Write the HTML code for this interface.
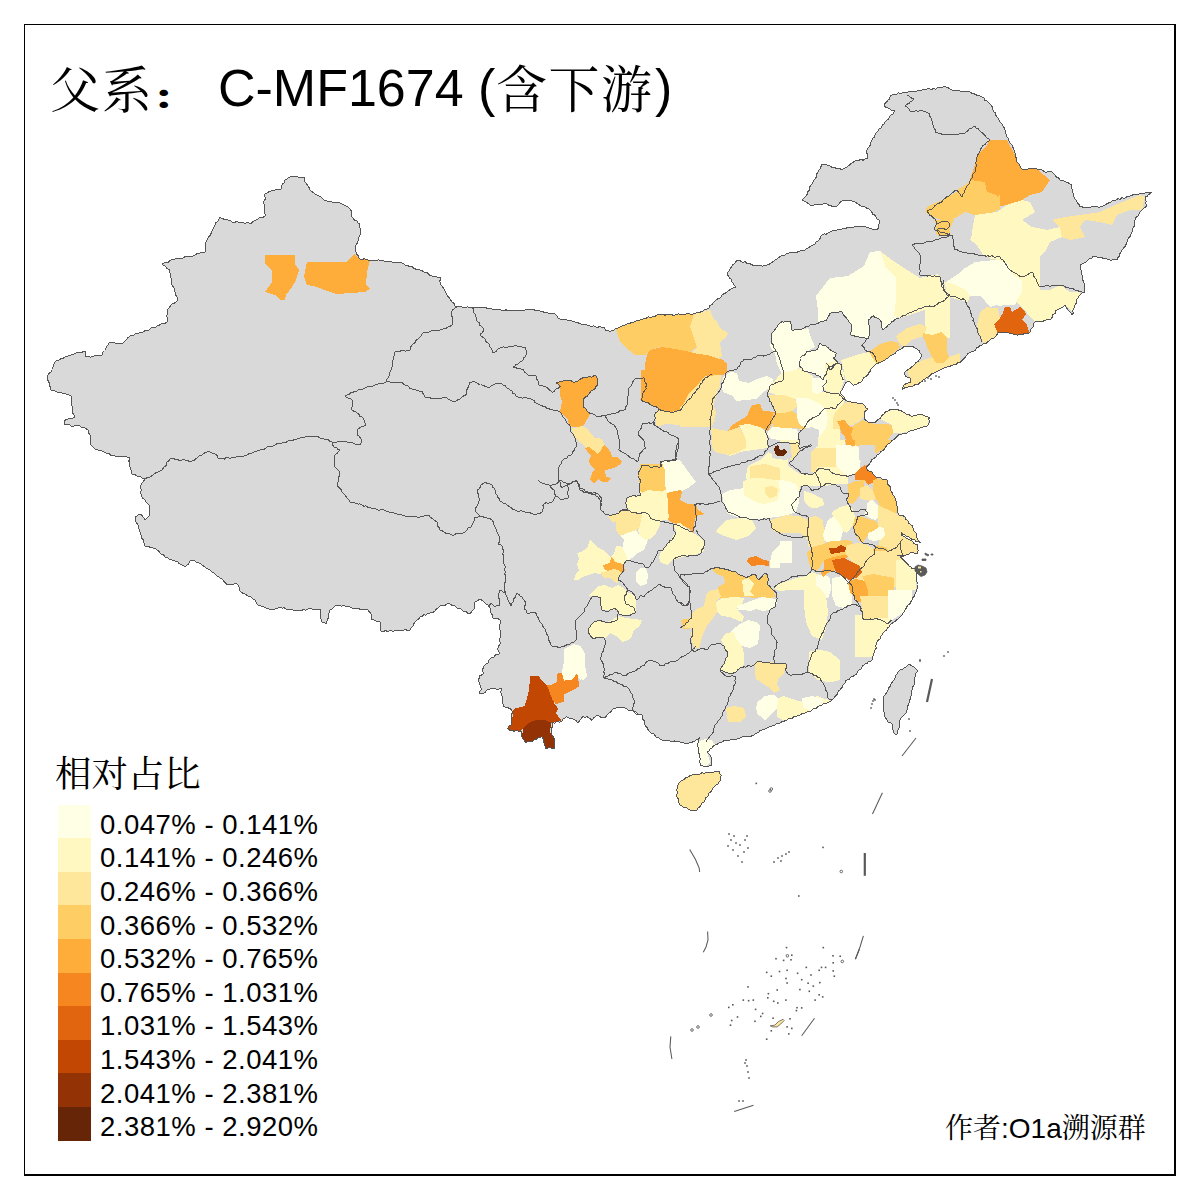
<!DOCTYPE html>
<html><head><meta charset="utf-8"><style>
html,body{margin:0;padding:0;background:#fff;}
svg{display:block;}
.lat{font-family:"Liberation Sans",sans-serif;}
.cjk{font-family:"Liberation Serif","Noto Serif CJK SC",serif;}
</style></head><body>
<svg width="1200" height="1200" viewBox="0 0 1200 1200">
<rect x="0" y="0" width="1200" height="1200" fill="#fff"/>
<g id="map">
<defs><clipPath id="cn"><path d="M47 377 L48 375.1 L49.1 373.2 L50.9 371.9 L52 370 L52.1 367.8 L53.6 366 L54.1 363.9 L55 362 L56.7 360.5 L59 360.3 L60.7 358.7 L63 358.4 L64.7 357 L66.8 356.2 L69 355.8 L71 355 L73.1 354.9 L74.8 353.3 L76.9 352.9 L79.1 352.9 L81.2 352.8 L83 351.7 L85 351 L85.5 353 L85 355.1 L86 357 L88.1 356.2 L90.3 357.3 L92.4 356.3 L94.5 355.9 L96.7 355.7 L98.8 355.9 L101 356 L102.5 354.4 L102.9 352 L104.5 350.5 L105.7 348.7 L106.6 346.6 L107.9 344.9 L109 343 L111.2 342.5 L113.4 342.7 L115.5 343.1 L117.6 343.9 L119.8 343.7 L122 344 L123.4 342.2 L125.3 340.9 L126.8 339.2 L128.2 337.4 L130 336 L132.1 335.7 L134.1 334.9 L135.9 333.5 L138 333.3 L140 332.5 L142.2 332.3 L144.1 331.4 L145.9 330.1 L148.2 330.4 L150 329 L151.7 327.7 L153.7 327.3 L155.8 327 L157.4 325.4 L159.4 325.1 L161.1 323.7 L163.3 323.8 L165.3 323.1 L167 322 L167.1 320 L167.6 318 L166.7 316 L167.3 314 L167.1 312 L167 310 L168.8 308.1 L170.3 306 L172 304 L174.3 303.1 L176.4 301.9 L178 300 L177.2 298.1 L176.7 296.2 L175.1 294.6 L175.3 292.4 L174.5 290.5 L174.2 288.5 L173.2 286.7 L172 285 L171.4 282.9 L171.3 280.7 L171.4 278.5 L170.1 276.5 L170.5 274.3 L169.8 272.2 L170 270 L168.1 269.3 L166.4 268.1 L165.4 266.1 L163.3 265.6 L162 264 L164 262.8 L166.3 262.2 L168.7 262 L170.4 260.1 L172.8 259.8 L175 259 L177 258.7 L179.1 258.8 L181.1 258.3 L183.1 257.9 L184.9 256.7 L187 256.5 L189 256 L191.1 256.4 L193.1 256.1 L195 255 L196.8 253.9 L198.9 253.3 L200.9 252.8 L202.9 252.2 L205 252 L205.2 250 L205.5 248 L205.2 246 L205.1 243.9 L206 242 L206.9 240.1 L207.8 238.1 L209.1 236.4 L210.6 234.8 L211.3 232.7 L212 230.7 L213.2 228.9 L214.2 227 L215 225 L215.7 222.6 L218 221.3 L219.1 219.2 L220 217 L221.8 218.4 L223.8 219.1 L226.1 219.4 L228.1 220.2 L230.2 220.6 L232 222 L234.1 222.4 L236.3 221.8 L238.4 222 L240.5 222.5 L242.6 222.6 L244.7 223.1 L246.8 222.9 L249 223 L251 224 L252.3 222.3 L254 220.9 L256 220 L258.2 218.8 L260.2 217.3 L263 217.5 L265 216 L265 214 L264.1 212 L264.1 210 L264.1 208 L264 206 L264 204 L263.6 201.9 L264.9 200.1 L265.3 198.1 L264.7 196 L265 194 L267 193.2 L268.8 191.8 L270.8 191 L272.9 190.6 L275 190 L276.9 189.3 L279.1 189.8 L281 189 L281.5 186.5 L282.3 184.2 L284.6 182.5 L285 180 L287.5 178.5 L290 177 L292 176.5 L294 177.1 L296 176.3 L298 177 L300 177.7 L302 177.5 L304 177 L304.2 179.6 L305 182 L306.6 183.8 L307.7 185.9 L309.2 187.7 L310 190 L311.5 191.6 L313.5 192.5 L315 194.1 L317 195 L319.1 196 L321.2 197 L322.8 199 L324.6 200.4 L327 201 L328.9 201.7 L331 201.9 L333 202.1 L335 202.2 L337 202 L339.5 202.6 L341.7 204 L344 205 L346.1 206.2 L348.4 207.1 L350 209 L351.2 210.8 L351.3 212.9 L351.9 214.9 L352 217 L353.4 218.6 L354.7 220.3 L356.9 221.1 L358 223.1 L360 224 L359.6 226.1 L360 228.1 L361 230 L360.5 232.4 L360.1 234.8 L359 237 L358.6 239.1 L357.9 241.2 L357.2 243.2 L356 245 L355.8 247.3 L355.4 249.7 L356 252 L356.6 254 L358 255.5 L358.8 257.4 L360 259 L362.1 259.6 L364.3 258.7 L366.4 259.7 L368.5 260.2 L370.7 260.1 L372.8 260.2 L375 260 L377 260.1 L379 259.9 L381 261 L383 260.5 L385 261.4 L386.9 261.8 L389 261.1 L391 261.3 L392.9 262.3 L395 262.2 L397 262 L399.1 262.1 L401.2 262.7 L403.2 263.3 L404.8 265 L407 265 L409 266.3 L411.5 266.2 L413.3 268 L415.4 269 L417.7 269.4 L420 270 L422.1 270.8 L424 272.1 L426.2 272.5 L428.3 273.3 L429.7 275.6 L432 276 L434 276.5 L436 276.5 L437.9 277.4 L440 277 L440.3 279 L439.9 281.1 L440.3 283.1 L441 285 L442.6 286.8 L443.7 288.8 L444.9 290.8 L446.1 292.8 L447 295 L448.1 296.8 L449.8 298.3 L450.8 300.2 L452 302 L454.1 303.3 L454.9 305.8 L457 307 L459.1 306.8 L461.3 306.9 L463.4 307.1 L465.6 307.6 L467.7 306.9 L469.9 307.6 L472 307 L474 307.2 L476 307.4 L478 307.6 L480.1 307.1 L482 307.9 L484 307.7 L486.1 307.7 L488 309 L490 308.3 L492 309 L494 309.5 L496 309.5 L498 309.3 L500 309.8 L502 310.1 L504 310.6 L506.1 309.8 L508 310.7 L510 310.4 L512 311 L514 310.4 L516 311 L518 310.3 L520 310.2 L522 310.3 L524.1 310.3 L526 309.4 L528 309.4 L530 309 L532.1 309.4 L534.2 309.9 L536.2 310.5 L538.3 310.6 L540.4 311.1 L542.5 311.5 L544.5 312.6 L546.6 312.6 L548.6 313.3 L550.7 313.8 L553 313.2 L555 314 L556.6 315.7 L557.9 317.8 L560 319 L562 319.9 L564.4 319.3 L566.5 319.7 L568.6 320.6 L570.8 320.5 L572.9 321.2 L575 322 L577.3 322 L579.2 323.4 L581.3 324.1 L583.4 324.9 L585.8 324.4 L587.8 325.7 L590 326 L592 326.4 L594 325.8 L596 327 L598 327.3 L600 326.3 L602 327.5 L604 327 L605.1 328.9 L606 331 L608 330.7 L610.1 331.2 L612.1 330.7 L614 330 L615.6 328.7 L617.6 328.2 L619.5 327.5 L621.2 326.4 L623 325.4 L625 325 L627.1 324 L629.4 323.9 L631.2 322.2 L633.6 322.2 L635.7 321.3 L637.6 320 L640 320 L642.1 319.1 L644.3 318.9 L646.4 318.1 L648.3 316.9 L650.8 317.6 L652.9 316.7 L655.1 316.3 L657 315 L659 314.4 L661 314.5 L663 314.2 L665 315.2 L667 314.4 L669 314.1 L671 314.5 L673 315.2 L675 315 L677 314.1 L679 313.9 L681 315 L683 314.4 L685 314.6 L687 313.6 L689 313.5 L691 314.4 L693 313.9 L695 314 L696.8 312.6 L699.3 312.9 L701.1 311.7 L703.2 311.1 L704.8 309.3 L707 309 L709 307.8 L709.7 305.3 L712.2 304.6 L713.4 302.6 L715 301 L716.6 299.5 L718.5 298.5 L720.5 297.7 L721.6 295.6 L723.2 294.1 L725.3 293.3 L727 292 L728.6 290.7 L730.3 289.5 L732.2 288.6 L733.9 287.4 L736 287 L734.3 285.4 L733.2 283.4 L731.9 281.6 L731.2 279.3 L729.3 277.9 L728.3 275.9 L727 274 L727.9 272 L729.3 270.4 L730.2 268.3 L731.7 266.8 L732.7 264.8 L734.8 263.7 L735.8 261.8 L737 260 L739.1 260.2 L741 261.2 L742.8 262.4 L745.2 261.8 L746.9 263.5 L749 263.5 L751 264.2 L752.9 265.3 L755 265.2 L757 266 L759 265.8 L761 265.9 L763.1 266.1 L765 265 L767 265 L769.1 264.3 L771 263.1 L772.8 261.9 L774.5 260.5 L776.4 259.3 L778.1 257.8 L780 256.8 L781.9 255.6 L784.3 255.4 L786 254 L788 253.2 L790.1 252.6 L792.2 252.1 L794.5 252.7 L796.7 252.3 L798.7 251.6 L800.7 250.6 L802.8 250.1 L805 250 L806.8 248.5 L809 247.5 L810.7 246 L813 245.1 L815 244 L816.1 242 L818.3 240.8 L819.8 239 L820.7 236.8 L822 235 L824 233.9 L826.5 234.2 L828.3 232.6 L830.5 231.9 L832.5 230.7 L834.8 230.5 L837 230 L839.1 229.6 L841.2 229.3 L843.2 228.6 L845.3 228.7 L847.3 227.6 L849.4 227.7 L851.5 227.1 L853.6 227.2 L855.6 226.3 L857.7 226 L859.9 226 L862 226 L864.2 226.2 L866.3 227.3 L868.4 227.8 L870.5 228.6 L872.7 229.1 L874.8 229.7 L877 230 L878.3 228.2 L878.3 225.9 L879 223.9 L880 222 L879.1 219.8 L876.7 218.9 L876 216.6 L874.5 215 L872.3 213.9 L871.8 211.4 L870 210 L868.5 208.6 L866.5 208 L864.8 207 L863 206 L860.8 206 L859.2 204.6 L857.4 203.7 L855.8 202.4 L854 201.5 L852 201 L850 200.5 L848 200.9 L846 200.4 L844 200.7 L842 201 L840.1 202.3 L838.8 204.3 L837.2 206 L835 207 L832.8 206.8 L830.9 205.7 L828.8 205.3 L827 204 L824.8 203.6 L822.7 204.2 L820.6 204.2 L818.5 204.3 L816.4 204.4 L814.3 204.8 L812.2 205.6 L810 205 L808.2 203.4 L806.2 202.2 L804 201.2 L802 200 L804 198 L806 196 L807.2 194.2 L807.3 191.9 L809.1 190.5 L809.4 188.3 L810.1 186.3 L811.3 184.5 L812.9 183 L813.1 180.7 L814.8 179.2 L816.1 177.5 L816.3 175.3 L817.1 173.3 L818.2 171.5 L819.4 169.8 L820.5 167.9 L821.2 166 L822 164 L823.9 164.8 L826.2 164.6 L828.2 165.3 L830.1 166 L831.9 167.3 L834.1 167.3 L836 168.3 L838.2 168.1 L840.2 168.8 L842 170 L843.7 168.4 L845.9 167.6 L847.7 166.4 L849.6 165.1 L851.1 163.3 L853.2 162.3 L855 161 L857 160.6 L859 160.3 L860.9 159.4 L863.1 160.2 L864.9 158.9 L867 159 L867.7 156.8 L867.7 154.5 L866.3 152.2 L867 150 L867.9 148.1 L869.4 146.5 L870.6 144.7 L870.9 142.5 L871.7 140.5 L872.6 138.5 L874.6 137.2 L875 135 L875.9 133.1 L877.6 131.8 L878.3 129.8 L880 128.5 L881.8 127.3 L882.1 124.9 L884.1 123.9 L885 122 L886.4 120.4 L888.3 119.2 L889.5 117.5 L890.4 115.4 L892.6 114.5 L893.6 112.6 L895 111 L892.9 110.8 L891 110 L889.5 108.5 L887.6 107.7 L885.7 107.1 L884 106 L884.9 103.8 L886.5 102.2 L887.8 100.3 L889.7 99 L890.1 96.4 L892 95 L894.3 94.9 L896.4 94.5 L898.4 92.9 L900.8 93.6 L902.9 92.8 L905 92 L907.1 92.4 L909 91.3 L911 91.2 L913 91 L915.1 91.7 L917 90.9 L919 90.4 L921 90.3 L923 89.9 L925 90 L927 89 L929.1 88.8 L931.4 89.6 L933.4 88.5 L935.6 89.1 L937.5 87.8 L939.7 87.6 L941.8 87.6 L943.8 86.8 L946 87 L948.1 87.8 L950 89 L951.9 90 L953.9 90.2 L955.9 90.4 L958 90.4 L959.9 91.1 L961.9 91.5 L964 91.2 L966 91.7 L968.1 91 L970 92 L971.9 93.2 L974 93.6 L975.9 94.8 L977.9 95.5 L980.1 95.9 L982 97 L983.9 97.8 L984.6 100.1 L986.9 100.6 L988 102.3 L989.7 103.5 L991 105 L992.3 106.9 L992.7 109.2 L993.4 111.3 L995.3 112.8 L995.8 115.1 L997 117 L998.4 118.7 L999.2 120.8 L1000.6 122.5 L1002 124.2 L1003.1 126 L1004.2 127.9 L1005 130 L1005.1 132.5 L1006.3 134.7 L1007 137 L1008.6 138.8 L1009 141.3 L1010.1 143.4 L1012 145 L1012.7 147 L1013.7 148.8 L1014.2 150.9 L1015 152.8 L1015 155 L1015.9 157.3 L1016.9 159.5 L1017 162 L1018.6 163.5 L1019.8 165.3 L1020.7 167.3 L1022 169 L1024.1 169.6 L1026.3 169.4 L1028.4 168.9 L1030.6 168.9 L1032.7 169 L1034.9 168.8 L1037 169 L1039.1 169.4 L1041.2 169.6 L1043.1 170.5 L1044.8 172.1 L1047 172 L1049.5 171.4 L1052 172 L1053.6 173.6 L1055.1 175.3 L1056.4 177.2 L1058.7 178.1 L1060 180 L1062.1 180.3 L1064.1 181 L1066 181.9 L1068 182.6 L1069.8 184 L1072 184 L1071.5 186 L1071.4 188 L1072.7 190 L1072 192 L1073.6 193.7 L1073.7 196.1 L1074.5 198.3 L1076 200 L1077 201.7 L1077.9 203.6 L1079.7 204.9 L1080 207 L1082 206.8 L1084 207.6 L1086 207.5 L1088 207.5 L1090 207.7 L1092 206.6 L1094 206.4 L1096 206.5 L1098 207 L1100 207 L1102.1 206.2 L1104.3 205.6 L1106.1 204.3 L1108.1 203.2 L1110.2 202.4 L1112 201 L1114 200.4 L1116 200 L1117.8 198.7 L1120.1 199.2 L1121.9 197.8 L1124.2 198.3 L1126.1 197.3 L1127.9 196.3 L1130 196 L1131.9 195.1 L1133.9 194.8 L1136 195 L1138.1 194.7 L1139.9 193.4 L1141.9 193 L1144 193.2 L1146 192.9 L1148 192.2 L1150 192 L1152 192 L1150.5 193.6 L1148.4 194.4 L1147.2 196.3 L1145 197 L1145.8 199.2 L1146.1 201.5 L1145.8 203.9 L1147 206 L1145.1 207.3 L1143.1 208.6 L1141.8 210.5 L1140 212 L1139.1 214.2 L1137.8 216.2 L1135.7 217.6 L1135 220 L1134.2 221.9 L1134.3 224.1 L1134.2 226.2 L1133 228 L1132.2 229.9 L1132 232 L1131.1 234.1 L1130.3 236.2 L1128.8 237.9 L1127.4 239.7 L1127 242 L1126.1 244.2 L1125.1 246.4 L1123.5 248.1 L1122 250 L1121.1 252.1 L1119.8 253.9 L1119.4 256.2 L1117.6 257.8 L1117 260 L1114.7 259.6 L1112.3 260 L1110 260 L1107.7 259.9 L1105.9 258.2 L1103.5 258.6 L1101.6 257.3 L1099.2 257.5 L1097 257 L1095 256 L1092.9 256.8 L1091.4 258.5 L1089 258.8 L1087.5 260.5 L1085.9 262 L1084 263.1 L1081.9 264 L1080 265 L1080.2 267 L1080.1 269.1 L1081.7 270.9 L1081.8 273 L1082 275 L1082.8 277.1 L1082 279.4 L1083.7 281.3 L1084.2 283.4 L1084.5 285.5 L1084.4 287.7 L1084 290 L1085 292 L1082.2 293 L1080 295 L1078.7 296.8 L1077.3 298.7 L1076.4 300.7 L1076.2 303.1 L1075 305 L1074.9 307.1 L1073.2 308.8 L1072.8 310.9 L1073.3 313.2 L1072 315 L1071 313.2 L1069.5 311.8 L1068.3 310.1 L1067.1 308.5 L1065.8 307 L1065 305 L1063.4 306.9 L1061.2 307.8 L1059.1 308.9 L1057 310 L1055.3 311.3 L1055.1 313.7 L1052.9 314.6 L1052.7 316.9 L1051.3 318.5 L1050 320 L1047.8 319.8 L1045.7 320.1 L1043.6 321 L1041.5 321.8 L1039.3 321.5 L1037.2 321.9 L1035 322 L1033.4 323.7 L1033.4 326.2 L1032.2 328.1 L1030.5 329.7 L1030 332 L1028.2 333.4 L1026 333.6 L1023.8 333.8 L1022 335 L1020.1 334.3 L1017.9 335.1 L1015.9 334.9 L1013.9 334.6 L1012.1 333 L1010 333.7 L1008.1 332.7 L1006.1 332.2 L1004 332.8 L1002 332.6 L1000 332 L997.8 333.2 L996.5 335.2 L995 337 L993.3 338.4 L991.1 339 L989.6 340.7 L987.7 341.9 L986.1 343.3 L983.7 343.5 L982 345 L980 345.6 L978.6 347.1 L976.6 347.8 L975.7 350 L973.9 350.9 L972 351.7 L970 352.2 L968.3 353.3 L967 355 L965.7 356.7 L964.5 358.3 L962.9 359.7 L961.4 361.2 L960 362.7 L957.6 362.9 L955.9 364.7 L953.4 364.7 L951.3 365.6 L949.3 366.7 L947.2 366.9 L945.2 367.6 L943.3 368.5 L941.3 369.3 L939.4 370.5 L937.4 371.5 L935.4 372.5 L933.3 373.3 L930.9 374.3 L929.2 376.5 L926.7 377.3 L925.3 379 L923.1 379.7 L921.9 381.6 L920 382.7 L918.4 384.1 L916.6 384.9 L914.4 385 L912.7 386.1 L910.7 386.7 L908.5 386.7 L906.5 387.5 L904.5 388 L902.7 389.3 L903 387 L904 385 L906 383.6 L908.3 382.9 L910.7 382.7 L910.7 380.7 L910.7 378.7 L909 377.5 L907.1 377 L905.3 376 L904 373 L905.4 371.4 L907.3 370.2 L909 369 L910.9 367.6 L912.7 366 L914.5 364.6 L916 362.7 L918.4 361.1 L920 358.7 L921.2 356.8 L922 354.7 L919.9 353.2 L919.1 350.6 L917 349 L914.8 348.1 L913 346.7 L910.8 346.6 L908.5 346.9 L906.2 346.3 L904 346.7 L902.5 348.1 L900.7 349 L898.9 350 L897 350.7 L895.4 353.1 L893 354.7 L890.6 355.5 L888.7 357.3 L886.7 358.7 L884.6 360.3 L882.3 361.5 L880 362.7 L877 363.3 L874.7 365.3 L872.7 367.3 L870.7 369.3 L870.2 371.3 L868.5 372.7 L868 374.7 L866.1 376.3 L863.9 377.7 L862.7 380 L861.3 381.8 L859.1 382.7 L857.3 384 L855.2 384.2 L853.3 385.3 L851.8 383.6 L850.1 382.1 L848 381.3 L845.3 382.7 L844.9 385 L843.6 386.8 L842.8 389 L841.3 390.7 L840 393.3 L842.3 395 L844 397.3 L845.3 400 L847.3 401.2 L849.5 401.2 L851.6 402.2 L853.9 402 L856 402.7 L858.1 403.7 L860.5 403.5 L862.7 404 L864.7 405.5 L865.9 407.8 L868 409.3 L865.5 410.8 L864 413.3 L864.6 416 L864 418.7 L865.7 420.1 L867.4 421.5 L869.3 422.7 L872 422.3 L874.7 422.7 L876.3 421.2 L877.9 419.6 L880 418.7 L881 416.7 L882.4 415.1 L884.1 413.8 L885.3 412 L887.4 411.5 L889.2 410.2 L891.1 409.3 L893.3 409.3 L895.3 409 L897.3 409.3 L899 410.4 L901.1 410.7 L902.7 412 L904.9 413.1 L906.7 414.7 L909 414.7 L911 416 L913.3 416 L915.5 415.6 L917.6 414.5 L920 414.7 L922.5 414.8 L924.7 415.8 L927 416.7 L929.3 417.3 L928.8 419.3 L929.3 421.4 L928.8 423.4 L928 425.3 L925.3 426.7 L922.6 427.1 L920 428 L917.7 428.8 L915.4 429.7 L913.1 430.3 L910.7 430.7 L908.3 431.4 L906.7 433.3 L904.7 433.9 L902.7 433.9 L900.7 434.6 L898.7 434.7 L896 437.3 L894.3 439.2 L892.1 440.5 L890.7 442.7 L888.3 443.4 L886.7 445.3 L885.5 447.2 L884.4 449.2 L882.7 450.7 L880.7 451.8 L879.4 453.7 L877.3 454.7 L875.8 457.2 L873.3 458.7 L871.5 460.1 L870.7 462.3 L869.3 464 L866.7 466.7 L866.9 468.8 L868 470.7 L870 471.2 L872 472 L872.9 474 L874.7 475.3 L876 477 L878.2 477.2 L880.2 477.6 L882 479 L884.5 479.6 L887 480 L887.6 482.3 L888 484.6 L890 486.4 L890 488.9 L891 491 L892.2 492.9 L893 495 L894.5 496.8 L895.3 498.9 L896 501 L896.4 503 L896.2 505.1 L897.9 506.9 L897.7 509 L897.7 511.1 L897.9 513.1 L899 515 L901.1 515.2 L903.2 515.8 L905 517 L906 519.4 L908 521 L908.7 523.2 L910.5 524.5 L912.3 525.9 L913 528 L914 530.8 L916 533 L916.7 535 L916.4 537.1 L917.5 539 L918.6 540.9 L920 542.5 L918.3 541.2 L915.9 541.3 L914.4 539.5 L912.1 539.5 L910.3 538.3 L908.6 536.9 L906.5 536.5 L905.1 534.9 L902.9 534.6 L901.5 533 L902 535.5 L903.9 536.2 L905.5 537.5 L907.2 538.7 L909 539.6 L910.9 540.3 L912.5 541.5 L913.9 543.2 L915.5 544.5 L917.5 545 L917.5 548 L918.2 550.2 L917.5 552.5 L917 553.5 L914.7 553.2 L912.4 552.8 L910 553 L908.6 554.6 L906.5 555 L904.3 555.2 L902.7 556.9 L900.5 557 L901.9 558.6 L903.5 560 L905.4 562.1 L907.5 564 L909 565.8 L911 567.1 L912.5 569 L915 568.5 L916.4 570.7 L917.5 573 L916 575 L917 578 L916.9 580.3 L917.1 582.7 L917 585 L918 587.5 L916.8 589.5 L916.1 591.7 L915.1 593.8 L914.6 596.1 L912.8 597.8 L912 600 L910.8 601.7 L910 603.6 L908.2 604.8 L907 606.4 L906.2 608.4 L905 610 L904.1 612 L902.5 613.5 L901.7 615.6 L900 617 L898.7 618.8 L896.7 619.7 L895.4 621.5 L893.4 622.4 L891.7 623.7 L890 625 L889.2 627.1 L887.2 628.2 L886.5 630.4 L884.4 631.4 L883 633.1 L882 635 L880.7 636.7 L880 638.9 L878.2 640.2 L877 642 L876.8 644 L875.5 645.9 L876.3 648.1 L874.9 649.9 L875 652 L873.6 653.7 L873.2 655.9 L872.3 657.8 L872 660 L870.6 661.5 L868.3 661.7 L867 663.5 L864.9 664.1 L863.3 665.3 L862 667 L861 668.9 L858.9 669.9 L857.3 671.4 L856.9 673.8 L855 675 L853.1 676.4 L850.8 677.2 L849.3 679.2 L847 680 L845.3 681.3 L844.9 683.5 L843.1 684.7 L842.8 687 L841.2 688.3 L840 690 L838.2 691.3 L837.7 693.6 L836.3 695.2 L834.7 696.7 L833.5 698.5 L832 700 L830.3 701.6 L828.2 702.4 L826.2 703.5 L823.7 703.4 L822 705 L819.9 705.8 L817.7 706.5 L816.2 708.4 L813.8 708.6 L812 710 L810.2 711.4 L808 711.6 L805.9 712.3 L804.1 713.5 L801.8 713.7 L800 715 L797.8 715.8 L795.6 716.6 L793.3 717 L791.5 718.9 L788.9 718.5 L787 720 L784.9 720.7 L783.1 721.8 L780.8 722.1 L779.1 723.7 L776.7 723.5 L775 725 L772.8 725.7 L770.7 726.9 L768.4 727.1 L766.4 728.4 L764.3 729.6 L762 730 L759.8 730.9 L758.3 732.9 L755.8 733.1 L754.2 735 L751.9 735.7 L750 737 L748 736.3 L746 736.9 L744 736.8 L742 737 L740.1 737.8 L738.2 738.7 L736.2 739.2 L734.1 739.5 L732 739.3 L730 740 L728 740.5 L726 740.8 L723.9 740.6 L722.1 742.1 L720 742 L717.7 743.9 L715 745 L713.2 746.2 L712.1 748.2 L710 749 L709 751 L707 752 L708.7 753.3 L710 755 L711 756.9 L711 759 L711.6 760.9 L711.5 763 L712 765 L709.6 765.5 L707.5 766.8 L705 767 L702.6 765.8 L700 765 L700 763 L699.5 761 L700.7 759 L699.6 757 L700 755 L698.9 753.2 L698.2 751.2 L698.4 748.9 L698.1 746.8 L697 745 L698.1 743.1 L698.4 740.9 L698.9 738.9 L700 737 L698.8 738.9 L696.5 739.5 L695 741 L693 741.7 L691.1 742.7 L688.9 743 L687 744 L684.6 743.4 L682.5 742 L680 742 L678 741.5 L676 742 L674.1 740.8 L671.9 741.9 L670 741 L668 740.6 L666 740.3 L663.9 740.2 L661.9 740 L660 739 L658.6 737.5 L656.2 737.3 L655 735.4 L653.7 733.8 L651.4 733.6 L650 732 L648.4 730.5 L647.6 728.4 L646.3 726.7 L645 725 L644.6 722.9 L644.3 720.9 L642.7 719.1 L642.3 717.1 L642 715 L639.9 714.4 L637.7 714 L636.2 712 L634.2 711.3 L632.1 710.5 L630 710 L627.8 710.1 L626.1 708.3 L624.1 707.8 L622 707.6 L620 707 L617.6 707.2 L615.4 708.2 L613 708.7 L611.7 710.5 L610.3 712.2 L608.3 713.3 L607.1 715.1 L605.7 716.9 L603.7 718 L601.3 717.5 L599.2 716.1 L596.7 715.7 L594.9 717 L593.2 718.4 L592 720.3 L589.8 718.3 L587.3 716.8 L585 717.2 L582.7 716.8 L581.1 718.7 L579.6 720.8 L578 722.7 L575.9 720.6 L573.3 719.2 L571 718.4 L568.5 717.9 L566.3 716.8 L564.6 718.2 L562.7 719.4 L561.7 721.5 L559.4 722.2 L556.9 721.5 L554.7 723.1 L552.3 722.7 L552.4 725.1 L552.1 727.4 L551.1 729.6 L551.2 732 L551.8 734.6 L553.2 736.8 L554.7 739 L555 741.3 L554.1 743.6 L555 746 L554.7 748.3 L552.4 748.7 L550 747.7 L547.6 748.1 L545.3 748.3 L545 745.9 L544.2 743.7 L543.6 741.3 L543.3 738.8 L541.8 736.7 L540 737.7 L537.9 738.1 L536.1 739.2 L534.1 739.9 L532.5 741.3 L530.2 741.8 L527.8 741.8 L525.5 742.5 L524.4 740.5 L522.9 738.8 L522 736.7 L521.2 734.8 L521.4 732.7 L520.8 730.8 L518.8 731.4 L516.8 730.2 L514.7 731.3 L512.7 730.8 L510 730.3 L508 728.5 L508.7 726.3 L510.9 725 L511.5 722.7 L511.5 720.5 L511.4 718.4 L511.5 716.2 L511.8 714.1 L512.7 712 L511.7 710.2 L510.3 708.7 L508 707.8 L505.7 707.1 L503.3 706.7 L503.4 704.5 L502.1 702.5 L502.7 700.3 L502.1 698.2 L502 696 L501.4 693.8 L500 692 L501.4 690.5 L502 688.5 L500 688.1 L498.1 689.5 L496 689 L493.7 688.7 L491.4 688.9 L489.2 689.1 L487 690 L485.7 691.8 L483.9 693 L482 694 L479 693 L480 690.7 L482 689 L480.4 687.3 L480 685 L479.5 682.8 L478 681 L479 678.6 L479 676 L481.1 675.2 L483 674 L483 671.9 L482 670 L483.2 668.1 L484 666 L485.8 664.2 L488 663 L488.5 660.7 L490 659 L491.7 657.5 L494 657 L496 654 L499 654 L499 651.9 L497.9 650.1 L498 648 L498.8 645.9 L500 644 L500 642 L499.5 640 L500 638 L500.5 636 L500 633.8 L500.6 631.5 L499.9 629.3 L500 627 L499.7 624.7 L500.7 622.3 L500 620 L497 618 L495 618 L493 618 L492.5 615.3 L491 613 L490.7 610.5 L490 608 L488 605 L485.9 604.2 L484.6 602.4 L483 601 L480 599 L477.5 600.6 L475 602 L474.3 604.3 L474.6 606.7 L474 609 L472.4 610.5 L471.3 612.3 L470 614 L467.8 613.4 L466.2 611.5 L463.7 611.5 L462 610 L460.5 608.6 L458.3 608.4 L456.4 607.6 L455 606 L452.9 605.9 L451.1 604.6 L449.2 603.8 L447 604 L444.9 605.4 L442.3 605.3 L440 606 L438.3 607.7 L436.4 609 L435 611 L433.3 612.2 L431.3 612.5 L429.5 613.5 L427.3 613.5 L425.8 615.1 L423.5 614.9 L422 616.6 L420 617 L418.6 619 L416.5 620.1 L415 622 L413.8 624 L413 626.3 L411.1 627.9 L410 630 L408 630.7 L406 629.8 L404 630 L402 630 L400 630.4 L398 630.9 L396 630.9 L394 631 L392 631 L389.8 630.4 L387.6 631.6 L385.4 630.4 L383.2 631.7 L381 631 L380.3 628.8 L380.1 626.5 L380.8 624.2 L380 622 L378 621.5 L376 621.2 L374.1 619.9 L372 620 L371.6 617.5 L372 615 L370.3 613 L368.7 611 L367 609 L364.4 609.1 L362 610 L360.1 609.1 L358.1 608.8 L355.9 608.7 L353.9 608.3 L351.9 608 L350 607 L347.9 606.2 L345.7 606.1 L343.6 605.6 L341.3 606.2 L339.2 605.4 L337 605 L335 605.9 L333.4 607.4 L332.1 609.2 L330 610 L329.5 612 L328.3 613.8 L328.7 616.1 L328.2 618.1 L327.4 620.1 L326.3 621.9 L326 624 L324.2 622.5 L322 622 L321.2 619.9 L320.8 617.7 L320.6 615.6 L320.4 613.4 L320.4 611.2 L320 609 L318 609.5 L316 609.3 L314 609.5 L312 609 L309.8 608.5 L307.7 609.2 L305.7 610.3 L303.4 609.3 L301.4 610.8 L299.3 610.7 L297 610 L295 611 L293 610 L290.8 609.5 L288.5 609.4 L286.3 609.2 L284.3 607.9 L282 608.1 L280 607 L278.1 608 L276 608.4 L274.2 609.5 L272 609.5 L270 610 L268.3 608.7 L266.4 608 L264.4 607.4 L262.7 606.4 L260.7 605.8 L258.6 605.3 L257 604 L256.1 601.9 L255 600 L253.2 599.1 L251.7 597.7 L250.1 596.5 L247.9 596.1 L246.3 594.9 L244.7 593.7 L242.7 593.1 L241 592 L239.6 590.2 L239.3 587.9 L238.5 585.7 L237 584 L235 583.8 L233 584.1 L230.9 584.1 L229 584.5 L227 585 L225.5 582.9 L223.6 581 L222 579 L220.2 578.1 L218.8 576.5 L216.7 576 L215.3 574.4 L213.9 572.8 L212 572 L210.4 570.4 L208.4 569.2 L206.3 568.3 L204.6 566.8 L202.8 565.4 L201 564 L198.8 562.8 L196.4 562.1 L194.4 560.8 L192 560 L189.8 561.3 L188.8 563.8 L186.6 565.1 L185 567 L183.2 565.4 L180.9 564.7 L179 563.4 L177.4 561.6 L175 561 L172.7 560.8 L171 559.3 L168.8 559.1 L167.2 557.4 L165 557 L163.9 555.2 L162 554.3 L160.1 553.4 L159.1 551.6 L157.5 550.3 L156 549 L153.9 548.1 L151.6 547.8 L149.5 547 L147.3 546.1 L145 546 L144.3 544 L143.4 542 L143.5 539.8 L141.7 538.1 L141.7 535.9 L140.6 534.1 L140 532 L139.7 529.7 L138 527.9 L138.5 525.3 L136.9 523.5 L135.8 521.5 L135.4 519.2 L135 517 L136.9 515.9 L138.7 514.3 L141 514 L142.4 515.9 L143.8 517.9 L145 520 L146.9 518.5 L148.2 516.5 L150 515 L149.4 513 L149.2 511 L149.8 509 L149.9 506.9 L149 505 L147.6 503.4 L145.9 502.1 L145.1 499.9 L143.3 498.7 L142 497 L141.2 494.9 L140.7 492.7 L141.2 490.3 L140.9 488.1 L140 486 L141.4 484.4 L142.5 482.5 L143.8 480.8 L145 479 L142.7 478.6 L140.9 476.7 L138.4 476.7 L136.4 475.5 L134.3 474.4 L132 474 L131.8 471.5 L130.6 469.3 L130 467 L129.5 465 L129.7 463 L128.8 461.1 L129.7 459 L129 457 L127 457.1 L125 456.2 L123 456.9 L121 456.6 L119 456.7 L117 456.3 L115 456 L112.7 455.6 L110.4 455 L108.6 453.2 L106.2 453 L104 452.2 L102 451 L99.6 450.6 L97.3 449.7 L95 449 L92.9 447.1 L91 445 L90.9 443 L90.7 441 L89.9 439 L90.5 436.9 L90.1 434.9 L88.6 433.1 L89 431 L87.4 429.6 L85.7 428.5 L83.8 427.6 L81.5 427.5 L80 426 L77.9 425.4 L75.7 425.5 L73.5 426.3 L71.4 426.2 L69.3 424.6 L67.2 424.9 L65 425 L64.1 423.1 L64 421 L66 419.6 L68.2 418.9 L70.5 418.2 L72.9 418.2 L75 417 L73.8 414.8 L72.5 412.5 L72 410 L72.4 407.9 L72 406 L70.9 404 L71.8 401.9 L71 400 L71.2 398 L71 396 L69.1 395 L67.1 394.6 L65.2 393.7 L63.1 393.3 L61.1 392.7 L58.9 393 L57 392 L55.1 391.1 L53 390.6 L51 390 L50.7 387.7 L49.6 385.7 L49.5 383.3 L48.4 381.3 L47.3 379.3 Z M677 787 L678.2 784.3 L680 782 L681.7 780.4 L684 779.7 L685.7 777.9 L688 777.3 L689.7 775.7 L692 775 L694 774.7 L696 774.3 L698 774.1 L700.1 774.2 L701.9 772.6 L704.1 773.5 L706 772.6 L708 772.4 L710 772 L712 772 L714.1 772.1 L716 771.2 L718 771.1 L720 771 L719.6 773.3 L721.1 775.4 L720.5 777.8 L721 780 L719.3 781.5 L718.5 783.8 L716.4 784.9 L714.8 786.5 L713 787.9 L712 790 L711 791.8 L709.1 792.9 L708.5 795 L707.4 796.7 L705.7 798 L705 800 L704.2 802.1 L702.1 803.1 L700.9 804.9 L699.9 806.8 L697.9 808 L697 810 L694.5 810.7 L692 811 L690 810 L688 809 L686.2 807.6 L683.8 807.4 L682 806.1 L680 805 L679.1 803 L678.6 801 L678.2 798.8 L677 797 L676.7 795 L677.5 793 L676.9 791 L677 789 Z M909 664 L912 666 L914.2 667.2 L916 669 L918 671 L916 673 L915.7 675.3 L914.6 677.6 L915 680 L914.3 682.5 L914 685 L912.6 687.3 L912 690 L911.9 692 L911.6 694 L911 696 L910.6 698.4 L909.5 700.6 L909 703 L908.1 705.3 L907.3 707.5 L907 710 L906.1 712.9 L904 715 L902.4 716.5 L900.9 718 L900 720 L899.4 722.5 L899 725 L899.2 727.6 L898 730 L897.8 732.1 L897 734 L895 734 L893.3 732.3 L893 730 L892.5 727.5 L893 725 L890.8 723 L888 722 L886.6 719.4 L885 717 L884.6 714.6 L884.1 712.2 L883 710 L883.6 708 L883.2 706 L883.2 704 L883.2 702 L883 700 L883.8 698.1 L884 696 L885.5 694.1 L886.9 692.2 L888 690 L888.6 687.8 L890.2 686.1 L891 684 L892.3 682 L894 680.2 L895 678 L895.7 675.7 L897.1 673.7 L898.2 671.6 L900 670 L902.2 669.4 L904 668 L906.1 667.2 L907.5 665.5 Z"/></clipPath></defs>
<path d="M47 377 L48 375.1 L49.1 373.2 L50.9 371.9 L52 370 L52.1 367.8 L53.6 366 L54.1 363.9 L55 362 L56.7 360.5 L59 360.3 L60.7 358.7 L63 358.4 L64.7 357 L66.8 356.2 L69 355.8 L71 355 L73.1 354.9 L74.8 353.3 L76.9 352.9 L79.1 352.9 L81.2 352.8 L83 351.7 L85 351 L85.5 353 L85 355.1 L86 357 L88.1 356.2 L90.3 357.3 L92.4 356.3 L94.5 355.9 L96.7 355.7 L98.8 355.9 L101 356 L102.5 354.4 L102.9 352 L104.5 350.5 L105.7 348.7 L106.6 346.6 L107.9 344.9 L109 343 L111.2 342.5 L113.4 342.7 L115.5 343.1 L117.6 343.9 L119.8 343.7 L122 344 L123.4 342.2 L125.3 340.9 L126.8 339.2 L128.2 337.4 L130 336 L132.1 335.7 L134.1 334.9 L135.9 333.5 L138 333.3 L140 332.5 L142.2 332.3 L144.1 331.4 L145.9 330.1 L148.2 330.4 L150 329 L151.7 327.7 L153.7 327.3 L155.8 327 L157.4 325.4 L159.4 325.1 L161.1 323.7 L163.3 323.8 L165.3 323.1 L167 322 L167.1 320 L167.6 318 L166.7 316 L167.3 314 L167.1 312 L167 310 L168.8 308.1 L170.3 306 L172 304 L174.3 303.1 L176.4 301.9 L178 300 L177.2 298.1 L176.7 296.2 L175.1 294.6 L175.3 292.4 L174.5 290.5 L174.2 288.5 L173.2 286.7 L172 285 L171.4 282.9 L171.3 280.7 L171.4 278.5 L170.1 276.5 L170.5 274.3 L169.8 272.2 L170 270 L168.1 269.3 L166.4 268.1 L165.4 266.1 L163.3 265.6 L162 264 L164 262.8 L166.3 262.2 L168.7 262 L170.4 260.1 L172.8 259.8 L175 259 L177 258.7 L179.1 258.8 L181.1 258.3 L183.1 257.9 L184.9 256.7 L187 256.5 L189 256 L191.1 256.4 L193.1 256.1 L195 255 L196.8 253.9 L198.9 253.3 L200.9 252.8 L202.9 252.2 L205 252 L205.2 250 L205.5 248 L205.2 246 L205.1 243.9 L206 242 L206.9 240.1 L207.8 238.1 L209.1 236.4 L210.6 234.8 L211.3 232.7 L212 230.7 L213.2 228.9 L214.2 227 L215 225 L215.7 222.6 L218 221.3 L219.1 219.2 L220 217 L221.8 218.4 L223.8 219.1 L226.1 219.4 L228.1 220.2 L230.2 220.6 L232 222 L234.1 222.4 L236.3 221.8 L238.4 222 L240.5 222.5 L242.6 222.6 L244.7 223.1 L246.8 222.9 L249 223 L251 224 L252.3 222.3 L254 220.9 L256 220 L258.2 218.8 L260.2 217.3 L263 217.5 L265 216 L265 214 L264.1 212 L264.1 210 L264.1 208 L264 206 L264 204 L263.6 201.9 L264.9 200.1 L265.3 198.1 L264.7 196 L265 194 L267 193.2 L268.8 191.8 L270.8 191 L272.9 190.6 L275 190 L276.9 189.3 L279.1 189.8 L281 189 L281.5 186.5 L282.3 184.2 L284.6 182.5 L285 180 L287.5 178.5 L290 177 L292 176.5 L294 177.1 L296 176.3 L298 177 L300 177.7 L302 177.5 L304 177 L304.2 179.6 L305 182 L306.6 183.8 L307.7 185.9 L309.2 187.7 L310 190 L311.5 191.6 L313.5 192.5 L315 194.1 L317 195 L319.1 196 L321.2 197 L322.8 199 L324.6 200.4 L327 201 L328.9 201.7 L331 201.9 L333 202.1 L335 202.2 L337 202 L339.5 202.6 L341.7 204 L344 205 L346.1 206.2 L348.4 207.1 L350 209 L351.2 210.8 L351.3 212.9 L351.9 214.9 L352 217 L353.4 218.6 L354.7 220.3 L356.9 221.1 L358 223.1 L360 224 L359.6 226.1 L360 228.1 L361 230 L360.5 232.4 L360.1 234.8 L359 237 L358.6 239.1 L357.9 241.2 L357.2 243.2 L356 245 L355.8 247.3 L355.4 249.7 L356 252 L356.6 254 L358 255.5 L358.8 257.4 L360 259 L362.1 259.6 L364.3 258.7 L366.4 259.7 L368.5 260.2 L370.7 260.1 L372.8 260.2 L375 260 L377 260.1 L379 259.9 L381 261 L383 260.5 L385 261.4 L386.9 261.8 L389 261.1 L391 261.3 L392.9 262.3 L395 262.2 L397 262 L399.1 262.1 L401.2 262.7 L403.2 263.3 L404.8 265 L407 265 L409 266.3 L411.5 266.2 L413.3 268 L415.4 269 L417.7 269.4 L420 270 L422.1 270.8 L424 272.1 L426.2 272.5 L428.3 273.3 L429.7 275.6 L432 276 L434 276.5 L436 276.5 L437.9 277.4 L440 277 L440.3 279 L439.9 281.1 L440.3 283.1 L441 285 L442.6 286.8 L443.7 288.8 L444.9 290.8 L446.1 292.8 L447 295 L448.1 296.8 L449.8 298.3 L450.8 300.2 L452 302 L454.1 303.3 L454.9 305.8 L457 307 L459.1 306.8 L461.3 306.9 L463.4 307.1 L465.6 307.6 L467.7 306.9 L469.9 307.6 L472 307 L474 307.2 L476 307.4 L478 307.6 L480.1 307.1 L482 307.9 L484 307.7 L486.1 307.7 L488 309 L490 308.3 L492 309 L494 309.5 L496 309.5 L498 309.3 L500 309.8 L502 310.1 L504 310.6 L506.1 309.8 L508 310.7 L510 310.4 L512 311 L514 310.4 L516 311 L518 310.3 L520 310.2 L522 310.3 L524.1 310.3 L526 309.4 L528 309.4 L530 309 L532.1 309.4 L534.2 309.9 L536.2 310.5 L538.3 310.6 L540.4 311.1 L542.5 311.5 L544.5 312.6 L546.6 312.6 L548.6 313.3 L550.7 313.8 L553 313.2 L555 314 L556.6 315.7 L557.9 317.8 L560 319 L562 319.9 L564.4 319.3 L566.5 319.7 L568.6 320.6 L570.8 320.5 L572.9 321.2 L575 322 L577.3 322 L579.2 323.4 L581.3 324.1 L583.4 324.9 L585.8 324.4 L587.8 325.7 L590 326 L592 326.4 L594 325.8 L596 327 L598 327.3 L600 326.3 L602 327.5 L604 327 L605.1 328.9 L606 331 L608 330.7 L610.1 331.2 L612.1 330.7 L614 330 L615.6 328.7 L617.6 328.2 L619.5 327.5 L621.2 326.4 L623 325.4 L625 325 L627.1 324 L629.4 323.9 L631.2 322.2 L633.6 322.2 L635.7 321.3 L637.6 320 L640 320 L642.1 319.1 L644.3 318.9 L646.4 318.1 L648.3 316.9 L650.8 317.6 L652.9 316.7 L655.1 316.3 L657 315 L659 314.4 L661 314.5 L663 314.2 L665 315.2 L667 314.4 L669 314.1 L671 314.5 L673 315.2 L675 315 L677 314.1 L679 313.9 L681 315 L683 314.4 L685 314.6 L687 313.6 L689 313.5 L691 314.4 L693 313.9 L695 314 L696.8 312.6 L699.3 312.9 L701.1 311.7 L703.2 311.1 L704.8 309.3 L707 309 L709 307.8 L709.7 305.3 L712.2 304.6 L713.4 302.6 L715 301 L716.6 299.5 L718.5 298.5 L720.5 297.7 L721.6 295.6 L723.2 294.1 L725.3 293.3 L727 292 L728.6 290.7 L730.3 289.5 L732.2 288.6 L733.9 287.4 L736 287 L734.3 285.4 L733.2 283.4 L731.9 281.6 L731.2 279.3 L729.3 277.9 L728.3 275.9 L727 274 L727.9 272 L729.3 270.4 L730.2 268.3 L731.7 266.8 L732.7 264.8 L734.8 263.7 L735.8 261.8 L737 260 L739.1 260.2 L741 261.2 L742.8 262.4 L745.2 261.8 L746.9 263.5 L749 263.5 L751 264.2 L752.9 265.3 L755 265.2 L757 266 L759 265.8 L761 265.9 L763.1 266.1 L765 265 L767 265 L769.1 264.3 L771 263.1 L772.8 261.9 L774.5 260.5 L776.4 259.3 L778.1 257.8 L780 256.8 L781.9 255.6 L784.3 255.4 L786 254 L788 253.2 L790.1 252.6 L792.2 252.1 L794.5 252.7 L796.7 252.3 L798.7 251.6 L800.7 250.6 L802.8 250.1 L805 250 L806.8 248.5 L809 247.5 L810.7 246 L813 245.1 L815 244 L816.1 242 L818.3 240.8 L819.8 239 L820.7 236.8 L822 235 L824 233.9 L826.5 234.2 L828.3 232.6 L830.5 231.9 L832.5 230.7 L834.8 230.5 L837 230 L839.1 229.6 L841.2 229.3 L843.2 228.6 L845.3 228.7 L847.3 227.6 L849.4 227.7 L851.5 227.1 L853.6 227.2 L855.6 226.3 L857.7 226 L859.9 226 L862 226 L864.2 226.2 L866.3 227.3 L868.4 227.8 L870.5 228.6 L872.7 229.1 L874.8 229.7 L877 230 L878.3 228.2 L878.3 225.9 L879 223.9 L880 222 L879.1 219.8 L876.7 218.9 L876 216.6 L874.5 215 L872.3 213.9 L871.8 211.4 L870 210 L868.5 208.6 L866.5 208 L864.8 207 L863 206 L860.8 206 L859.2 204.6 L857.4 203.7 L855.8 202.4 L854 201.5 L852 201 L850 200.5 L848 200.9 L846 200.4 L844 200.7 L842 201 L840.1 202.3 L838.8 204.3 L837.2 206 L835 207 L832.8 206.8 L830.9 205.7 L828.8 205.3 L827 204 L824.8 203.6 L822.7 204.2 L820.6 204.2 L818.5 204.3 L816.4 204.4 L814.3 204.8 L812.2 205.6 L810 205 L808.2 203.4 L806.2 202.2 L804 201.2 L802 200 L804 198 L806 196 L807.2 194.2 L807.3 191.9 L809.1 190.5 L809.4 188.3 L810.1 186.3 L811.3 184.5 L812.9 183 L813.1 180.7 L814.8 179.2 L816.1 177.5 L816.3 175.3 L817.1 173.3 L818.2 171.5 L819.4 169.8 L820.5 167.9 L821.2 166 L822 164 L823.9 164.8 L826.2 164.6 L828.2 165.3 L830.1 166 L831.9 167.3 L834.1 167.3 L836 168.3 L838.2 168.1 L840.2 168.8 L842 170 L843.7 168.4 L845.9 167.6 L847.7 166.4 L849.6 165.1 L851.1 163.3 L853.2 162.3 L855 161 L857 160.6 L859 160.3 L860.9 159.4 L863.1 160.2 L864.9 158.9 L867 159 L867.7 156.8 L867.7 154.5 L866.3 152.2 L867 150 L867.9 148.1 L869.4 146.5 L870.6 144.7 L870.9 142.5 L871.7 140.5 L872.6 138.5 L874.6 137.2 L875 135 L875.9 133.1 L877.6 131.8 L878.3 129.8 L880 128.5 L881.8 127.3 L882.1 124.9 L884.1 123.9 L885 122 L886.4 120.4 L888.3 119.2 L889.5 117.5 L890.4 115.4 L892.6 114.5 L893.6 112.6 L895 111 L892.9 110.8 L891 110 L889.5 108.5 L887.6 107.7 L885.7 107.1 L884 106 L884.9 103.8 L886.5 102.2 L887.8 100.3 L889.7 99 L890.1 96.4 L892 95 L894.3 94.9 L896.4 94.5 L898.4 92.9 L900.8 93.6 L902.9 92.8 L905 92 L907.1 92.4 L909 91.3 L911 91.2 L913 91 L915.1 91.7 L917 90.9 L919 90.4 L921 90.3 L923 89.9 L925 90 L927 89 L929.1 88.8 L931.4 89.6 L933.4 88.5 L935.6 89.1 L937.5 87.8 L939.7 87.6 L941.8 87.6 L943.8 86.8 L946 87 L948.1 87.8 L950 89 L951.9 90 L953.9 90.2 L955.9 90.4 L958 90.4 L959.9 91.1 L961.9 91.5 L964 91.2 L966 91.7 L968.1 91 L970 92 L971.9 93.2 L974 93.6 L975.9 94.8 L977.9 95.5 L980.1 95.9 L982 97 L983.9 97.8 L984.6 100.1 L986.9 100.6 L988 102.3 L989.7 103.5 L991 105 L992.3 106.9 L992.7 109.2 L993.4 111.3 L995.3 112.8 L995.8 115.1 L997 117 L998.4 118.7 L999.2 120.8 L1000.6 122.5 L1002 124.2 L1003.1 126 L1004.2 127.9 L1005 130 L1005.1 132.5 L1006.3 134.7 L1007 137 L1008.6 138.8 L1009 141.3 L1010.1 143.4 L1012 145 L1012.7 147 L1013.7 148.8 L1014.2 150.9 L1015 152.8 L1015 155 L1015.9 157.3 L1016.9 159.5 L1017 162 L1018.6 163.5 L1019.8 165.3 L1020.7 167.3 L1022 169 L1024.1 169.6 L1026.3 169.4 L1028.4 168.9 L1030.6 168.9 L1032.7 169 L1034.9 168.8 L1037 169 L1039.1 169.4 L1041.2 169.6 L1043.1 170.5 L1044.8 172.1 L1047 172 L1049.5 171.4 L1052 172 L1053.6 173.6 L1055.1 175.3 L1056.4 177.2 L1058.7 178.1 L1060 180 L1062.1 180.3 L1064.1 181 L1066 181.9 L1068 182.6 L1069.8 184 L1072 184 L1071.5 186 L1071.4 188 L1072.7 190 L1072 192 L1073.6 193.7 L1073.7 196.1 L1074.5 198.3 L1076 200 L1077 201.7 L1077.9 203.6 L1079.7 204.9 L1080 207 L1082 206.8 L1084 207.6 L1086 207.5 L1088 207.5 L1090 207.7 L1092 206.6 L1094 206.4 L1096 206.5 L1098 207 L1100 207 L1102.1 206.2 L1104.3 205.6 L1106.1 204.3 L1108.1 203.2 L1110.2 202.4 L1112 201 L1114 200.4 L1116 200 L1117.8 198.7 L1120.1 199.2 L1121.9 197.8 L1124.2 198.3 L1126.1 197.3 L1127.9 196.3 L1130 196 L1131.9 195.1 L1133.9 194.8 L1136 195 L1138.1 194.7 L1139.9 193.4 L1141.9 193 L1144 193.2 L1146 192.9 L1148 192.2 L1150 192 L1152 192 L1150.5 193.6 L1148.4 194.4 L1147.2 196.3 L1145 197 L1145.8 199.2 L1146.1 201.5 L1145.8 203.9 L1147 206 L1145.1 207.3 L1143.1 208.6 L1141.8 210.5 L1140 212 L1139.1 214.2 L1137.8 216.2 L1135.7 217.6 L1135 220 L1134.2 221.9 L1134.3 224.1 L1134.2 226.2 L1133 228 L1132.2 229.9 L1132 232 L1131.1 234.1 L1130.3 236.2 L1128.8 237.9 L1127.4 239.7 L1127 242 L1126.1 244.2 L1125.1 246.4 L1123.5 248.1 L1122 250 L1121.1 252.1 L1119.8 253.9 L1119.4 256.2 L1117.6 257.8 L1117 260 L1114.7 259.6 L1112.3 260 L1110 260 L1107.7 259.9 L1105.9 258.2 L1103.5 258.6 L1101.6 257.3 L1099.2 257.5 L1097 257 L1095 256 L1092.9 256.8 L1091.4 258.5 L1089 258.8 L1087.5 260.5 L1085.9 262 L1084 263.1 L1081.9 264 L1080 265 L1080.2 267 L1080.1 269.1 L1081.7 270.9 L1081.8 273 L1082 275 L1082.8 277.1 L1082 279.4 L1083.7 281.3 L1084.2 283.4 L1084.5 285.5 L1084.4 287.7 L1084 290 L1085 292 L1082.2 293 L1080 295 L1078.7 296.8 L1077.3 298.7 L1076.4 300.7 L1076.2 303.1 L1075 305 L1074.9 307.1 L1073.2 308.8 L1072.8 310.9 L1073.3 313.2 L1072 315 L1071 313.2 L1069.5 311.8 L1068.3 310.1 L1067.1 308.5 L1065.8 307 L1065 305 L1063.4 306.9 L1061.2 307.8 L1059.1 308.9 L1057 310 L1055.3 311.3 L1055.1 313.7 L1052.9 314.6 L1052.7 316.9 L1051.3 318.5 L1050 320 L1047.8 319.8 L1045.7 320.1 L1043.6 321 L1041.5 321.8 L1039.3 321.5 L1037.2 321.9 L1035 322 L1033.4 323.7 L1033.4 326.2 L1032.2 328.1 L1030.5 329.7 L1030 332 L1028.2 333.4 L1026 333.6 L1023.8 333.8 L1022 335 L1020.1 334.3 L1017.9 335.1 L1015.9 334.9 L1013.9 334.6 L1012.1 333 L1010 333.7 L1008.1 332.7 L1006.1 332.2 L1004 332.8 L1002 332.6 L1000 332 L997.8 333.2 L996.5 335.2 L995 337 L993.3 338.4 L991.1 339 L989.6 340.7 L987.7 341.9 L986.1 343.3 L983.7 343.5 L982 345 L980 345.6 L978.6 347.1 L976.6 347.8 L975.7 350 L973.9 350.9 L972 351.7 L970 352.2 L968.3 353.3 L967 355 L965.7 356.7 L964.5 358.3 L962.9 359.7 L961.4 361.2 L960 362.7 L957.6 362.9 L955.9 364.7 L953.4 364.7 L951.3 365.6 L949.3 366.7 L947.2 366.9 L945.2 367.6 L943.3 368.5 L941.3 369.3 L939.4 370.5 L937.4 371.5 L935.4 372.5 L933.3 373.3 L930.9 374.3 L929.2 376.5 L926.7 377.3 L925.3 379 L923.1 379.7 L921.9 381.6 L920 382.7 L918.4 384.1 L916.6 384.9 L914.4 385 L912.7 386.1 L910.7 386.7 L908.5 386.7 L906.5 387.5 L904.5 388 L902.7 389.3 L903 387 L904 385 L906 383.6 L908.3 382.9 L910.7 382.7 L910.7 380.7 L910.7 378.7 L909 377.5 L907.1 377 L905.3 376 L904 373 L905.4 371.4 L907.3 370.2 L909 369 L910.9 367.6 L912.7 366 L914.5 364.6 L916 362.7 L918.4 361.1 L920 358.7 L921.2 356.8 L922 354.7 L919.9 353.2 L919.1 350.6 L917 349 L914.8 348.1 L913 346.7 L910.8 346.6 L908.5 346.9 L906.2 346.3 L904 346.7 L902.5 348.1 L900.7 349 L898.9 350 L897 350.7 L895.4 353.1 L893 354.7 L890.6 355.5 L888.7 357.3 L886.7 358.7 L884.6 360.3 L882.3 361.5 L880 362.7 L877 363.3 L874.7 365.3 L872.7 367.3 L870.7 369.3 L870.2 371.3 L868.5 372.7 L868 374.7 L866.1 376.3 L863.9 377.7 L862.7 380 L861.3 381.8 L859.1 382.7 L857.3 384 L855.2 384.2 L853.3 385.3 L851.8 383.6 L850.1 382.1 L848 381.3 L845.3 382.7 L844.9 385 L843.6 386.8 L842.8 389 L841.3 390.7 L840 393.3 L842.3 395 L844 397.3 L845.3 400 L847.3 401.2 L849.5 401.2 L851.6 402.2 L853.9 402 L856 402.7 L858.1 403.7 L860.5 403.5 L862.7 404 L864.7 405.5 L865.9 407.8 L868 409.3 L865.5 410.8 L864 413.3 L864.6 416 L864 418.7 L865.7 420.1 L867.4 421.5 L869.3 422.7 L872 422.3 L874.7 422.7 L876.3 421.2 L877.9 419.6 L880 418.7 L881 416.7 L882.4 415.1 L884.1 413.8 L885.3 412 L887.4 411.5 L889.2 410.2 L891.1 409.3 L893.3 409.3 L895.3 409 L897.3 409.3 L899 410.4 L901.1 410.7 L902.7 412 L904.9 413.1 L906.7 414.7 L909 414.7 L911 416 L913.3 416 L915.5 415.6 L917.6 414.5 L920 414.7 L922.5 414.8 L924.7 415.8 L927 416.7 L929.3 417.3 L928.8 419.3 L929.3 421.4 L928.8 423.4 L928 425.3 L925.3 426.7 L922.6 427.1 L920 428 L917.7 428.8 L915.4 429.7 L913.1 430.3 L910.7 430.7 L908.3 431.4 L906.7 433.3 L904.7 433.9 L902.7 433.9 L900.7 434.6 L898.7 434.7 L896 437.3 L894.3 439.2 L892.1 440.5 L890.7 442.7 L888.3 443.4 L886.7 445.3 L885.5 447.2 L884.4 449.2 L882.7 450.7 L880.7 451.8 L879.4 453.7 L877.3 454.7 L875.8 457.2 L873.3 458.7 L871.5 460.1 L870.7 462.3 L869.3 464 L866.7 466.7 L866.9 468.8 L868 470.7 L870 471.2 L872 472 L872.9 474 L874.7 475.3 L876 477 L878.2 477.2 L880.2 477.6 L882 479 L884.5 479.6 L887 480 L887.6 482.3 L888 484.6 L890 486.4 L890 488.9 L891 491 L892.2 492.9 L893 495 L894.5 496.8 L895.3 498.9 L896 501 L896.4 503 L896.2 505.1 L897.9 506.9 L897.7 509 L897.7 511.1 L897.9 513.1 L899 515 L901.1 515.2 L903.2 515.8 L905 517 L906 519.4 L908 521 L908.7 523.2 L910.5 524.5 L912.3 525.9 L913 528 L914 530.8 L916 533 L916.7 535 L916.4 537.1 L917.5 539 L918.6 540.9 L920 542.5 L918.3 541.2 L915.9 541.3 L914.4 539.5 L912.1 539.5 L910.3 538.3 L908.6 536.9 L906.5 536.5 L905.1 534.9 L902.9 534.6 L901.5 533 L902 535.5 L903.9 536.2 L905.5 537.5 L907.2 538.7 L909 539.6 L910.9 540.3 L912.5 541.5 L913.9 543.2 L915.5 544.5 L917.5 545 L917.5 548 L918.2 550.2 L917.5 552.5 L917 553.5 L914.7 553.2 L912.4 552.8 L910 553 L908.6 554.6 L906.5 555 L904.3 555.2 L902.7 556.9 L900.5 557 L901.9 558.6 L903.5 560 L905.4 562.1 L907.5 564 L909 565.8 L911 567.1 L912.5 569 L915 568.5 L916.4 570.7 L917.5 573 L916 575 L917 578 L916.9 580.3 L917.1 582.7 L917 585 L918 587.5 L916.8 589.5 L916.1 591.7 L915.1 593.8 L914.6 596.1 L912.8 597.8 L912 600 L910.8 601.7 L910 603.6 L908.2 604.8 L907 606.4 L906.2 608.4 L905 610 L904.1 612 L902.5 613.5 L901.7 615.6 L900 617 L898.7 618.8 L896.7 619.7 L895.4 621.5 L893.4 622.4 L891.7 623.7 L890 625 L889.2 627.1 L887.2 628.2 L886.5 630.4 L884.4 631.4 L883 633.1 L882 635 L880.7 636.7 L880 638.9 L878.2 640.2 L877 642 L876.8 644 L875.5 645.9 L876.3 648.1 L874.9 649.9 L875 652 L873.6 653.7 L873.2 655.9 L872.3 657.8 L872 660 L870.6 661.5 L868.3 661.7 L867 663.5 L864.9 664.1 L863.3 665.3 L862 667 L861 668.9 L858.9 669.9 L857.3 671.4 L856.9 673.8 L855 675 L853.1 676.4 L850.8 677.2 L849.3 679.2 L847 680 L845.3 681.3 L844.9 683.5 L843.1 684.7 L842.8 687 L841.2 688.3 L840 690 L838.2 691.3 L837.7 693.6 L836.3 695.2 L834.7 696.7 L833.5 698.5 L832 700 L830.3 701.6 L828.2 702.4 L826.2 703.5 L823.7 703.4 L822 705 L819.9 705.8 L817.7 706.5 L816.2 708.4 L813.8 708.6 L812 710 L810.2 711.4 L808 711.6 L805.9 712.3 L804.1 713.5 L801.8 713.7 L800 715 L797.8 715.8 L795.6 716.6 L793.3 717 L791.5 718.9 L788.9 718.5 L787 720 L784.9 720.7 L783.1 721.8 L780.8 722.1 L779.1 723.7 L776.7 723.5 L775 725 L772.8 725.7 L770.7 726.9 L768.4 727.1 L766.4 728.4 L764.3 729.6 L762 730 L759.8 730.9 L758.3 732.9 L755.8 733.1 L754.2 735 L751.9 735.7 L750 737 L748 736.3 L746 736.9 L744 736.8 L742 737 L740.1 737.8 L738.2 738.7 L736.2 739.2 L734.1 739.5 L732 739.3 L730 740 L728 740.5 L726 740.8 L723.9 740.6 L722.1 742.1 L720 742 L717.7 743.9 L715 745 L713.2 746.2 L712.1 748.2 L710 749 L709 751 L707 752 L708.7 753.3 L710 755 L711 756.9 L711 759 L711.6 760.9 L711.5 763 L712 765 L709.6 765.5 L707.5 766.8 L705 767 L702.6 765.8 L700 765 L700 763 L699.5 761 L700.7 759 L699.6 757 L700 755 L698.9 753.2 L698.2 751.2 L698.4 748.9 L698.1 746.8 L697 745 L698.1 743.1 L698.4 740.9 L698.9 738.9 L700 737 L698.8 738.9 L696.5 739.5 L695 741 L693 741.7 L691.1 742.7 L688.9 743 L687 744 L684.6 743.4 L682.5 742 L680 742 L678 741.5 L676 742 L674.1 740.8 L671.9 741.9 L670 741 L668 740.6 L666 740.3 L663.9 740.2 L661.9 740 L660 739 L658.6 737.5 L656.2 737.3 L655 735.4 L653.7 733.8 L651.4 733.6 L650 732 L648.4 730.5 L647.6 728.4 L646.3 726.7 L645 725 L644.6 722.9 L644.3 720.9 L642.7 719.1 L642.3 717.1 L642 715 L639.9 714.4 L637.7 714 L636.2 712 L634.2 711.3 L632.1 710.5 L630 710 L627.8 710.1 L626.1 708.3 L624.1 707.8 L622 707.6 L620 707 L617.6 707.2 L615.4 708.2 L613 708.7 L611.7 710.5 L610.3 712.2 L608.3 713.3 L607.1 715.1 L605.7 716.9 L603.7 718 L601.3 717.5 L599.2 716.1 L596.7 715.7 L594.9 717 L593.2 718.4 L592 720.3 L589.8 718.3 L587.3 716.8 L585 717.2 L582.7 716.8 L581.1 718.7 L579.6 720.8 L578 722.7 L575.9 720.6 L573.3 719.2 L571 718.4 L568.5 717.9 L566.3 716.8 L564.6 718.2 L562.7 719.4 L561.7 721.5 L559.4 722.2 L556.9 721.5 L554.7 723.1 L552.3 722.7 L552.4 725.1 L552.1 727.4 L551.1 729.6 L551.2 732 L551.8 734.6 L553.2 736.8 L554.7 739 L555 741.3 L554.1 743.6 L555 746 L554.7 748.3 L552.4 748.7 L550 747.7 L547.6 748.1 L545.3 748.3 L545 745.9 L544.2 743.7 L543.6 741.3 L543.3 738.8 L541.8 736.7 L540 737.7 L537.9 738.1 L536.1 739.2 L534.1 739.9 L532.5 741.3 L530.2 741.8 L527.8 741.8 L525.5 742.5 L524.4 740.5 L522.9 738.8 L522 736.7 L521.2 734.8 L521.4 732.7 L520.8 730.8 L518.8 731.4 L516.8 730.2 L514.7 731.3 L512.7 730.8 L510 730.3 L508 728.5 L508.7 726.3 L510.9 725 L511.5 722.7 L511.5 720.5 L511.4 718.4 L511.5 716.2 L511.8 714.1 L512.7 712 L511.7 710.2 L510.3 708.7 L508 707.8 L505.7 707.1 L503.3 706.7 L503.4 704.5 L502.1 702.5 L502.7 700.3 L502.1 698.2 L502 696 L501.4 693.8 L500 692 L501.4 690.5 L502 688.5 L500 688.1 L498.1 689.5 L496 689 L493.7 688.7 L491.4 688.9 L489.2 689.1 L487 690 L485.7 691.8 L483.9 693 L482 694 L479 693 L480 690.7 L482 689 L480.4 687.3 L480 685 L479.5 682.8 L478 681 L479 678.6 L479 676 L481.1 675.2 L483 674 L483 671.9 L482 670 L483.2 668.1 L484 666 L485.8 664.2 L488 663 L488.5 660.7 L490 659 L491.7 657.5 L494 657 L496 654 L499 654 L499 651.9 L497.9 650.1 L498 648 L498.8 645.9 L500 644 L500 642 L499.5 640 L500 638 L500.5 636 L500 633.8 L500.6 631.5 L499.9 629.3 L500 627 L499.7 624.7 L500.7 622.3 L500 620 L497 618 L495 618 L493 618 L492.5 615.3 L491 613 L490.7 610.5 L490 608 L488 605 L485.9 604.2 L484.6 602.4 L483 601 L480 599 L477.5 600.6 L475 602 L474.3 604.3 L474.6 606.7 L474 609 L472.4 610.5 L471.3 612.3 L470 614 L467.8 613.4 L466.2 611.5 L463.7 611.5 L462 610 L460.5 608.6 L458.3 608.4 L456.4 607.6 L455 606 L452.9 605.9 L451.1 604.6 L449.2 603.8 L447 604 L444.9 605.4 L442.3 605.3 L440 606 L438.3 607.7 L436.4 609 L435 611 L433.3 612.2 L431.3 612.5 L429.5 613.5 L427.3 613.5 L425.8 615.1 L423.5 614.9 L422 616.6 L420 617 L418.6 619 L416.5 620.1 L415 622 L413.8 624 L413 626.3 L411.1 627.9 L410 630 L408 630.7 L406 629.8 L404 630 L402 630 L400 630.4 L398 630.9 L396 630.9 L394 631 L392 631 L389.8 630.4 L387.6 631.6 L385.4 630.4 L383.2 631.7 L381 631 L380.3 628.8 L380.1 626.5 L380.8 624.2 L380 622 L378 621.5 L376 621.2 L374.1 619.9 L372 620 L371.6 617.5 L372 615 L370.3 613 L368.7 611 L367 609 L364.4 609.1 L362 610 L360.1 609.1 L358.1 608.8 L355.9 608.7 L353.9 608.3 L351.9 608 L350 607 L347.9 606.2 L345.7 606.1 L343.6 605.6 L341.3 606.2 L339.2 605.4 L337 605 L335 605.9 L333.4 607.4 L332.1 609.2 L330 610 L329.5 612 L328.3 613.8 L328.7 616.1 L328.2 618.1 L327.4 620.1 L326.3 621.9 L326 624 L324.2 622.5 L322 622 L321.2 619.9 L320.8 617.7 L320.6 615.6 L320.4 613.4 L320.4 611.2 L320 609 L318 609.5 L316 609.3 L314 609.5 L312 609 L309.8 608.5 L307.7 609.2 L305.7 610.3 L303.4 609.3 L301.4 610.8 L299.3 610.7 L297 610 L295 611 L293 610 L290.8 609.5 L288.5 609.4 L286.3 609.2 L284.3 607.9 L282 608.1 L280 607 L278.1 608 L276 608.4 L274.2 609.5 L272 609.5 L270 610 L268.3 608.7 L266.4 608 L264.4 607.4 L262.7 606.4 L260.7 605.8 L258.6 605.3 L257 604 L256.1 601.9 L255 600 L253.2 599.1 L251.7 597.7 L250.1 596.5 L247.9 596.1 L246.3 594.9 L244.7 593.7 L242.7 593.1 L241 592 L239.6 590.2 L239.3 587.9 L238.5 585.7 L237 584 L235 583.8 L233 584.1 L230.9 584.1 L229 584.5 L227 585 L225.5 582.9 L223.6 581 L222 579 L220.2 578.1 L218.8 576.5 L216.7 576 L215.3 574.4 L213.9 572.8 L212 572 L210.4 570.4 L208.4 569.2 L206.3 568.3 L204.6 566.8 L202.8 565.4 L201 564 L198.8 562.8 L196.4 562.1 L194.4 560.8 L192 560 L189.8 561.3 L188.8 563.8 L186.6 565.1 L185 567 L183.2 565.4 L180.9 564.7 L179 563.4 L177.4 561.6 L175 561 L172.7 560.8 L171 559.3 L168.8 559.1 L167.2 557.4 L165 557 L163.9 555.2 L162 554.3 L160.1 553.4 L159.1 551.6 L157.5 550.3 L156 549 L153.9 548.1 L151.6 547.8 L149.5 547 L147.3 546.1 L145 546 L144.3 544 L143.4 542 L143.5 539.8 L141.7 538.1 L141.7 535.9 L140.6 534.1 L140 532 L139.7 529.7 L138 527.9 L138.5 525.3 L136.9 523.5 L135.8 521.5 L135.4 519.2 L135 517 L136.9 515.9 L138.7 514.3 L141 514 L142.4 515.9 L143.8 517.9 L145 520 L146.9 518.5 L148.2 516.5 L150 515 L149.4 513 L149.2 511 L149.8 509 L149.9 506.9 L149 505 L147.6 503.4 L145.9 502.1 L145.1 499.9 L143.3 498.7 L142 497 L141.2 494.9 L140.7 492.7 L141.2 490.3 L140.9 488.1 L140 486 L141.4 484.4 L142.5 482.5 L143.8 480.8 L145 479 L142.7 478.6 L140.9 476.7 L138.4 476.7 L136.4 475.5 L134.3 474.4 L132 474 L131.8 471.5 L130.6 469.3 L130 467 L129.5 465 L129.7 463 L128.8 461.1 L129.7 459 L129 457 L127 457.1 L125 456.2 L123 456.9 L121 456.6 L119 456.7 L117 456.3 L115 456 L112.7 455.6 L110.4 455 L108.6 453.2 L106.2 453 L104 452.2 L102 451 L99.6 450.6 L97.3 449.7 L95 449 L92.9 447.1 L91 445 L90.9 443 L90.7 441 L89.9 439 L90.5 436.9 L90.1 434.9 L88.6 433.1 L89 431 L87.4 429.6 L85.7 428.5 L83.8 427.6 L81.5 427.5 L80 426 L77.9 425.4 L75.7 425.5 L73.5 426.3 L71.4 426.2 L69.3 424.6 L67.2 424.9 L65 425 L64.1 423.1 L64 421 L66 419.6 L68.2 418.9 L70.5 418.2 L72.9 418.2 L75 417 L73.8 414.8 L72.5 412.5 L72 410 L72.4 407.9 L72 406 L70.9 404 L71.8 401.9 L71 400 L71.2 398 L71 396 L69.1 395 L67.1 394.6 L65.2 393.7 L63.1 393.3 L61.1 392.7 L58.9 393 L57 392 L55.1 391.1 L53 390.6 L51 390 L50.7 387.7 L49.6 385.7 L49.5 383.3 L48.4 381.3 L47.3 379.3 Z" fill="#D9D9D9"/>
<path d="M909 664 L912 666 L914.2 667.2 L916 669 L918 671 L916 673 L915.7 675.3 L914.6 677.6 L915 680 L914.3 682.5 L914 685 L912.6 687.3 L912 690 L911.9 692 L911.6 694 L911 696 L910.6 698.4 L909.5 700.6 L909 703 L908.1 705.3 L907.3 707.5 L907 710 L906.1 712.9 L904 715 L902.4 716.5 L900.9 718 L900 720 L899.4 722.5 L899 725 L899.2 727.6 L898 730 L897.8 732.1 L897 734 L895 734 L893.3 732.3 L893 730 L892.5 727.5 L893 725 L890.8 723 L888 722 L886.6 719.4 L885 717 L884.6 714.6 L884.1 712.2 L883 710 L883.6 708 L883.2 706 L883.2 704 L883.2 702 L883 700 L883.8 698.1 L884 696 L885.5 694.1 L886.9 692.2 L888 690 L888.6 687.8 L890.2 686.1 L891 684 L892.3 682 L894 680.2 L895 678 L895.7 675.7 L897.1 673.7 L898.2 671.6 L900 670 L902.2 669.4 L904 668 L906.1 667.2 L907.5 665.5 Z" fill="#D9D9D9"/>
<path d="M677 787 L678.2 784.3 L680 782 L681.7 780.4 L684 779.7 L685.7 777.9 L688 777.3 L689.7 775.7 L692 775 L694 774.7 L696 774.3 L698 774.1 L700.1 774.2 L701.9 772.6 L704.1 773.5 L706 772.6 L708 772.4 L710 772 L712 772 L714.1 772.1 L716 771.2 L718 771.1 L720 771 L719.6 773.3 L721.1 775.4 L720.5 777.8 L721 780 L719.3 781.5 L718.5 783.8 L716.4 784.9 L714.8 786.5 L713 787.9 L712 790 L711 791.8 L709.1 792.9 L708.5 795 L707.4 796.7 L705.7 798 L705 800 L704.2 802.1 L702.1 803.1 L700.9 804.9 L699.9 806.8 L697.9 808 L697 810 L694.5 810.7 L692 811 L690 810 L688 809 L686.2 807.6 L683.8 807.4 L682 806.1 L680 805 L679.1 803 L678.6 801 L678.2 798.8 L677 797 L676.7 795 L677.5 793 L676.9 791 L677 789 Z" fill="#FEE79B"/>
<g clip-path="url(#cn)" shape-rendering="crispEdges">
<path d="M265 255 L295 255 L295 264 L299 270 L296 280 L292 287 L286 295 L285 300 L280 300 L275 295 L265 292 L272 282 L272 270 L265 264 Z" fill="#FEAC3A"/>
<path d="M307 262 L347 262 L354 254 L357 257 L370 260 L367 272 L366 285 L370 289 L365 292 L337 294 L330 292 L317 287 L307 285 L304 277 Z" fill="#FEAC3A"/>
<path d="M616 329 L640 320 L657 315 L694 314 L690 327 L697 347 L690 352 L675 349 L660 347 L650 350 L645 355 L635 355 L625 347 L620 342 Z" fill="#FECE65"/>
<path d="M694 314 L710 310 L715 322 L727 335 L720 342 L722 357 L710 356 L692 352 L697 347 L690 327 Z" fill="#FEE79B"/>
<path d="M650 350 L662 347 L675 349 L690 352 L710 356 L724 360 L727 370 L724 375 L712 375 L700 380 L690 395 L682 405 L675 411 L667 411 L657 405 L640 400 L647 385 L645 365 L647 355 Z" fill="#FEAC3A"/>
<path d="M705 377 L722 372 L715 400 L712 410 L715 422 L705 425 L690 420 L680 425 L665 424 L657 427 L655 417 L657 410 L670 411 L682 405 L690 395 L700 380 Z" fill="#FEE79B"/>
<path d="M556 383 L566 380 L575 382 L582.5 378 L596 376 L598 385 L590 392.5 L584 398.5 L584 407.5 L590 413.5 L587 419.5 L582.5 427 L573.5 427 L569 425.5 L567.5 419.5 L560 412 L562 402 L560 395 L560 386.5 Z" fill="#FEAC3A"/>
<path d="M572 428.5 L582.5 426 L587 428.5 L594.5 437.5 L602 439 L603.5 446.5 L599 454 L593 449.5 L587 448 L578 440.5 L573.5 436 Z" fill="#FEE79B"/>
<path d="M654 377 L710 377 L710 427 L680 427 L678 420 L665 412 L659 409 Z" fill="#FEE79B"/>
<path d="M641 370 L710 370 L710 374.5 L705.5 377.5 L695 392.5 L684.5 404.5 L680 410.5 L669.5 412 L659 409 L641 398.5 Z" fill="#FEAC3A"/>
<path d="M990 140 L1000 140 L1007 140 L1015 155 L1022 169 L1037 169 L1050 180 L1042 192 L1030 195 L1022 200 L1007 205 L1000 206 L997 195 L987 192 L985 182 L970 180 L975 165 L977 155 L987 145 Z" fill="#FEAC3A"/>
<path d="M960 190 L970 180 L985 182 L987 192 L997 195 L1000 206 L995 212 L975 215 L965 212 L952 220 L947 227 L942 235 L937 235 L935 230 L937 225 L945 222 L930 215 L925 212 L927 207 L942 200 L957 192 Z" fill="#FECE65"/>
<path d="M975 215 L997 212 L1007 205 L1022 200 L1030 202 L1035 212 L1022 220 L1032 227 L1047 230 L1060 227 L1062 237 L1050 242 L1045 252 L1035 260 L1030 272 L1022 280 L1017 275 L1010 270 L1002 259 L990 259 L985 250 L975 242 L972 232 Z" fill="#FFF8C1"/>
<path d="M1052 220 L1065 217 L1080 215 L1100 212 L1115 205 L1140 195 L1145 197 L1142 210 L1130 210 L1117 215 L1112 225 L1100 222 L1085 220 L1080 227 L1085 237 L1070 240 L1062 237 L1060 227 Z" fill="#FEE79B"/>
<path d="M962 270 L975 262 L995 260 L1005 265 L1017 275 L1022 282 L1020 295 L1015 305 L997 305 L990 307 L980 295 L970 292 L960 285 L955 282 Z" fill="#FFFFE5"/>
<path d="M1022 280 L1030 275 L1040 290 L1050 290 L1060 285 L1070 292 L1080 292 L1080 302 L1072 312 L1065 305 L1057 310 L1050 320 L1035 322 L1030 317 L1025 310 L1020 305 Z" fill="#FFF8C1"/>
<path d="M995 325 L1002 315 L1005 307 L1010 307 L1012 312 L1020 307 L1025 312 L1022 320 L1027 325 L1030 335 L1017 334 L1010 330 L1002 327 L997 332 Z" fill="#E1640E"/>
<path d="M980 312 L987 307 L997 310 L995 325 L997 332 L985 345 L980 337 L977 325 Z" fill="#FEE79B"/>
<path d="M925 315 L945 310 L947 332 L930 335 L925 327 Z" fill="#FFF8C1"/>
<path d="M922 335 L937 332 L945 335 L947 357 L942 362 L935 360 L927 345 Z" fill="#FECE65"/>
<path d="M957 190 L970 182 L965 190 L962 197 L957 190 Z" fill="#FECE65"/>
<path d="M1000 195 L1000 210 L977 212 Z" fill="#FECE65"/>
<path d="M800 413 L840 405 L840 453 L800 453 Z" fill="#FFF8C1"/>
<path d="M833 407 L840 407 L840 429 L833 429 Z" fill="#FEE79B"/>
<path d="M800 397 L817 397 L817 421 L800 421 Z" fill="#FFFFE5"/>
<path d="M800 419 L807 419 L807 429 L800 429 Z" fill="#FECE65"/>
<path d="M925 297 L950 297 L950 338 L925 338 Z" fill="#FFF8C1"/>
<path d="M816 296 L830 278 L848 276 L864 266 L870 252 L880 251 L886 268 L896 278 L896 300 L896.7 318 L891.7 321.7 L883.3 330 L880 320 L873.3 315.8 L868.3 320 L870 330 L868.3 338.3 L860 337.5 L850.8 335 L851.7 325 L846.7 318.3 L841.7 311.7 L830 313.3 L826.7 320 L818.3 323.3 L818 310 Z" fill="#FFFFE5"/>
<path d="M880 251 L892 260 L904 268 L920 278 L938 274 L944 286 L948 296 L944 304 L930 308 L912 314 L900 318 L894 316 L896 300 L896 278 L886 268 Z" fill="#FFF8C1"/>
<path d="M946 282 L964 270 L980 264 L998 260 L1008 264 L1012 274 L1022 280 L1022 292 L1016 302 L1000 306 L990 304 L980 296 L968 296 L960 298 L952 296 L946 292 Z" fill="#FFFFE5"/>
<path d="M944 282 L954 284 L966 290 L970 296 L968 302 L960 300 L952 298 L948 296 Z" fill="#FFF8C1"/>
<path d="M976 220 L1020 220 L1024 228 L1040 228 L1040 286 L1030 278 L1022 280 L1012 274 L1008 264 L998 260 L984 256 L976 244 L970 240 L974 230 Z" fill="#FFF8C1"/>
<path d="M1022 280 L1032 274 L1040 286 L1040 318 L1030 316 L1020 306 L1016 302 L1022 292 Z" fill="#FFF8C1"/>
<path d="M994 324 L1000 318 L1006 308 L1010 307 L1012 314 L1018 310 L1022 308 L1026 314 L1022 320 L1026 328 L1030 336 L1020 335 L1010 334 L1004 332 L998 334 Z" fill="#E1640E"/>
<path d="M980 316 L988 308 L998 308 L1000 318 L994 324 L998 334 L992 340 L984 336 L978 324 Z" fill="#FEE79B"/>
<path d="M934 220 L954 220 L950 228 L950 236 L938 236 L936 230 L940 226 L936 224 Z" fill="#FECE65"/>
<path d="M693 320 L716 320 L720 328 L728 333 L725 339 L713 337 L712 344 L716 351 L720 359 L707 355 L692 353 L697 347 L695 335 L691 325 Z" fill="#FEE79B"/>
<path d="M680 353 L707 355 L720 359 L727 363 L727 372 L721 375 L705 376 L696 387 L689 393 L683 407 L680 407 Z" fill="#FEAC3A"/>
<path d="M683 405 L689 393 L696 387 L705 376 L721 375 L720 387 L712 400 L716 413 L712 427 L700 424 L691 419 L680 420 L680 407 Z" fill="#FEE79B"/>
<path d="M724 376 L731 372 L737 373 L739 381 L749 383 L757 379 L767 376 L773 379 L772 387 L763 392 L756 399 L745 400 L736 401 L733 396 L723 392 L721 384 Z" fill="#FFFFE5"/>
<path d="M752 405 L760 404 L763 411 L776 412 L773 421 L768 431 L760 427 L749 424 L739 427 L728 431 L732 425 L739 421 L747 416 L749 411 Z" fill="#FEAC3A"/>
<path d="M711 428 L728 431 L739 427 L744 435 L747 443 L740 448 L736 455 L731 453 L716 451 L713 447 L712 437 Z" fill="#FEE79B"/>
<path d="M739 425 L749 424 L760 427 L765 432 L768 440 L767 448 L753 448 L747 443 L744 435 Z" fill="#FFF8C1"/>
<path d="M771.7 333 L781.7 321.7 L790 321 L791.7 330 L800 330 L808.3 328.3 L810 335 L815 346.7 L806.7 351.7 L800 358.3 L800 366.7 L793.3 373.3 L781.7 373.3 L776.7 363.3 L775 353.3 L770 346.7 Z" fill="#FFFFE5"/>
<path d="M800 358.3 L806.7 351.7 L816.7 350 L820 343.3 L826.7 346.7 L833.3 351.7 L836.7 353.3 L833.3 358.3 L838.3 363.3 L830 366.7 L826.7 371.7 L823.3 380 L815 373.3 L805 371.7 L800 366.7 Z" fill="#FFFFE5"/>
<path d="M773 383 L781 373 L791 371 L800 368 L808 373 L813 376 L816 387 L821 395 L813 403 L805 403 L797 400 L784 395 L776 395 L768 392 L771 387 Z" fill="#FFF8C1"/>
<path d="M768 395 L784 395 L795 399 L799 405 L792 411 L784 413 L776 413 L773 405 L769 400 Z" fill="#FEE79B"/>
<path d="M797 400 L805 403 L813 403 L819 405 L813 413 L808 421 L803 419 L799 411 Z" fill="#FFFFE5"/>
<path d="M773 413 L784 413 L792 411 L800 416 L807 424 L803 429 L793 428 L781 428 L773 427 L772 420 Z" fill="#FECE65"/>
<path d="M768 431 L773 427 L787 428 L797 429 L799 436 L796 443 L781 440 L771 439 L767 435 Z" fill="#FFFFE5"/>
<path d="M789 443 L798 441 L800 450 L800 459 L790 459 Z" fill="#FEE79B"/>
<path d="M775 446 L778 445 L780 450 L785 449 L787 452 L780 456 L776 455 L774 450 Z" fill="#662506"/>
<path d="M825 364 L835 361 L840 364 L844 373 L844 381 L840 392 L831 393 L823 389 L825 379 Z" fill="#FFF8C1"/>
<path d="M841 360 L856 355 L869 352 L876 363 L869 371 L867 377 L857 384 L851 385 L845 379 L844 371 Z" fill="#FFF8C1"/>
<path d="M869 352 L880 344 L891 341 L899 343 L900 348 L893 353 L887 359 L880 363 L876 363 Z" fill="#FECE65"/>
<path d="M896 336 L907 328 L920 324 L927 327 L925 333 L921 337 L911 340 L904 347 L899 343 Z" fill="#FEE79B"/>
<path d="M923 333 L932 335 L941 332 L947 337 L947 351 L949 357 L944 363 L936 363 L932 357 L927 347 L925 340 Z" fill="#FECE65"/>
<path d="M907 371 L915 364 L923 360 L932 357 L936 363 L944 363 L949 357 L960 353 L960 363 L949 367 L933 373 L920 383 L911 387 L903 389 L904 385 L911 381 Z" fill="#FEE79B"/>
<path d="M835 412 L843 405 L847 401 L856 403 L863 404 L868 409 L864 416 L861 420 L853 425 L847 425 L839 421 L833 419 Z" fill="#FEE79B"/>
<path d="M856 424 L863 420 L869 423 L877 424 L885 424 L892 425 L893 433 L888 440 L883 447 L877 453 L872 451 L865 445 L859 443 L853 440 L851 435 L849 429 Z" fill="#FECE65"/>
<path d="M837 421 L845 420 L848 425 L853 428 L851 435 L853 440 L852 446 L847 445 L845 437 L841 433 L840 427 Z" fill="#FEAC3A"/>
<path d="M880 419 L885 412 L897 409 L907 415 L920 415 L929 417 L928 425 L920 428 L911 431 L901 433 L893 433 L892 425 Z" fill="#FFF8C1"/>
<path d="M837 453 L847 445 L857 443 L864 445 L867 453 L863 461 L856 465 L848 467 L840 463 L836 459 Z" fill="#FFFFE5"/>
<path d="M856 473 L861 467 L867 465 L869 469 L873 473 L875 480 L855 480 Z" fill="#F68720"/>
<path d="M813 452 L827 451 L837 453 L836 459 L833 465 L824 468 L816 464 Z" fill="#FEE79B"/>
<path d="M640 464 L666 464 L666 492 L640 492 Z" fill="#FECE65"/>
<path d="M640 490 L670 490 L670 520 L640 520 Z" fill="#FFF8C1"/>
<path d="M578 440 L603 440 L604 445 L601 450 L598 454 L593 450 L586 446 Z" fill="#FEE79B"/>
<path d="M585 448 L589 447 L593 450 L598 454 L601 450 L604 445 L608 448 L611 453 L612 457 L617 457 L622 461 L621 464 L616 467 L610 469 L605 470 L606 477 L611 478 L607 482 L603 482 L598 479 L594 483 L590 480 L592 473 L595 469 L590 465 L589 460 L591 456 L587 451 Z" fill="#FEAC3A"/>
<path d="M640 466 L645 464 L650 467 L660 467 L665 470 L666 482 L665 490 L660 493 L655 491 L648 490 L642 493 L639 490 L640 484 L638 476 Z" fill="#FECE65"/>
<path d="M661 461 L680 460 L690 474 L696 482 L688 488 L680 492 L666 492 L665 482 L665 470 Z" fill="#FFFFE5"/>
<path d="M667 493 L680 490 L682 492 L680 500 L688 504 L696 504 L698 510 L705 514 L696 516 L694 524 L694 533 L688 528 L680 525 L673 523 L668 520 L668 510 Z" fill="#FEAC3A"/>
<path d="M628 497 L632 496 L640 495 L648 490 L655 491 L666 492 L668 500 L668 510 L669 518 L660 521 L652 519 L648 514 L643 512 L638 514 L630 511 L628 509 L626 504 Z" fill="#FFF8C1"/>
<path d="M608 516 L616 514 L622 510 L630 511 L638 514 L642 515 L640 526 L636 530 L630 532 L624 534 L620 536 L616 530 L616 522 L612 522 Z" fill="#FEE79B"/>
<path d="M642 515 L648 514 L652 519 L660 521 L660 525 L656 533 L652 538 L646 540 L640 536 L638 530 L640 526 Z" fill="#FFF8C1"/>
<path d="M620 536 L630 532 L636 530 L640 536 L646 540 L645 545 L640 550 L634 555 L630 560 L624 560 L622 550 L624 540 Z" fill="#FFFFE5"/>
<path d="M574 580 L576 574 L579 570 L577 565 L579 558 L577 553 L581 552 L587 548 L590 540 L597 547 L603 550 L606 553 L610 557 L614 554 L616 546 L620 546 L623 549 L626 554 L627 560 L624 564 L622 573 L619 577 L617 582 L614 580 L610 576 L604 573 L600 574 L594 573 L588 575 L583 577 L578 580 Z" fill="#FFF8C1"/>
<path d="M603 565 L610 563 L611 557 L614 559 L615 562 L623 564 L625 570 L622 573 L618 570 L613 569 L608 571 L604 569 Z" fill="#FEAC3A"/>
<path d="M601 572 L608 571 L613 569 L618 570 L622 573 L619 577 L618 583 L614 582 L610 578 L605 578 L602 576 Z" fill="#FEE79B"/>
<path d="M624 540 L648 540 L644 550 L638 553 L632 558 L628 560 L626 554 L624 548 Z" fill="#FFFFE5"/>
<path d="M636 572 L640 568 L646 568 L648 574 L647 584 L640 586 L636 582 Z" fill="#FFFFE5"/>
<path d="M589 596 L598 586 L605 585 L612 588 L618 585 L624 588 L627 592 L632 594 L636 598 L636 610 L632 614 L626 616 L619 614 L617 610 L610 610 L602 610 L600 604 L600 598 L595 596 Z" fill="#FFF8C1"/>
<path d="M588 629 L592 623 L600 620 L605 623 L612 620 L618 616 L626 618 L634 619 L642 620 L640 626 L634 630 L632 636 L628 640 L622 642 L616 636 L610 633 L606 638 L600 637 L594 639 L590 636 Z" fill="#FFF8C1"/>
<path d="M661 552 L671 540 L676 531 L673 524 L680 523 L693 533 L700 537 L705 543 L704 551 L693 556 L685 556 L677 559 L673 560 L667 565 L661 563 L659 557 Z" fill="#FFF8C1"/>
<path d="M681 620 L690 618 L690 629 L683 629 Z" fill="#FECE65"/>
<path d="M566 648 L574 644 L582 648 L584 660 L587 675 L580 680 L576 674 L572 677 L565 680 L562 672 L564 662 Z" fill="#FFFFE5"/>
<path d="M712 440 L766 440 L768 448 L740 452 L730 456 L718 452 L712 448 Z" fill="#FFF8C1"/>
<path d="M711 440 L746 440 L746 448 L738 452 L730 455 L718 453 L713 450 Z" fill="#FEE79B"/>
<path d="M748 466 L760 460 L768 452 L780 458 L788 460 L796 466 L804 476 L800 484 L784 484 L764 482 L748 486 L746 476 Z" fill="#FFF8C1"/>
<path d="M750 466 L765 464 L780 468 L780 480 L765 480 L750 480 Z" fill="#FEE79B"/>
<path d="M722 494 L730 490 L744 488 L752 486 L764 482 L776 480 L784 484 L796 488 L800 494 L798 504 L792 512 L784 516 L768 518 L752 520 L740 518 L728 514 L724 504 Z" fill="#FFFFE5"/>
<path d="M743 481 L752 478 L760 478 L770 479 L778 481 L780 490 L778 500 L770 503 L762 504 L752 500 L744 495 Z" fill="#FFF8C1"/>
<path d="M765 487 L772 486 L778 489 L777 496 L770 498 L765 494 Z" fill="#FEE79B"/>
<path d="M770 520 L784 516 L800 516 L808 524 L808 536 L796 538 L780 534 L772 530 Z" fill="#FEE79B"/>
<path d="M718 528 L726 520 L740 518 L752 520 L756 528 L748 536 L736 540 L724 536 L716 532 Z" fill="#FFF8C1"/>
<path d="M748 558 L756 556 L764 560 L769 561 L769 566 L760 565 L752 566 L747 562 Z" fill="#F68720"/>
<path d="M772 552 L780 544 L788 548 L792 556 L784 564 L776 568 L770 564 Z" fill="#FFFFE5"/>
<path d="M712 568 L718 567 L726 570 L734 571 L740 575 L745 577 L750 576 L755 574 L759 580 L766 573 L768 578 L768 585 L773 590 L776 597 L770 598 L762 597 L754 598 L748 597 L742 597 L736 598 L728 598 L720 599 L718 587 L725 583 L724 577 L715 573 Z" fill="#FECE65"/>
<path d="M742 580 L748 578 L754 584 L750 592 L754 596 L744 596 Z" fill="#FFF8C1"/>
<path d="M709 591 L718 589 L721 596 L716 602 L717 612 L713 618 L707 626 L704 632 L701 640 L700 647 L695 649 L692 642 L691 636 L692 628 L684 628 L692 614 L696 609 L703 607 L705 602 L706 595 Z" fill="#FEE79B"/>
<path d="M716 602 L722 598 L736 597 L744 598 L742 605 L737 608 L740 613 L744 617 L742 622 L737 620 L730 617 L722 616 L717 612 Z" fill="#FFF8C1"/>
<path d="M737 606 L742 604 L748 602 L756 599 L762 597 L770 598 L776 599 L777 603 L770 610 L762 611 L756 609 L750 611 L744 610 L738 610 Z" fill="#FFFFE5"/>
<path d="M732 630 L740 624 L748 620 L756 622 L760 626 L759 636 L758 644 L750 648 L742 646 L736 638 L730 634 Z" fill="#FFFFE5"/>
<path d="M721 640 L726 633 L734 632 L736 638 L742 646 L744 654 L744 664 L740 668 L736 672 L730 674 L725 672 L720 670 L724 664 L728 654 L724 646 Z" fill="#FFF8C1"/>
<path d="M770 560 L783 560 L783 568 L770 568 Z" fill="#FFFFE5"/>
<path d="M756 664 L770 662 L786 664 L784 674 L776 680 L756 680 Z" fill="#FEE79B"/>
<path d="M774 586 L784 582 L796 578 L806 576 L812 572 L820 575 L825 580 L822 588 L810 590 L800 590 L790 590 L780 591 L776 590 Z" fill="#FFF8C1"/>
<path d="M816 576 L824 574 L830 578 L831 590 L828 598 L820 598 L816 590 Z" fill="#FFFFE5"/>
<path d="M804 590 L812 584 L820 588 L826 596 L828 612 L826 628 L822 640 L812 636 L806 622 L804 606 Z" fill="#FFF8C1"/>
<path d="M832 578 L842 576 L850 582 L852 590 L852 604 L844 608 L836 606 L832 596 Z" fill="#FFFFE5"/>
<path d="M726 708 L734 706 L744 708 L746 716 L740 722 L728 722 Z" fill="#FEE79B"/>
<path d="M697 742 L705 739 L712 740 L715 745 L707 752 L710 762 L705 767 L700 765 L697 755 Z" fill="#FFFFE5"/>
<path d="M530.2 676 L538.3 676 L546.5 685.3 L548.8 690 L554.7 704 L558.2 708.7 L555.8 713.3 L561.7 720.3 L551.2 722.7 L545.3 720.3 L536 720.3 L529 722.7 L523.2 728.5 L520.8 730.8 L512.7 730.8 L508 728.5 L511.5 722.7 L513.8 708.7 L524.3 706.3 L526.7 699.3 L529 690 Z" fill="#C14702"/>
<path d="M523.2 728.5 L529 722.7 L536 720.3 L545.3 720.3 L551.2 722.7 L550 732 L554.7 739 L554.7 748.3 L545.3 748.3 L543 736.7 L532.5 742.5 L524.3 741.3 L522 735.5 Z" fill="#933204"/>
<path d="M546.5 685.3 L550 685.3 L557 681.8 L557 673.7 L561.7 672.5 L564 680.7 L572.2 679.5 L575.7 673.7 L578 676 L579.2 686.5 L571 691.2 L564 694.7 L564 701.7 L555.8 704 L552.3 699.3 L548.8 690 Z" fill="#F68720"/>
<path d="M564 649.2 L573.3 644.5 L580.3 645.7 L585 653.8 L585 666.7 L587.3 676 L582.7 680.7 L576.8 673.7 L572.2 679.5 L564 680.7 L561.7 672.5 L565.2 666.7 L564 655 Z" fill="#FFFFE5"/>
<path d="M754.5 663 L762 661.5 L774 663 L786 664.5 L787.5 669 L780 675 L777 684 L780 690 L774 693 L768 687 L759 681 L754.5 675 Z" fill="#FEE79B"/>
<path d="M777 699 L783 696 L792 699 L802.5 702 L810 699 L817.5 696 L825 699 L830 700 L825 705 L817.5 711 L807 715.5 L795 718.5 L783 720 L777 717 Z" fill="#FFF8C1"/>
<path d="M757.5 702 L765 696 L774 694.5 L778.5 699 L777 708 L771 714 L765 720 L757.5 714 L756 708 Z" fill="#FFFFE5"/>
<path d="M802 698 L812 696 L824 699 L822 708 L812 711 L803 708 Z" fill="#FFFFE5"/>
<path d="M808.5 652 L818 649.5 L830 652 L840 660 L840 680 L830 682.5 L818 680 L808.5 672 Z" fill="#FFF8C1"/>
<path d="M855 615 L890 615 L890 640 L877 657 L855 657 Z" fill="#FFF8C1"/>
<path d="M780 440 L845 440 L845 480 L820 488 L800 493 L780 480 Z" fill="#FFF8C1"/>
<path d="M788 448 L800 447 L811 448 L813 475 L800 474 L788 466 Z" fill="#D9D9D9"/>
<path d="M811 448 L840 448 L840 471 L826 471 L811 472 Z" fill="#FEE79B"/>
<path d="M817 467 L848 467 L848 484 L830 484 L817 484 Z" fill="#FFF8C1"/>
<path d="M845 440 L893 440 L887 448 L876 453 L867 451 L855 445 L852 447 Z" fill="#FECE65"/>
<path d="M845 440 L855 440 L855 446 L847 447 Z" fill="#FEAC3A"/>
<path d="M836 445 L850 445 L860 455 L860 475 L845 475 L836 465 Z" fill="#FFFFE5"/>
<path d="M859 445 L875 445 L875 464 L865 464 L859 460 Z" fill="#D9D9D9"/>
<path d="M855 473 L860 469 L864 465 L868 467 L873 473 L877 479 L872 483 L868 485 L865 480 L860 479 L855 477 Z" fill="#F68720"/>
<path d="M873 480 L877 479 L887 480 L891 491 L896 501 L899 512 L893 515 L885 512 L881 507 L876 499 L873 491 Z" fill="#FECE65"/>
<path d="M847 485 L855 481 L865 480 L863 491 L857 499 L853 504 L848 503 L845 497 Z" fill="#FECE65"/>
<path d="M860 488 L868 485 L873 491 L876 499 L872 501 L865 500 L860 499 Z" fill="#FEE79B"/>
<path d="M867 503 L872 500 L879 507 L880 515 L875 520 L868 517 L864 515 L867 509 Z" fill="#FFFFE5"/>
<path d="M878 505 L893 512 L900 515 L908 521 L913 528 L917 535 L920 545 L920 560 L880 560 L878 530 Z" fill="#FEE79B"/>
<path d="M881 507 L893 515 L900 517 L908 521 L913 528 L916 533 L917 540 L910 540 L903 533 L897 533 L889 528 L881 523 L880 515 Z" fill="#FEE79B"/>
<path d="M800 486 L848 486 L848 515 L808 517 L800 512 Z" fill="#D9D9D9"/>
<path d="M780 480 L788 481 L796 484 L800 493 L799 503 L796 512 L788 515 L780 516 Z" fill="#FFFFE5"/>
<path d="M804 491 L811 493 L817 496 L823 499 L824 505 L817 508 L812 508 L807 505 L804 500 Z" fill="#FFF8C1"/>
<path d="M832 512 L840 507 L848 505 L853 509 L855 517 L853 525 L847 533 L843 531 L839 523 L833 517 Z" fill="#FFF8C1"/>
<path d="M780 517 L788 515 L796 516 L807 519 L809 527 L807 533 L797 533 L788 533 L780 533 Z" fill="#FEE79B"/>
<path d="M800 539 L807 523 L809 517 L816 516 L823 520 L824 531 L823 536 L825 541 L824 545 L813 547 L807 547 L801 544 Z" fill="#FEE79B"/>
<path d="M824 531 L828 520 L833 517 L839 523 L843 531 L841 539 L836 544 L831 545 L825 541 L823 536 Z" fill="#FFFFE5"/>
<path d="M855 517 L860 516 L868 519 L876 521 L879 527 L873 531 L867 536 L863 543 L859 541 L855 533 L853 525 Z" fill="#FECE65"/>
<path d="M868 533 L873 531 L879 527 L884 528 L885 535 L881 540 L873 541 L868 539 Z" fill="#FFFFE5"/>
<path d="M887 531 L897 533 L901 537 L900 547 L897 551 L889 548 L884 545 L881 540 L885 535 Z" fill="#FEE79B"/>
<path d="M903 541 L908 540 L913 547 L917 555 L912 557 L904 555 L900 549 Z" fill="#FEE79B"/>
<path d="M780 533 L800 533 L808 540 L808 575 L780 580 Z" fill="#D9D9D9"/>
<path d="M780 541 L792 541 L792 563 L780 563 Z" fill="#FFFFE5"/>
<path d="M807 552 L813 547 L824 544 L831 541 L839 541 L845 540 L852 541 L853 547 L847 555 L833 557 L824 560 L820 567 L815 572 L811 568 L808 560 Z" fill="#FECE65"/>
<path d="M824 560 L833 557 L844 555 L849 555 L844 560 L833 571 L828 573 L823 577 L821 573 L824 568 Z" fill="#FEAC3A"/>
<path d="M829 548 L836 548 L841 545 L845 547 L848 549 L844 552 L836 553 L831 554 Z" fill="#C14702"/>
<path d="M847 545 L857 543 L865 544 L873 548 L872 557 L867 563 L860 568 L855 565 L848 557 L845 552 Z" fill="#FEE79B"/>
<path d="M873 549 L877 545 L885 547 L891 552 L887 557 L879 559 L872 557 Z" fill="#FECE65"/>
<path d="M857 551 L900 551 L913 560 L913 587 L880 587 L857 580 Z" fill="#FEE79B"/>
<path d="M832 560 L844 558 L852 562 L860 566 L862 572 L856 578 L849 580 L843 576 L836 573 Z" fill="#E1640E"/>
<path d="M872 552 L900 552 L900 576 L872 576 Z" fill="#FEE79B"/>
<path d="M863 576 L873 574 L884 576 L894 578 L894 598 L880 600 L868 600 L865 588 Z" fill="#FECE65"/>
<path d="M848 582 L855 579 L865 581 L868 590 L868 602 L858 602 L850 592 Z" fill="#FEAC3A"/>
<path d="M860 596 L888 596 L888 618 L876 618 L864 620 Z" fill="#FEE79B"/>
<path d="M896 560 L916 560 L916 590 L896 590 Z" fill="#FFF8C1"/>
<path d="M888 590 L912 590 L912 602 L904 612 L892 620 L888 618 Z" fill="#FFFFE5"/>
<path d="M815 392 L840 392 L844 397 L845 400 L843 405 L835 412 L833 419 L820 420 L815 410 Z" fill="#FFF8C1"/>
<path d="M796 398 L808 398 L820 404 L826 410 L828 418 L826 428 L820 436 L818 438.7 L812 432 L806 428 L800 425 L797 418 L797 408 Z" fill="#FFFFE5"/>
<path d="M790 443.3 L797.3 442.7 L800 448 L798 453.3 L793.3 460 L790 460 Z" fill="#FEE79B"/>
<path d="M812 378 L826 378 L826 386 L823 391 L817 394 L812 392 Z" fill="#FFFFE5"/>
<path d="M800 430 L812 427 L819 430 L818 445 L812 451 L800 451 Z" fill="#D9D9D9"/>
<path d="M771 442 L790 442 L792 458 L785 460 L772 458 Z" fill="#D9D9D9"/>
<path d="M775 446 L778 445 L780 450 L785 449 L787 452 L783 456 L778 456 L776 455 L774 450 Z" fill="#662506"/>
<path d="M937 224 L942 221 L948 222 L950 226 L946 230 L950 233 L948 236 L940 236 L937 231 Z" fill="#FECE65"/>
</g>
<g fill="none" stroke="#555555" stroke-width="1" stroke-linejoin="round" shape-rendering="crispEdges">
<path d="M145 479 L146.8 477.8 L149 477.4 L150.9 476.4 L152.6 475.1 L154.3 473.7 L156.2 472.7 L158.2 471.9 L160 470.8 L162 470 L163.2 468.1 L164.8 466.5 L166.5 464.9 L166.8 462.3 L168.7 460.9 L170 459 L172.1 458.5 L174.1 458.8 L176 460 L178 459.8 L179.9 460.5 L182 460 L184.1 459.5 L186 460.3 L188 460.8 L189.9 461.5 L192 461 L194.2 460.5 L195.7 458.7 L197.6 457.5 L199.2 456 L201.5 455.6 L203 453.9 L204.9 452.7 L207 452 L209.2 451.8 L211.2 452.3 L212.9 453.8 L215 454 L217.1 455.3 L217.8 457.8 L220 459 L221.9 458.2 L224.1 459.2 L225.9 457.8 L227.9 457.5 L230 458.3 L232 457.4 L234 457.9 L236 456.9 L237.9 456.5 L240 457 L242 456.7 L243.9 456 L245.8 455.5 L247.7 454.7 L249.2 453.1 L251.4 453.2 L253.3 452.6 L255.1 451.6 L257 451 L259.2 450.9 L260.9 449.3 L263.2 449.7 L265.1 448.6 L266.8 447 L268.8 446.3 L271.1 446.5 L273.2 446.1 L275 445 L276.8 443.8 L278.9 443.6 L281.1 443.7 L282.9 442.3 L285.1 442.8 L287 441.7 L288.8 440.5 L290.9 440.4 L293 440.2 L295 439.5 L297 439 L299.1 438.8 L300.9 437.5 L303.1 437.9 L305 437 L307 436.6 L309 436.9 L311 436.7 L313 436.2 L315 436 L317 436 L318.7 437.1 L320.5 438.1 L322.5 438.6 L324.5 439.1 L326.5 439.5 L328.5 439.9 L329.9 441.9 L332 442 L334.2 442.1 L336.4 442.2 L338.5 441.2 L340.7 441.5 L342.9 441.9 L345 441 L347 442.1 L349.2 442.3 L351.5 442.4 L353.6 443.2 L355.6 444.4 L357.9 444.2 L360 445"/>
<path d="M360 445 L361.3 442.6 L362 440 L360.4 438.2 L359.1 436.2 L357 435 L357.5 432.5 L357 430 L358.6 428.7 L360.2 427.3 L362.2 426.7 L364.1 425.9 L366 425 L365.1 422.9 L364.4 420.8 L363.5 418.7 L362 417 L359.9 416.4 L359 414.3 L357.3 413.1 L355.6 411.9 L353.7 411.1 L352 410 L351.7 408 L352.5 406 L352.5 404 L352.3 402 L352 400 L350.6 398.5 L348.4 398.2 L346.4 397.5 L345 396 L347 395.1 L349.2 394.4 L350.8 392.6 L353.2 392.3 L355 391 L357.2 391 L358.9 389.4 L361 389.4 L363.1 388.9 L365 388 L366.9 387 L368.9 386.4 L371.1 386.6 L373.1 386 L375 385 L377.2 384.3 L379.2 383.2 L381.7 383.6 L383.9 383 L386 382 L386.4 380 L387.6 378.3 L388.8 376.6 L389.5 374.7 L389.8 372.6 L390.5 370.7 L391.4 368.9 L392 367 L392 364.8 L392.4 362.6 L392.8 360.5 L394 358.5 L393.9 356.2 L394.7 354.2 L395 352 L397.1 351.6 L399.3 351.5 L401.4 350.6 L403.5 350.2 L405.8 351.3 L407.8 350.1 L410 350 L410.5 347.3 L412 345 L413.6 343.7 L415.2 342.4 L416 340.3 L417.9 339.3 L419.1 337.6 L420.7 336.4 L421.6 334.4 L423.1 332.9 L425 332 L427.1 332.4 L429.1 331.9 L431 331 L433 330.8 L434.9 330 L437 330 L440 330 L442.2 329.6 L444 328.2 L446.3 328.1 L448.2 327 L450.2 326.3 L452 325 L453 322.8 L452.3 320.3 L453 318 L451.7 316.2 L451.2 314.1 L451 312 L452.7 310 L454.6 308.2 L457 307"/>
<path d="M386 382 L388 381.3 L390 382.1 L392 382.6 L394 381.9 L396 382.7 L398 382.6 L400 382 L402.3 382.6 L403.9 384.5 L406.1 385.4 L408.3 386.2 L409.7 388.4 L412 389 L414.1 389 L416 389.9 L418 390.4 L419.9 391.3 L422 391 L422.8 393.1 L424.1 394.9 L425 397 L427.2 397.2 L429.4 397.1 L431.3 398.5 L433.5 398.9 L435.8 398 L437.9 398 L440 399 L442.4 397.7 L445 397 L447.1 397.8 L448.7 399.5 L450.7 400.5 L452.8 401.5 L455 402 L456.4 400.2 L458.7 399.8 L460.4 398.5 L462 397 L463.8 395.8 L465.8 394.9 L467 393 L466.7 390.7 L467.3 388.5 L468.6 386.5 L469.2 384.3 L469 382 L471 382.3 L473 381.7 L475 382 L476.8 383 L478.6 384.1 L480.8 384 L482.5 385.2 L484.4 386 L486.4 386.6 L488 388 L490.5 386.5 L493 385 L495.2 383.9 L497.6 383.3 L500 383 L502 383.7 L503.2 385.6 L505.4 385.9 L506.5 387.9 L508.6 388.5 L510 390 L512.1 390.9 L512.8 393.3 L515.1 393.9 L516 396.1 L518 397 L520.2 397.8 L522.4 398.1 L524.8 397.2 L527 398 L530 398.5 L531.8 399.6 L533.9 400.4 L535 402.6 L536.9 403.7 L539 404.5 L541 405.6 L543.2 406.2 L545.4 407 L547.2 408.5 L549.5 409 L551.6 409.6 L553.6 410.4 L555.9 410.3 L558 411 L560 412 L561.8 413.4 L562.1 415.8 L563.5 417.4 L565.2 418.9 L566 421 L567.1 423.3 L569.3 424.8 L570.5 427 L570.6 429.2 L570.5 431.5 L572.4 433.2 L573.8 435.3 L575 437.5 L575 440.1 L576.2 442.5 L576.5 445 L576 447 L574.7 448.6 L574 450.5 L572.4 451.9 L572 454 L570.5 455.7 L568 455.8 L567 458.2 L564.5 458.3 L563 460 L561.7 461.7 L561.1 464 L559.7 465.6 L558.5 467.5 L558.8 469.6 L558.9 471.7 L558.9 473.8 L558.7 475.9 L558.5 478 L558.6 480.3 L560 482 L560 484.2 L560.7 486.2 L562 488"/>
<path d="M472 307 L473.3 308.7 L473.8 310.6 L473.7 312.8 L475.6 314.3 L475.4 316.5 L476.8 318.1 L476.6 320.4 L478 322 L479.8 323.2 L480 325.5 L481.8 326.7 L483.2 328.1 L484 330 L482.5 332.5 L480 334 L481 335.8 L482.6 337 L484.4 338.2 L485.4 339.9 L486.2 341.9 L488 343 L489.4 344.8 L489.9 347 L491.5 348.8 L492.4 350.8 L493 353 L495 352.1 L496.7 350.8 L498 348.9 L500 348 L501.9 347.1 L503.9 346.9 L506 347.4 L508 347 L510.2 346.7 L512.5 346.2 L514.7 345.8 L517 346 L519 346.4 L521 346.8 L522.9 347.2 L525 347 L525.9 349.5 L527 352 L526.4 354.2 L525.6 356.3 L523.7 357.8 L523 360 L521.4 361.3 L519.5 362.1 L518.4 364 L516.1 364.3 L514.8 366 L513 367 L515.3 367.8 L517.6 368.2 L520 368 L521.7 369.3 L523.8 370.1 L524.6 372.5 L526.7 373.3 L528 375.1 L530 376 L532 375.6 L534 375.5 L536 376 L536.3 378.4 L537.7 380.4 L538.7 382.6 L539 385 L541 385.3 L543 386.1 L545 386.5 L547.3 387.4 L548.7 389.5 L550.7 390.9 L552.5 392.5 L554.4 391 L555.9 389.1 L558.3 388.3 L560 386.5 L558.3 384.4 L556 383 L558.2 382.9 L559.9 381.5 L562.1 381.5 L563.9 380.4 L566 380 L568.2 380.9 L570.6 380.4 L572.6 382 L575 382 L577.2 381.6 L578.7 380 L580.6 379 L582.5 378 L584.8 377.7 L587 377.4 L589.1 376.3 L591.6 377.4 L593.7 375.9 L596 376 L597 378.1 L597.6 380.4 L597.9 382.7 L598 385 L596.1 386.2 L595.3 388.5 L593.6 389.9 L591.4 390.8 L590 392.5 L588.8 394.3 L587.5 396 L585.4 396.9 L584 398.5 L583.9 400.8 L584 403 L583.7 405.2 L584 407.5 L585.9 408.6 L586.6 410.9 L588.3 412.2 L590 413.5 L592.1 413.6 L594 414.5 L595.6 415.7 L597.5 416.5 L600 416.3 L602.5 415.8 L605 416 L607.1 414.8 L609.5 414.6 L611.6 413.6 L614 413.5 L616 412.9 L618.2 412.5 L619.8 410.8 L622 410.6 L624.1 410.1 L626 409 L625.9 406.7 L627.2 404.6 L627.8 402.4 L627.5 400 L627.6 398 L627.9 396 L628.8 394.1 L628.5 392 L628.6 390 L629 388 L630.8 386.6 L631.7 384.6 L632.4 382.5 L633.5 380.6 L635 379 L637.2 378.4 L639.5 378.2 L641.9 378.6 L644 377.5 L644.3 379.5 L644.9 381.5 L645.8 383.3 L647 385 L645.8 386.7 L646.1 389 L644.7 390.6 L643.4 392.2 L642.6 394.1 L642.8 396.4 L641.9 398.2 L641 400 L642.7 401.1 L644.7 401.6 L646.4 402.7 L648.5 403 L650 404.5 L651.8 405.3 L653.6 406.3 L655.7 406.6 L657.4 407.6 L659 409 L660.9 410.3 L663.1 410.6 L665.1 411.4 L667.3 411.6 L669.5 412 L671.7 412.2 L673.8 412 L675.9 411.7 L677.8 410.1 L680 410.5 L681.7 408.6 L682.7 406.3 L684.5 404.5 L686.2 403 L687.2 400.8 L689 399.4 L691 398.1 L692.1 396 L693.2 394 L695 392.5 L696.2 390.9 L697.3 389.1 L699.1 387.9 L699.4 385.7 L700.6 384 L702.2 382.6 L702.7 380.5 L704.4 379.2 L705.5 377.5 L708 376.9 L709.8 375.2 L712 374"/>
<path d="M605 416.5 L606.8 418.6 L608 421 L609.9 422.5 L611.7 424 L614 425.1 L615.5 427 L616.6 428.9 L617.2 431 L617.6 433.2 L618 435.4 L618.5 437.5 L619.3 439.9 L619.9 442.4 L620 445 L619.8 447.4 L618.5 449.5 L620.3 450.7 L622 452.2 L624 453 L626 454 L627.9 455.6 L629.9 457.2 L632 458.5 L634.2 459.1 L635.9 460.8 L638 461.5"/>
<path d="M638 461.5 L638.4 459 L639.1 456.5 L639.5 454 L641.1 452.6 L642.5 451 L643.8 449.3 L645.5 448 L644.6 445.6 L644.1 443.1 L644 440.5 L642.5 439 L640.9 437.6 L639.6 435.9 L638 434.5 L638.2 432.1 L639.6 430.2 L641.2 428.4 L641.2 425.9 L642.5 424 L644.6 423.8 L646.7 423.4 L648.8 422.8 L651 423.5 L653 422.5 L654.5 425.5"/>
<path d="M659 409 L657.7 411.2 L655.7 412.8 L654.5 415 L655 417.1 L655.1 419.2 L653.9 421.3 L654.6 423.4 L654.5 425.5 L656.7 426.1 L658.3 427.6 L660.2 428.8 L662 430 L663.8 431.3 L666.3 431.5 L668.2 432.6 L669.7 434.6 L671.8 435.3 L674 436 L676.5 437.1 L678.5 439 L678.7 441.2 L678.7 443.5 L678.2 445.8 L678.5 448 L677.8 450 L677 451.9 L676.5 453.9 L676.5 456 L675.7 457.9 L675.5 460 L673.2 459.9 L671 460.1 L668.8 460.8 L666.5 460.6 L664.2 460.9 L662 461.5 L660.9 463.3 L661.5 465.6 L660.5 467.5"/>
<path d="M332 442 L332.5 444.7 L334 447 L336.3 447.3 L337.8 449.4 L340 450 L338.4 451.7 L337 453.5 L335 454.8 L334 457 L334.1 459 L334.5 461 L334.2 463 L334.2 465.1 L335 467 L336.6 468.8 L338.5 470.2 L340 472 L339.6 474.2 L339.1 476.3 L338.2 478.4 L338.3 480.7 L337.7 482.9 L337 485 L338.3 486.7 L339.8 488.2 L341.2 489.8 L342 491.9 L343.3 493.7 L345 495 L346.3 496.7 L347.6 498.5 L349.1 500 L350 502 L352.1 502.2 L354.1 502.5 L356 503.6 L358 504.1 L360.1 503.9 L362 505 L363.8 506.2 L366.1 505.9 L367.9 507.2 L369.9 507.7 L371.8 508.4 L374.1 507.9 L376 508.8 L377.8 510 L380 510 L382.1 509.6 L384.1 510 L386 511.1 L388 511.3 L389.9 512.3 L392 512 L394 513.1 L396.3 513.4 L398.3 514.7 L400.7 514.7 L402.8 515.4 L405 516 L407.1 516.4 L409.3 516.1 L411.4 516.2 L413.6 516.7 L415.7 516.5 L417.8 517.5 L420 517 L422.4 516.6 L424.7 515.7 L427 515 L429 515.7 L430.4 517.2 L432.1 518.4 L433.6 519.7 L435.3 520.9 L437 522 L437.2 524.2 L437.8 526.2 L439.3 528 L440 530 L442 530.8 L443.9 531.8 L445.7 533.2 L448.1 533.1 L450 534.2 L452 535 L454.3 535 L456.2 533.5 L458.4 533.2 L460.8 533.7 L462.9 533 L465 532 L466.8 530.3 L468.1 528.1 L470.7 527.2 L472 525 L473 523.1 L474 521.2 L474.9 519.3 L475 517 L477.6 517.1 L480 516 L478.2 514.1 L476.3 512.3 L475 510 L475.7 507.9 L477 506 L478 504 L478.6 501.8 L480 500 L478.9 498.1 L479 495.9 L478.3 494 L477.4 492.1 L477 490 L479.1 488.9 L480.3 486.9 L481.3 484.7 L483.3 483.5 L485 482 L487.2 483.4 L489.8 483.7 L492 485 L492.7 487.1 L494.7 488.7 L495.3 490.9 L495.5 493.2 L496.9 495.1 L497.8 497.1 L499.4 498.8 L500 501 L501.8 502 L503.5 503.1 L505.4 503.7 L507 505 L508.9 506.4 L511 507.4 L512.6 509.2 L514.9 509.9 L517 511 L519 511.1 L521.1 510.9 L523.1 511.2 L525 512 L526.9 513 L529.2 512.6 L531.2 513.2 L533.1 513.9 L535 515 L537.3 514 L539.9 513.4 L542 512 L542.7 510 L543.4 508.1 L542.9 505.8 L544 504 L545.8 502.8 L548.1 503.4 L549.9 502.2 L552 502 L553.6 500.2 L554.5 497.9 L556 496 L554.9 494.2 L554.3 492.1 L554 490 L551.6 488.4 L550 486 L548.2 484.6 L546 484.3 L543.9 483.8 L542 482.9 L540 482 L538 480"/>
<path d="M550 486 L551.9 485.2 L553.8 484 L556 484 L558.4 482.4 L560 480 L561.9 481.1 L563.7 482.6 L566 482.9 L568 484 L567.8 486 L568.4 488 L568.7 490 L567.4 492 L567.5 494 L568.3 496 L568 498 L565.8 498.1 L563.9 498.9 L562 500 L559.8 498.9 L558.1 497.2 L556 496"/>
<path d="M568 484 L570.3 483.6 L572 482 L574.3 481.6 L576 480 L577.3 481.8 L578.1 483.9 L578.7 486.1 L580 488 L582.2 488.6 L584.1 489.7 L585.7 491.5 L588 492 L590 492.4 L591.9 493.2 L594.1 492.8 L596.1 493.1 L598 494 L599.5 495.9 L601.1 497.7 L602 500 L600.8 502.1 L601.3 504.6 L600.4 506.7 L600 509"/>
<path d="M480 516 L482.2 516.1 L484 517.4 L486.1 517.8 L488 518.5 L490.2 518.7 L492 520 L493.3 521.8 L493.1 524.2 L494.6 525.9 L495.6 527.9 L496.4 529.8 L497.1 531.9 L498 533.9 L499 535.7 L499 538.1 L500 540 L499.2 542.1 L498 544 L500.2 544.5 L502 546 L502 548 L503.2 549.9 L503.2 552 L502.6 554.1 L504 555.9 L503.8 558 L504 560 L503.7 562.1 L503.9 564 L505.1 565.9 L505 568 L504.7 570 L505.4 572 L504.7 574.1 L506 576 L505.1 578.1 L506 580 L505 582.5 L504 585 L504.4 587 L504.1 589 L504.6 591 L504 593 L502.2 591.3 L500 590 L499.3 592.6 L498 595 L498.4 597.7 L500 600 L499.9 602.5 L500 605 L498 605.5 L496.1 606 L494 606 L492.6 604.4 L491 603 L489 606"/>
<path d="M504 590 L505.2 591.8 L505.1 594.2 L506.9 595.8 L507.2 598 L508 600 L508.9 602 L510.3 603.8 L511 606 L512 603 L513.4 601.2 L513.8 598.9 L515.2 597.1 L516.1 595 L517 593 L518.7 594.3 L520.1 595.9 L521.9 597.1 L523 599 L524.9 601.3 L526 604 L524 607 L524.5 609 L526.2 610.4 L526.8 612.4 L528 614 L530.2 612.8 L532.7 612.8 L535 612 L536.2 613.9 L537 616 L538.3 617.9 L539 620 L540 622 L541.8 623.7 L542.6 625.9 L544 627.8 L545.3 629.7 L546 632 L546.6 634.1 L548 635.9 L548.7 637.9 L548.9 640.2 L549.9 642.2 L550.6 644.2 L552 646 L553.9 647 L556.1 646.5 L558.1 647.2 L560 648 L561.7 646.4 L564.1 646.2 L566.1 645.2 L568 644 L570 644"/>
<path d="M604 678 L606.1 678.3 L608 678.9 L609.9 679.7 L612 680 L613.9 681.3 L616.2 681.7 L617.8 683.5 L620 684 L622.1 684.8 L623.9 686.2 L626.2 686.6 L628 688 L629.8 689.7 L630.2 692.3 L632 694 L632.3 696.1 L633 698.1 L634 700 L634.3 702.1 L633.9 704.1 L633.3 706.1 L632.8 708.1 L632 710 L634.2 711.8 L636 714 L638 714.2 L640.1 714 L642 715"/>
<path d="M604 678 L605.9 676.7 L608.1 676.2 L609.8 674.6 L612.2 674.5 L614 673.1 L616 672 L617.9 673.3 L620.2 673.7 L622 674.9 L624 676 L626.1 675.2 L627.9 673.8 L629.7 672.3 L632 672 L634.2 671.4 L636.2 670.4 L637.9 668.7 L640 668 L641.2 666.1 L643.7 665.7 L645.1 664.1 L646.2 662.1 L648.1 661 L650 660 L652.2 660.1 L653.9 661.7 L656 662 L658.2 663 L659.7 665.2 L662 666 L664.2 665.3 L665.7 663.4 L668.1 663.3 L670 662 L672 661.3 L674.1 661.4 L676.1 661 L678 660 L679.8 658.4 L681.7 656.8 L684 656 L686 655.3 L687.1 653.5 L689.2 652.9 L690.6 651.4 L692 650 L694.3 648.3 L696 646"/>
<path d="M690 587 L689.3 588.9 L689.3 591 L689.3 593 L689 595 L689.9 596.9 L689.2 599 L689.9 601 L690 603 L690.3 605.3 L690 607.8 L691 610 L691.9 611.9 L691.3 614.1 L692 616 L691.2 618.4 L689.1 619.8 L688 622 L686 623 L684.9 624.9 L683 626 L680 628"/>
<path d="M693 628 L692.9 630.3 L692.3 632.7 L693 635 L691.3 637.4 L690 640 L690.3 642 L691.2 643.9 L691.8 645.9 L691.8 648 L692 650 L695 652"/>
<path d="M680 602 L681.7 603.2 L683.6 604.3 L685 606 L686.8 604.3 L689 603"/>
<path d="M670 540 L669.1 542.3 L667.1 543.8 L666 546 L664.3 547.8 L663 550 L660.6 550.9 L658 551 L657.4 553.6 L656 556 L655 558 L654.1 560 L653 562 L651.2 563.3 L650.5 565.5 L649 567 L647 567.3 L645 567 L644 564.7 L642 563 L640 563.5 L638 563 L636 562.4 L634 562 L631.4 561.2 L629 560 L626 561 L624 564 L623.5 566 L623.9 568 L624 570 L622 573 L620.2 574.8 L619 577 L618 580 L620.8 581.1 L623 583 L624.3 585.1 L626 587 L628 590 L629.9 591.1 L632 592 L633.5 594 L635 596 L635.6 598.2 L637 600 L638.9 598.3 L640 596 L642.1 595.9 L644 597 L645.2 594.8 L647 593 L649.4 591.3 L652 590 L653.7 588.1 L656 587 L658 585 L660.2 584.9 L662 586 L664.1 586.7 L666 588 L668.5 587.5 L671 588 L671.4 590.1 L672.4 592 L673 594 L675 596.2 L676 599 L678 602 L680.2 603.3 L682 605 L684 605.5 L686 606 L689 604"/>
<path d="M674 559 L675.9 557.8 L678 557 L679.9 556.3 L681.9 555.9 L683.9 555.5 L686 556 L688.2 556.2 L690 555 L691.9 555.7 L694.1 555.1 L696 556"/>
<path d="M674 559 L673.7 561.2 L673.3 563.4 L673.9 565.6 L674.6 567.8 L674 570 L676 572 L678 574 L679.1 576 L680 578 L683 580 L685 582 L686.9 583.7 L688 586 L690 588 L689.9 590 L690.7 592 L689.4 594 L689.8 596 L690 598 L689.5 600 L688.7 601.9 L689 604"/>
<path d="M601 598 L600.4 600 L600.7 602.1 L600 604 L601 605.9 L601.8 607.8 L602 610 L604.3 610.4 L606 612 L608.2 611.4 L610 610 L612.2 609.5 L614 608 L617 610 L618.3 611.9 L619 614 L622 615 L624.1 615 L626 616 L628.1 615.5 L630.2 615.2 L632 614 L634.3 613.6 L636 612 L634.6 610.2 L634 608 L632.2 606.6 L630 606 L628.2 604.6 L626 604 L625.7 601.9 L624.4 600.1 L624 598 L624.6 595.8 L626.4 594.2 L626.8 591.9 L628 590"/>
<path d="M618 614 L617.9 616 L617.3 618 L617 620 L614.7 621.2 L612.1 621.5 L610 623 L607.4 622.9 L605 622 L602.2 621.6 L600 620 L598 620.6 L595.9 621.2 L594 622 L592.3 623.4 L591.1 625.1 L590 627 L588 629 L588.1 631.2 L588.7 633.2 L590 635 L591.5 637 L593 639 L595 638.3 L596.8 637.2 L599 637 L601.6 637.2 L604 638 L604.9 640.1 L606 642 L605.9 644.2 L604.4 645.9 L604 648 L603.5 650.7 L602 653 L601.8 655.3 L600.6 657.6 L601 660 L602.3 661.8 L603.1 663.8 L603.3 666 L604 668 L604.5 670 L603.7 672 L604.7 674 L603.5 676 L604 678"/>
<path d="M601 598 L598 597 L596 596.5 L594 596.6 L592 597 L590 600 L589.1 602.1 L588 604 L586.8 606.2 L585 608 L584.3 609.9 L584 612 L582 614 L580 616 L578.1 618.1 L576 620 L575.7 622.5 L575 625 L575.6 627.5 L576 630 L576.3 632.5 L577 635 L576 637.4 L576 640 L574 642 L571.7 642.5 L570 644"/>
<path d="M562 488 L563.8 486.5 L565.9 485.7 L568 485 L569.7 483.9 L571.5 483.1 L573.1 481.8 L575 481 L577.3 482.1 L579 484 L579.9 485.9 L579.9 488 L580 490 L582 490.7 L583.8 492.2 L585.8 492.8 L588 493 L590.3 493.9 L592.6 494.4 L595 494 L596 496 L598 497 L599.4 499.1 L601 501 L600.3 502.9 L601.2 505.1 L600 507 L600 509 L601.6 510.8 L603.5 512.1 L605 514 L607.3 514.4 L609.6 515.3 L612 515 L614.3 514.3 L616.7 513.9 L619 513 L620.3 511.3 L622 510 L624 509.4 L626.1 509.9 L628 509 L626.3 506.8 L626 504 L625.9 501.9 L626.9 500 L627 498 L629.5 496.9 L632 496 L634 495.4 L636 496.2 L638 495.8 L640 496 L640.1 494 L639.9 492 L640 490 L639.5 487.5 L639 485 L640.1 483 L641 481 L639.4 478.6 L638 476 L638.1 473.8 L638.9 471.8 L640 470 L641.1 467.6 L641 465 L643.5 465.1 L646 465 L648.3 465.5 L650 467 L652 467.5 L654 466.6 L656 466.4 L658 467 L660 467 L660 464.9 L660.7 463 L661 461 L663.2 461.1 L665.5 460.6 L667.8 461.1 L670 461 L671.9 460.1 L674 460.4 L676 460 L676.1 458 L675.4 456 L675.9 454 L675.4 452 L676 450 L676.4 447.5 L677 445 L678 443.1 L678.1 441 L678.5 439"/>
<path d="M622 510 L624 510.6 L626 510.9 L628.1 510.2 L630 511 L631.7 512.4 L633.9 512.8 L636.2 512.7 L638 514 L640.7 513.5 L643 512 L645.6 512.8 L648 514 L649.7 515.4 L650.1 517.8 L652 519 L654 519.6 L655.9 520.4 L658.1 520 L660 521 L661.9 522.1 L664.2 521.7 L666 523 L668.4 522.9 L670.7 523.5 L673 524 L675.5 524 L677.6 525.5 L680 526"/>
<path d="M674 525 L673.9 527.6 L673 530 L674.7 531.8 L676 534 L674.4 535.8 L673.4 538.1 L672 540 L670 540"/>
<path d="M680 526 L681.7 527.5 L683.9 528.2 L685.8 529.5 L688 530.1 L689.7 531.6 L692 532 L693.5 530.2 L693.6 527.8 L695.3 526.2 L696 524 L695.8 522 L696.4 520 L696.3 518 L696.5 516 L695.4 514 L696 512 L695.3 510 L695.3 507.9 L695.2 505.8 L694 504 L696 504.3 L698 503.3 L700 504.2 L702 503.4 L704 504.1 L706 504 L708.1 504.2 L709.9 502.9 L712.1 503.8 L714 503.1 L715.9 502.2 L717.9 501.8 L720 502"/>
<path d="M696 530 L697.4 532 L698.2 534.3 L700 536 L701.9 538.1 L704 540 L704.6 542 L704.7 544 L704 546 L703.5 548.3 L701.6 549.8 L701.4 552.2 L700 554 L698 554.9 L696 556"/>
<path d="M712 400 L712.3 402 L711.7 404 L712.2 406 L712.5 408 L712 410 L711.2 411.9 L711.4 414 L710.9 416 L710.4 417.9 L709.9 419.9 L711 422.1 L710 424 L710.2 426 L710.5 428 L710 430 L709.4 432 L709.5 434 L710.7 436 L710.5 438 L710 440 L709.5 442 L709.7 444 L710.2 446 L710 448 L710.5 450 L709.5 452 L710.2 454 L710 456 L709.2 457.9 L709.4 460 L710 462.1 L709.4 464 L709.3 466 L708.1 467.9 L708.3 470 L708.9 472.1 L708 474"/>
<path d="M708 474 L709.8 475.3 L711 477.1 L712.2 478.8 L713.5 480.5 L715 482 L716.4 483.9 L717.7 485.9 L719.4 487.6 L720 490 L720.2 492 L720.9 494 L721.7 495.9 L721.4 498 L720.9 500.1 L722 502"/>
<path d="M722 502 L723.8 503.6 L724.9 505.7 L725.4 508.1 L727.1 509.8 L728 512 L730.1 512.4 L732 513.5 L734.1 513.9 L736 515.1 L738 515.8 L739.8 517.1 L741.7 517.9 L744 518 L746.1 517.6 L748 518.6 L749.9 519.2 L751.9 519.6 L753.9 519.7 L756 519.7 L758 520 L760 520 L762 519.4 L763.9 518.9 L766.1 519.2 L768.1 518.9 L770 518 L769.8 520.1 L770.5 522.1 L771.5 523.9 L771.2 526.1 L772 528 L773.5 529.4 L775.4 530.3 L777 531.6 L779 532.4 L780.5 533.8 L782.4 534.7 L784 536 L786.1 535.6 L788 536.3 L790 536.5 L791.9 537.7 L794 537.2 L796 537.3 L798 537.4 L800 538 L801.9 537.1 L803.9 536.8 L805.9 536 L808 536"/>
<path d="M680 575 L681.9 574.1 L684.1 575.2 L686 574.3 L688 574.1 L690 574 L692 574.1 L694 573.7 L696 573.5 L698 574 L699.9 573 L702 573 L704 573 L705.8 571.5 L708.2 570.8 L710 569.3 L712 568 L714.1 568.3 L716 567.1 L718 567 L719.8 568.3 L722 568.6 L724.2 568.7 L726 570 L728.1 569.8 L730 570.6 L731.9 571.5 L734 571 L736.1 572.2 L737.8 574 L740 575 L742.5 575.9 L745 577 L747.6 577 L750 576 L752.3 574.4 L755 574 L756.4 576 L757.2 578.3 L759 580 L760.5 578 L762.2 576.2 L763.7 574.2 L766 573 L767.5 575.3 L768 578 L768.3 580.3 L767.7 582.7 L768 585 L770 586.4 L771.4 588.2 L773 590 L775.3 591.7 L777 594"/>
<path d="M680 575 L680.9 577.6 L682 580 L683.2 582.3 L685.2 584.1 L687 586 L690 587"/>
<path d="M812 570 L811.5 568 L812.4 566 L812.7 564 L812.2 562 L812 560 L811.4 558 L812.5 556 L812.6 554 L811.8 552 L811.5 550 L812 548 L810.6 546.2 L810 544 L809.5 541.7 L808 540 L808.2 538 L808 536"/>
<path d="M777 594 L776.2 595.9 L777.1 598 L776.8 600 L776 602 L775.9 604 L776 606 L774.1 607.5 L771.9 608.4 L770 610 L769.2 612.1 L768.6 614.3 L767 616 L767.1 618 L767.7 620 L767 622 L768.2 624.1 L769.9 625.9 L771 628 L771.3 630.3 L771.5 632.7 L772 635 L773.6 636.4 L774.7 638.3 L776 640 L777.1 642.2 L776 644.8 L777 647 L775.9 649 L774.3 650.7 L774 653 L774.7 655 L773.8 657 L773.7 659 L774.3 661 L774 663"/>
<path d="M774 588 L775.6 585.9 L777.7 584.3 L780 583 L782.3 581.5 L785 581 L787.7 579.8 L790 578 L792.3 576.4 L795 576 L797.6 576 L800 575 L802 575.2 L804 575.7 L806 576 L807.6 574.6 L809.1 573.1 L810.7 571.7 L812 570"/>
<path d="M808 672 L809.9 673.1 L812.1 673.8 L813.8 675.3 L816.2 675.7 L817.9 677.3 L820 678 L820.9 680.2 L822 682.2 L823.8 683.9 L824.4 686.2 L826 688 L825.7 690.1 L826.9 692 L827.5 693.9 L827.6 696 L828 698 L829.7 699.6 L832 700"/>
<path d="M808 672 L807.4 670 L807.3 668 L808 666 L808 664 L809 662.1 L810 660.2 L810.2 657.9 L811.9 656.3 L812 654 L813.2 652.2 L815.3 651.3 L816.1 649.1 L818 648 L817.7 645.9 L818.3 643.9 L818.6 641.9 L819.6 640 L820 638 L821.1 636 L821.6 633.8 L823.6 632.3 L824 630 L824.8 627.9 L825.5 625.8 L826.6 623.8 L828 622 L829.3 620.2 L830.6 618.3 L830.5 615.8 L832 614 L833.7 612.4 L836.2 612.4 L837.8 610.7 L840 610 L842.3 609.6 L844 608 L846.1 607.2 L847.9 605.8 L850.2 605.4 L852 604 L854 604.4 L856.1 604.7 L857.9 606.1 L860 606"/>
<path d="M860 606 L861.1 607.8 L860.8 610.1 L862.3 611.8 L862.1 614.1 L863 616 L862.9 618.2 L864 620 L865.9 619 L868 619.4 L870 618.9 L872.1 619.3 L874.1 619 L876 618 L877.9 619.2 L880.2 619.6 L882.2 620.7 L884.2 621.7 L886 622.9 L888 624 L889.7 621.7 L892 620"/>
<path d="M860 606 L858.4 604.7 L857.9 602.6 L856.6 601.1 L855 599.8 L854 598 L854.4 595.9 L852.9 594.1 L853.1 592 L852.2 590.1 L852.9 587.9 L852 586 L850.4 583.6 L848 582 L846.2 580.6 L845.1 578.5 L843.5 576.9 L841.4 575.8 L840 574 L837.9 573.6 L836 572.7 L834.2 571.4 L831.8 571.8 L830.1 570.4 L828 570 L826 570.4 L824 571.1 L822 571.4 L820 572 L818.1 570.9 L815.9 571.4 L814.1 569.9 L812 570"/>
<path d="M847 584 L848.9 581.9 L851 580 L853.3 578.3 L855 576 L856.7 574.6 L857.1 572.2 L859.2 571.1 L860 569 L863 567 L864.7 565.3 L865 563 L866.5 561 L868 559 L869.8 557.3 L872 556 L874.1 554.4 L875 552 L874.8 549.4 L876 547"/>
<path d="M816 472 L815.9 474.1 L817 476 L818.5 478.1 L818.7 480.8 L820 483 L820.6 485.5 L820 488 L821.7 486.3 L824.1 485.7 L825.7 483.7 L828 483 L831 484 L833.5 484.3 L836 485 L837.7 486.6 L840 487 L840.7 489.1 L841.5 491.3 L843 493 L845.5 493.7 L848 493 L848.4 495.1 L847.9 497 L846.8 498.9 L847 501 L847.7 503.1 L849 505 L850.6 507.1 L851 509.7 L852 512 L854.5 511.6 L857 512 L859 510.9 L860.7 509.5 L863 509 L865.4 509.9 L867 512 L868 515 L865.9 514.5 L864 515.8 L861.9 515.2 L860 516 L857 517 L857.2 519.1 L856.4 521 L856 523 L854.9 525.3 L853 527 L853.8 529 L854.8 530.8 L855 533 L856.5 535.2 L858.7 536.7 L860 539 L861.2 541.2 L863 543 L865 543.4 L867.1 543.2 L869 544 L871 544.6 L873 545 L876 547 L878.4 548.1 L881 548 L883.1 548.8 L885.2 549.6 L887 551 L889.2 551 L891.2 550.2 L893 549 L895.2 548.3 L897 547 L898.2 544.8 L900 543 L901.1 540.7 L903 539"/>
<path d="M900 543 L900.4 545 L900.6 547 L900 549 L901.6 550.7 L902 553 L903 555 L901 555.5 L899 555.6 L897 556"/>
<path d="M808 536 L807.8 533.5 L808 531 L807.3 529 L808.3 527 L808.2 525 L808.1 523 L808.1 521 L808.3 519 L808 517 L805.9 515.6 L803.5 515.1 L801 515 L799.1 513.7 L796.9 513.1 L795 512 L793.8 510.4 L792.9 508.6 L792.6 506.4 L791 505 L792.5 503.3 L794.1 501.7 L795.7 500.1 L797 498.2 L799 497 L800.1 495.1 L799.1 492.9 L800.4 491 L801.2 489.1 L801 487 L802.9 486 L805.1 485.8 L807 485 L808.8 486.9 L810.6 488.8 L812 491 L813.8 489.8 L815.8 489 L818.2 489.2 L820 488"/>
<path d="M855 475 L852.9 474.9 L850.9 475.1 L849 476 L846.9 476.3 L845 475 L843 475 L841 475.3 L839 474.8 L837 475 L835 473.9 L832.9 473.2 L831 472 L829.4 469.9 L827 469 L824.6 469.4 L822.4 468 L820 468 L817.6 469.6 L816 472 L813.5 473.5 L811 475 L809 474.5 L807.1 473.5 L804.9 474.2 L803 473.2 L801 473 L799.3 470.7 L797 469 L794.9 467.8 L793.2 466.1 L791 465 L789 463 L791.1 461.4 L793.3 460"/>
<path d="M790.7 443.3 L792.9 443.1 L795.1 443.1 L797.3 442.7 L799.3 444 L800 440.7 L798 438 L798.6 435.7 L798.7 433.3 L800.5 431.1 L802.7 429.3 L804.2 427.6 L805.4 425.8 L806.7 424 L807.7 421.8 L809.3 420 L811.2 419.3 L812.7 417.9 L814.7 417.3 L817.3 416 L819.4 414.6 L820.6 412.3 L822.6 410.7 L824 408.7 L826 408.6 L828 408.4 L830 407.9 L832 407.7 L834 408.8 L836 408 L837.3 405.3 L839 403.8 L840.7 402.3 L842.4 400.8 L844 399.3"/>
<path d="M799.3 444 L798.8 446 L799.3 448 L800 448.7 L802 447.5 L804.1 446.6 L806.6 446.8 L808.5 445.4 L810.7 444.7 L811.3 446 L809.3 446.6 L807.3 447.1 L805.4 447.8 L803.6 448.6 L802.1 450.5 L800 450.7 L798 453.3 L797 455.1 L795.2 456.4 L794.1 458.1 L793.3 460"/>
<path d="M768 448 L769.7 446.5 L771.8 445.5 L773.8 444.7 L775.7 443.5 L777.9 442.8 L780 442 L781.9 442.8 L784 442.7 L786 442.9 L788.1 442.7 L790 443.5 L792 444"/>
<path d="M708 474 L710.3 473.9 L712.1 472.8 L714 471.7 L716 471 L718.2 470.7 L720.1 469.9 L721.8 468.3 L724 468 L726.1 467.8 L728 466.8 L730 466.5 L731.9 465.6 L734 465.3 L735.9 464.8 L738 464.3 L740 464 L741.8 462.6 L743.9 462.2 L746 462.1 L747.8 460.7 L749.8 460.2 L752 460 L754.1 459.3 L755.8 457.7 L757.9 456.8 L759.8 455.7 L762.2 455.4 L764 454 L764.8 451.7 L766.8 450.1 L768 448"/>
<path d="M768 448 L768.5 446 L767.6 444 L767.9 442 L768 440 L768 437.9 L767.4 436 L766.6 434 L765.7 432.1 L766 430 L767.1 428 L768.2 425.9 L769.9 424.2 L770.5 421.8 L772 420 L772.9 417.9 L774.2 416.1 L775.4 414.2 L776 412 L774.8 410.4 L773.9 408.6 L773.1 406.7 L772 405 L771.6 402.7 L769.6 401.2 L769.6 398.7 L768.3 396.9 L767 395 L767.6 392.9 L768.8 391.1 L769.2 388.9 L769.6 386.8 L771 385 L773.1 384.5 L774.9 383.2 L777 382.5 L779 381.7 L781.2 381.4 L783 380 L783.7 377.7 L783 375.2 L784 373 L783.4 370.7 L782.4 368.5 L781.7 366.3 L781 364 L780.8 361.5 L779.5 359.4 L779 357 L778 355 L777.5 352.7 L776 351"/>
<path d="M712 400 L713.3 398.3 L714.7 396.7 L716 395 L717.7 393.6 L718.9 391.8 L720 390 L721.1 388.1 L721.4 385.9 L721.7 383.8 L723.4 382.1 L724 380 L725 378.1 L725.8 376.1 L725.7 373.8 L727 372 L728.9 371 L730.8 370.2 L733.1 370.7 L734.8 369 L737 369 L737.7 367 L739.6 365.9 L740.6 364.1 L741.1 362 L743.1 360.8 L744 359 L746.3 359.6 L748.7 359.6 L751 360 L752.6 358.1 L755.2 357.6 L757 356 L759 355.7 L761 355.7 L763.1 356.1 L765 355.7 L767 355 L769.5 354.5 L771.3 352.5 L773.6 351.8 L776 351"/>
<path d="M776 351 L774.9 349 L773.2 347.4 L773.4 344.7 L771.7 343 L771.4 341 L771.3 339 L771.4 337 L771.3 335 L771.7 333 L773.5 331.7 L774.6 329.8 L776 328.2 L777.3 326.5 L778.3 324.5 L780.1 323.1 L781.7 321.7 L783.8 322.1 L785.9 321.8 L788 321.7 L790 321 L790.8 323.2 L791.3 325.4 L791.9 327.6 L791.7 330 L793.8 330.1 L795.9 329.8 L797.9 329.9 L800 330 L802 329 L804.1 328.1 L805.9 326.8 L808.2 326.4 L810 325 L812 324.1 L814.3 324.8 L816.2 323.8 L818.3 323.3 L820.2 321.8 L822.4 321.4 L824.6 320.9 L826.7 320 L827.7 317.7 L829 315.6 L830 313.3 L832.3 312.7 L834.6 312.3 L837.1 312.8 L839.3 311.7 L841.7 311.7 L842.7 313.5 L843.8 315.3 L845.3 316.7 L846.7 318.3 L848 319.9 L848.7 322 L850.5 323.3 L851.7 325 L851 326.9 L852 329.1 L851.3 331 L850.8 333 L850.8 335 L853.3 335 L855.3 336.8 L857.9 336.3 L860 337.5 L862.1 337.8 L864.2 337.4 L866.2 338.7 L868.3 338.3 L868.8 336.2 L869.6 334.2 L869.6 332.1 L870 330 L869.9 328 L869.6 326 L868.7 324.1 L868.2 322.1 L868.3 320 L870.3 319 L871.3 316.8 L873.3 315.8 L875.2 317.7 L878 318.2 L880 320 L881.2 321.8 L881.9 323.8 L881.6 326.1 L882 328.2 L883.3 330 L884.9 328.2 L886.8 326.8 L888.1 324.8 L890.4 323.8 L891.7 321.7 L893.8 320.9 L895.5 319.2 L897.4 318.1 L899.8 318 L901.7 316.7 L903.3 315.2 L905.7 315.5 L907.2 313.9 L909 313 L911.1 312.6 L912.8 311.4 L914.9 310.9 L916.7 310 L918.6 308.7 L921.1 308.9 L922.8 307.3 L925 306.7 L927 307 L929 305.8 L931 306.6 L933.1 306.7 L935 305.8 L936.9 304.5 L938.6 302.9 L940.9 302.2 L943.1 301.3 L945 300 L946.4 298 L948.4 296.7 L950 295 L948 294.2 L946.6 292.5 L945.2 291 L943.3 290 L943.2 288 L943.6 286 L942.7 284 L943.8 282 L943.3 280"/>
<path d="M800 358.3 L801.3 356.2 L803.8 355.5 L805.5 353.9 L806.7 351.7 L808.8 352 L810.7 351.1 L812.6 350.4 L814.7 350.1 L816.7 350 L818.1 347.9 L818.9 345.5 L820 343.3 L821.9 345 L824.7 345 L826.7 346.7 L828.4 347.9 L829.7 349.6 L831.6 350.6 L833.3 351.7 L836.7 353.3 L835.5 354.9 L834.9 357 L833.3 358.3 L835.3 359.6 L836.9 361.4 L838.3 363.3 L836 363.6 L834 364.5 L832.2 366.2 L830 366.7 L827.8 368.8 L826.7 371.7 L826.5 374 L824.9 375.8 L823.5 377.7 L823.3 380 L821.5 378.8 L820.4 376.8 L818.5 375.8 L816.2 375.2 L815 373.3 L813 373.2 L811 372.7 L808.9 372.7 L807.1 371.7 L805 371.7 L803 370.4 L802 368.1 L800 366.7 L799.7 364.6 L799.4 362.5 L800.1 360.4 L800 358.3"/>
<path d="M826.7 363.3 L828.3 365.3 L828.8 367.8 L830 370 L832 368.6 L833.5 366.8 L835 364.9 L836.7 363.3 L839.4 363.5 L841.7 365 L841.3 367.1 L841.4 369.3 L840.2 371.2 L840 373.3 L841.6 375.3 L842.1 377.8 L843.3 380"/>
<path d="M826 380 L826 382.7 L824.5 384.5 L822.7 386 L823.5 388.6 L824 391.3 L826.6 392.2 L829.3 392.7 L832.7 394 L834.6 393.3 L836.6 393 L838.7 393.3 L839.5 395.2 L841.5 396.1 L842.3 398.1 L844 399.3"/>
<path d="M868.3 338.3 L866.3 339.6 L865 341.7 L863.7 343.7 L861.7 345 L863.9 347.2 L865 350 L866.9 351.4 L869.4 351.1 L871.2 352.5 L873.3 353.3 L874.1 355.4 L875.5 357.3 L875.9 359.6 L876.7 361.7"/>
<path d="M912 245 L913.7 246.4 L914.6 248.4 L916 250 L917.5 251.5 L919 253.1 L920 255 L920.1 257 L920.4 259 L920.6 261 L920.4 263 L919.4 265 L920 267 L919.4 269 L920.7 271 L919.3 273 L920 275 L922 275.2 L924 275.8 L926 275.7 L928 276.1 L930 275.6 L932 276.6 L934.1 275.9 L936 276.2 L938.1 276.1 L940 277 L940.6 279 L940.8 281 L941.5 282.9 L941 285.1 L942 287 L943.8 288.7 L944.4 291.1 L946.1 292.8 L947 295"/>
<path d="M947 295 L949 295.7 L950.9 296.5 L952.9 297 L955.2 296.6 L957.1 297.4 L959 298.5 L960.8 299.6 L963.2 298.8 L965 300 L965.8 302.1 L966.7 304.1 L967.6 306.2 L969.2 307.9 L970 310 L970.3 312.3 L971.5 314.3 L971.5 316.6 L973.6 318.3 L972.9 320.9 L974.4 322.8 L975 325 L975.9 326.8 L977.1 328.5 L977.7 330.5 L977.8 332.7 L978.6 334.5 L980.2 336.1 L980.7 338.1 L981.7 339.9 L982 342"/>
<path d="M912 245 L914 244.1 L916.1 243.7 L918.2 243.4 L920.5 243.9 L922.6 243.5 L924.6 242.7 L926.6 241.8 L928.7 241.4 L930.9 241.3 L933 241.1 L935 240 L937.2 239.7 L939.3 238.9 L941.2 237.7 L943.6 237.7 L945.8 237.4 L947.9 236.7 L949.7 235 L952 235 L952.1 237.2 L953.1 239.2 L953.8 241.3 L953 243.7 L953.9 245.8 L954.2 247.9 L955 250 L957.2 249.9 L959.1 251.3 L961.1 251.9 L963.2 252.3 L965.3 252.4 L967.4 253 L969.5 253.4 L971.6 253.5 L973.8 253.7 L975.7 254.6 L977.8 255 L980 255 L981.9 255.8 L984 255.1 L985.9 256.3 L988 255.8 L989.9 256.7 L992.1 255.6 L993.9 257.1 L996 257 L998 256.4 L1000 257 L1000.8 258.9 L1002.8 260 L1004.1 261.6 L1005.1 263.5 L1006.6 264.9 L1007.5 266.7 L1008.3 268.7 L1010 270 L1011.9 271.4 L1013.8 272.6 L1016.1 273.4 L1017.8 275 L1019.8 276.2 L1022 277 L1024.1 276.2 L1026.3 275.6 L1028.2 274.4 L1029.9 272.9 L1032 272 L1033.5 273.6 L1033.8 275.9 L1034.6 277.9 L1036.2 279.4 L1036.9 281.4 L1037.6 283.5 L1038.6 285.3 L1040 287 L1041.9 286.1 L1044 286.6 L1045.9 285.7 L1047.9 285.6 L1050 286.5 L1052 285.7 L1054 285.8 L1056 285.3 L1058 285 L1060 285 L1062.3 285.3 L1064.4 286.2 L1066.3 287.6 L1068.5 288 L1070.8 288.3 L1073.1 288.7 L1075 290 L1077.4 290.3 L1079.6 291.6 L1082 292"/>
<path d="M907 95 L908.8 95.9 L910.4 97.2 L912 98.4 L914 99 L912.5 100.8 L910.2 101.6 L909 103.7 L906.5 104.2 L905 106 L907.1 107.1 L908.7 108.7 L909.8 111 L912 112 L914 111.4 L915.9 110.8 L918.1 111.4 L920 110.6 L922 110 L923.7 111.5 L926.1 111.9 L928 113 L930 114 L929.9 116.2 L931.1 118 L931 120.2 L932.7 121.9 L932.3 124.1 L933.8 125.9 L933.8 128 L935.2 129.8 L935 132 L937.1 132.1 L938.8 133.8 L941 133.7 L942.9 134.8 L945 135 L947.1 134.5 L949.2 134.5 L951.3 134 L953.5 134.6 L955.7 134.9 L957.8 134.3 L959.9 133.9 L962 134 L964.2 133.4 L966 132.2 L967.7 130.8 L969.1 128.9 L971.4 128.4 L973.1 127.1 L975 126 L976 127.9 L978.1 128.6 L979.3 130.4 L980.9 131.7 L982.6 132.9 L984 134.4 L985.3 136 L986.6 137.6 L988.5 138.6 L990 140 L988.5 141.6 L986.3 142.3 L985.6 144.7 L983.3 145.2 L982 147 L980.8 148.9 L979.9 151 L979.1 153 L977.7 154.8 L977 157 L976.1 159.1 L976.1 161.2 L975.8 163.4 L976.5 165.7 L975.8 167.7 L975.8 169.9 L975 172 L973.4 173.5 L972.5 175.3 L972.5 177.7 L970.9 179.1 L969.9 180.9 L969.6 183.1 L968.1 184.7 L966.7 186.2 L965.8 188.1 L965 190 L964.3 192.5 L962.6 194.5 L962 197 L960.5 195.4 L959.6 193.5 L958.2 191.8 L957 190 L954.9 190.6 L953.5 192.3 L951.7 193.3 L950.2 194.7 L948.8 196.3 L946.6 196.8 L945.1 198.3 L943.5 199.5 L942.2 201.3 L940.6 202.6 L938.6 203.4 L936.7 204.3 L935.1 205.5 L933.8 207.3 L932.3 208.8 L930.3 209.5 L928.3 210.3 L927 212 L928.8 213.1 L929.6 215.1 L931.6 215.9 L932.9 217.5 L934.6 218.7 L935.8 220.4 L937 222 L936.7 224 L935.3 225.8 L934.8 227.8 L935 230 L937.3 230.3 L939.4 231.2 L941.2 232.8 L943.7 232.4 L945.8 233.3 L947.9 234.2 L950 235"/>
<path d="M695 652 L696.5 650.5 L698.3 649.7 L700.2 648.9 L702 648 L704.1 648.8 L706 650 L708.2 649 L709.3 646.7 L711 645.2 L713 644 L715.4 644.3 L717.7 643.3 L720 643 L721.7 644.9 L724 646 L724.8 648.1 L725.6 650.2 L727.2 651.9 L728 654 L727.7 656.2 L726 657.9 L725.6 660 L724.7 662 L724 664 L722.5 665.9 L721 667.8 L720 670 L722.6 670.7 L725 672 L727.6 672.8 L730 674 L732.2 673.9 L734 672.7 L736 672 L737.8 669.8 L740 668 L742 667.8 L743.9 666.8 L746.1 667.2 L747.9 665.7 L750 666 L752.1 666 L754 665 L756.1 663.1 L758 661 L760.1 661.3 L762 662 L763.9 663 L766.1 662.5 L768.1 662.8 L770.1 663 L772 664 L774 663.9 L776 664 L778 663.8 L780 663.2 L782 663.6 L784 663 L785.9 664.1 L787 666 L786.3 668.1 L785 670 L786.5 671.8 L787.8 673.8 L790 675 L792 675 L794 674.9 L796 674.8 L798 674 L800 674 L802.2 674.1 L804.1 673.4 L805.9 672.3 L808 672"/>
<path d="M736 676 L735.8 678 L734.9 679.9 L735.2 682 L735.1 684.1 L733.8 685.9 L734 688 L733 690 L732 692 L730.8 693.9 L730 696 L728.6 697.8 L728.9 700.2 L727.8 702.1 L727.4 704.2 L726 706 L725.3 708 L724.4 710 L723.1 711.8 L722.6 713.9 L722 716 L720.7 717.5 L719.7 719.3 L718.3 720.7 L717.5 722.6 L716 724 L714.7 725.8 L714 727.8 L713.1 729.8 L713.3 732.2 L712 734 L710.6 735.4 L709.3 737 L708.4 738.8 L706.7 740 L706 742"/>
<path d="M720 670 L721.1 671.9 L722.7 673.3 L724.2 674.8 L726 676 L728 676.2 L730 676.6 L732 675.4 L734 676.3 L736 676"/>
<path d="M937 224 L939.7 222.8 L942 221 L944 221.5 L946.1 221.3 L948 222 L949.6 223.7 L950 226 L947.9 227.9 L946 230 L943.7 228.5 L941 228 L938 229 L937 231 L938.8 233.3 L940 236 L942 235.6 L944 235.6 L946 235.4 L948 236 L950 233"/>
<path d="M47 377 L48 375.1 L49.1 373.2 L50.9 371.9 L52 370 L52.1 367.8 L53.6 366 L54.1 363.9 L55 362 L56.7 360.5 L59 360.3 L60.7 358.7 L63 358.4 L64.7 357 L66.8 356.2 L69 355.8 L71 355 L73.1 354.9 L74.8 353.3 L76.9 352.9 L79.1 352.9 L81.2 352.8 L83 351.7 L85 351 L85.5 353 L85 355.1 L86 357 L88.1 356.2 L90.3 357.3 L92.4 356.3 L94.5 355.9 L96.7 355.7 L98.8 355.9 L101 356 L102.5 354.4 L102.9 352 L104.5 350.5 L105.7 348.7 L106.6 346.6 L107.9 344.9 L109 343 L111.2 342.5 L113.4 342.7 L115.5 343.1 L117.6 343.9 L119.8 343.7 L122 344 L123.4 342.2 L125.3 340.9 L126.8 339.2 L128.2 337.4 L130 336 L132.1 335.7 L134.1 334.9 L135.9 333.5 L138 333.3 L140 332.5 L142.2 332.3 L144.1 331.4 L145.9 330.1 L148.2 330.4 L150 329 L151.7 327.7 L153.7 327.3 L155.8 327 L157.4 325.4 L159.4 325.1 L161.1 323.7 L163.3 323.8 L165.3 323.1 L167 322 L167.1 320 L167.6 318 L166.7 316 L167.3 314 L167.1 312 L167 310 L168.8 308.1 L170.3 306 L172 304 L174.3 303.1 L176.4 301.9 L178 300 L177.2 298.1 L176.7 296.2 L175.1 294.6 L175.3 292.4 L174.5 290.5 L174.2 288.5 L173.2 286.7 L172 285 L171.4 282.9 L171.3 280.7 L171.4 278.5 L170.1 276.5 L170.5 274.3 L169.8 272.2 L170 270 L168.1 269.3 L166.4 268.1 L165.4 266.1 L163.3 265.6 L162 264 L164 262.8 L166.3 262.2 L168.7 262 L170.4 260.1 L172.8 259.8 L175 259 L177 258.7 L179.1 258.8 L181.1 258.3 L183.1 257.9 L184.9 256.7 L187 256.5 L189 256 L191.1 256.4 L193.1 256.1 L195 255 L196.8 253.9 L198.9 253.3 L200.9 252.8 L202.9 252.2 L205 252 L205.2 250 L205.5 248 L205.2 246 L205.1 243.9 L206 242 L206.9 240.1 L207.8 238.1 L209.1 236.4 L210.6 234.8 L211.3 232.7 L212 230.7 L213.2 228.9 L214.2 227 L215 225 L215.7 222.6 L218 221.3 L219.1 219.2 L220 217 L221.8 218.4 L223.8 219.1 L226.1 219.4 L228.1 220.2 L230.2 220.6 L232 222 L234.1 222.4 L236.3 221.8 L238.4 222 L240.5 222.5 L242.6 222.6 L244.7 223.1 L246.8 222.9 L249 223 L251 224 L252.3 222.3 L254 220.9 L256 220 L258.2 218.8 L260.2 217.3 L263 217.5 L265 216 L265 214 L264.1 212 L264.1 210 L264.1 208 L264 206 L264 204 L263.6 201.9 L264.9 200.1 L265.3 198.1 L264.7 196 L265 194 L267 193.2 L268.8 191.8 L270.8 191 L272.9 190.6 L275 190 L276.9 189.3 L279.1 189.8 L281 189 L281.5 186.5 L282.3 184.2 L284.6 182.5 L285 180 L287.5 178.5 L290 177 L292 176.5 L294 177.1 L296 176.3 L298 177 L300 177.7 L302 177.5 L304 177 L304.2 179.6 L305 182 L306.6 183.8 L307.7 185.9 L309.2 187.7 L310 190 L311.5 191.6 L313.5 192.5 L315 194.1 L317 195 L319.1 196 L321.2 197 L322.8 199 L324.6 200.4 L327 201 L328.9 201.7 L331 201.9 L333 202.1 L335 202.2 L337 202 L339.5 202.6 L341.7 204 L344 205 L346.1 206.2 L348.4 207.1 L350 209 L351.2 210.8 L351.3 212.9 L351.9 214.9 L352 217 L353.4 218.6 L354.7 220.3 L356.9 221.1 L358 223.1 L360 224 L359.6 226.1 L360 228.1 L361 230 L360.5 232.4 L360.1 234.8 L359 237 L358.6 239.1 L357.9 241.2 L357.2 243.2 L356 245 L355.8 247.3 L355.4 249.7 L356 252 L356.6 254 L358 255.5 L358.8 257.4 L360 259 L362.1 259.6 L364.3 258.7 L366.4 259.7 L368.5 260.2 L370.7 260.1 L372.8 260.2 L375 260 L377 260.1 L379 259.9 L381 261 L383 260.5 L385 261.4 L386.9 261.8 L389 261.1 L391 261.3 L392.9 262.3 L395 262.2 L397 262 L399.1 262.1 L401.2 262.7 L403.2 263.3 L404.8 265 L407 265 L409 266.3 L411.5 266.2 L413.3 268 L415.4 269 L417.7 269.4 L420 270 L422.1 270.8 L424 272.1 L426.2 272.5 L428.3 273.3 L429.7 275.6 L432 276 L434 276.5 L436 276.5 L437.9 277.4 L440 277 L440.3 279 L439.9 281.1 L440.3 283.1 L441 285 L442.6 286.8 L443.7 288.8 L444.9 290.8 L446.1 292.8 L447 295 L448.1 296.8 L449.8 298.3 L450.8 300.2 L452 302 L454.1 303.3 L454.9 305.8 L457 307 L459.1 306.8 L461.3 306.9 L463.4 307.1 L465.6 307.6 L467.7 306.9 L469.9 307.6 L472 307 L474 307.2 L476 307.4 L478 307.6 L480.1 307.1 L482 307.9 L484 307.7 L486.1 307.7 L488 309 L490 308.3 L492 309 L494 309.5 L496 309.5 L498 309.3 L500 309.8 L502 310.1 L504 310.6 L506.1 309.8 L508 310.7 L510 310.4 L512 311 L514 310.4 L516 311 L518 310.3 L520 310.2 L522 310.3 L524.1 310.3 L526 309.4 L528 309.4 L530 309 L532.1 309.4 L534.2 309.9 L536.2 310.5 L538.3 310.6 L540.4 311.1 L542.5 311.5 L544.5 312.6 L546.6 312.6 L548.6 313.3 L550.7 313.8 L553 313.2 L555 314 L556.6 315.7 L557.9 317.8 L560 319 L562 319.9 L564.4 319.3 L566.5 319.7 L568.6 320.6 L570.8 320.5 L572.9 321.2 L575 322 L577.3 322 L579.2 323.4 L581.3 324.1 L583.4 324.9 L585.8 324.4 L587.8 325.7 L590 326 L592 326.4 L594 325.8 L596 327 L598 327.3 L600 326.3 L602 327.5 L604 327 L605.1 328.9 L606 331 L608 330.7 L610.1 331.2 L612.1 330.7 L614 330 L615.6 328.7 L617.6 328.2 L619.5 327.5 L621.2 326.4 L623 325.4 L625 325 L627.1 324 L629.4 323.9 L631.2 322.2 L633.6 322.2 L635.7 321.3 L637.6 320 L640 320 L642.1 319.1 L644.3 318.9 L646.4 318.1 L648.3 316.9 L650.8 317.6 L652.9 316.7 L655.1 316.3 L657 315 L659 314.4 L661 314.5 L663 314.2 L665 315.2 L667 314.4 L669 314.1 L671 314.5 L673 315.2 L675 315 L677 314.1 L679 313.9 L681 315 L683 314.4 L685 314.6 L687 313.6 L689 313.5 L691 314.4 L693 313.9 L695 314 L696.8 312.6 L699.3 312.9 L701.1 311.7 L703.2 311.1 L704.8 309.3 L707 309 L709 307.8 L709.7 305.3 L712.2 304.6 L713.4 302.6 L715 301 L716.6 299.5 L718.5 298.5 L720.5 297.7 L721.6 295.6 L723.2 294.1 L725.3 293.3 L727 292 L728.6 290.7 L730.3 289.5 L732.2 288.6 L733.9 287.4 L736 287 L734.3 285.4 L733.2 283.4 L731.9 281.6 L731.2 279.3 L729.3 277.9 L728.3 275.9 L727 274 L727.9 272 L729.3 270.4 L730.2 268.3 L731.7 266.8 L732.7 264.8 L734.8 263.7 L735.8 261.8 L737 260 L739.1 260.2 L741 261.2 L742.8 262.4 L745.2 261.8 L746.9 263.5 L749 263.5 L751 264.2 L752.9 265.3 L755 265.2 L757 266 L759 265.8 L761 265.9 L763.1 266.1 L765 265 L767 265 L769.1 264.3 L771 263.1 L772.8 261.9 L774.5 260.5 L776.4 259.3 L778.1 257.8 L780 256.8 L781.9 255.6 L784.3 255.4 L786 254 L788 253.2 L790.1 252.6 L792.2 252.1 L794.5 252.7 L796.7 252.3 L798.7 251.6 L800.7 250.6 L802.8 250.1 L805 250 L806.8 248.5 L809 247.5 L810.7 246 L813 245.1 L815 244 L816.1 242 L818.3 240.8 L819.8 239 L820.7 236.8 L822 235 L824 233.9 L826.5 234.2 L828.3 232.6 L830.5 231.9 L832.5 230.7 L834.8 230.5 L837 230 L839.1 229.6 L841.2 229.3 L843.2 228.6 L845.3 228.7 L847.3 227.6 L849.4 227.7 L851.5 227.1 L853.6 227.2 L855.6 226.3 L857.7 226 L859.9 226 L862 226 L864.2 226.2 L866.3 227.3 L868.4 227.8 L870.5 228.6 L872.7 229.1 L874.8 229.7 L877 230 L878.3 228.2 L878.3 225.9 L879 223.9 L880 222 L879.1 219.8 L876.7 218.9 L876 216.6 L874.5 215 L872.3 213.9 L871.8 211.4 L870 210 L868.5 208.6 L866.5 208 L864.8 207 L863 206 L860.8 206 L859.2 204.6 L857.4 203.7 L855.8 202.4 L854 201.5 L852 201 L850 200.5 L848 200.9 L846 200.4 L844 200.7 L842 201 L840.1 202.3 L838.8 204.3 L837.2 206 L835 207 L832.8 206.8 L830.9 205.7 L828.8 205.3 L827 204 L824.8 203.6 L822.7 204.2 L820.6 204.2 L818.5 204.3 L816.4 204.4 L814.3 204.8 L812.2 205.6 L810 205 L808.2 203.4 L806.2 202.2 L804 201.2 L802 200 L804 198 L806 196 L807.2 194.2 L807.3 191.9 L809.1 190.5 L809.4 188.3 L810.1 186.3 L811.3 184.5 L812.9 183 L813.1 180.7 L814.8 179.2 L816.1 177.5 L816.3 175.3 L817.1 173.3 L818.2 171.5 L819.4 169.8 L820.5 167.9 L821.2 166 L822 164 L823.9 164.8 L826.2 164.6 L828.2 165.3 L830.1 166 L831.9 167.3 L834.1 167.3 L836 168.3 L838.2 168.1 L840.2 168.8 L842 170 L843.7 168.4 L845.9 167.6 L847.7 166.4 L849.6 165.1 L851.1 163.3 L853.2 162.3 L855 161 L857 160.6 L859 160.3 L860.9 159.4 L863.1 160.2 L864.9 158.9 L867 159 L867.7 156.8 L867.7 154.5 L866.3 152.2 L867 150 L867.9 148.1 L869.4 146.5 L870.6 144.7 L870.9 142.5 L871.7 140.5 L872.6 138.5 L874.6 137.2 L875 135 L875.9 133.1 L877.6 131.8 L878.3 129.8 L880 128.5 L881.8 127.3 L882.1 124.9 L884.1 123.9 L885 122 L886.4 120.4 L888.3 119.2 L889.5 117.5 L890.4 115.4 L892.6 114.5 L893.6 112.6 L895 111 L892.9 110.8 L891 110 L889.5 108.5 L887.6 107.7 L885.7 107.1 L884 106 L884.9 103.8 L886.5 102.2 L887.8 100.3 L889.7 99 L890.1 96.4 L892 95 L894.3 94.9 L896.4 94.5 L898.4 92.9 L900.8 93.6 L902.9 92.8 L905 92 L907.1 92.4 L909 91.3 L911 91.2 L913 91 L915.1 91.7 L917 90.9 L919 90.4 L921 90.3 L923 89.9 L925 90 L927 89 L929.1 88.8 L931.4 89.6 L933.4 88.5 L935.6 89.1 L937.5 87.8 L939.7 87.6 L941.8 87.6 L943.8 86.8 L946 87 L948.1 87.8 L950 89 L951.9 90 L953.9 90.2 L955.9 90.4 L958 90.4 L959.9 91.1 L961.9 91.5 L964 91.2 L966 91.7 L968.1 91 L970 92 L971.9 93.2 L974 93.6 L975.9 94.8 L977.9 95.5 L980.1 95.9 L982 97 L983.9 97.8 L984.6 100.1 L986.9 100.6 L988 102.3 L989.7 103.5 L991 105 L992.3 106.9 L992.7 109.2 L993.4 111.3 L995.3 112.8 L995.8 115.1 L997 117 L998.4 118.7 L999.2 120.8 L1000.6 122.5 L1002 124.2 L1003.1 126 L1004.2 127.9 L1005 130 L1005.1 132.5 L1006.3 134.7 L1007 137 L1008.6 138.8 L1009 141.3 L1010.1 143.4 L1012 145 L1012.7 147 L1013.7 148.8 L1014.2 150.9 L1015 152.8 L1015 155 L1015.9 157.3 L1016.9 159.5 L1017 162 L1018.6 163.5 L1019.8 165.3 L1020.7 167.3 L1022 169 L1024.1 169.6 L1026.3 169.4 L1028.4 168.9 L1030.6 168.9 L1032.7 169 L1034.9 168.8 L1037 169 L1039.1 169.4 L1041.2 169.6 L1043.1 170.5 L1044.8 172.1 L1047 172 L1049.5 171.4 L1052 172 L1053.6 173.6 L1055.1 175.3 L1056.4 177.2 L1058.7 178.1 L1060 180 L1062.1 180.3 L1064.1 181 L1066 181.9 L1068 182.6 L1069.8 184 L1072 184 L1071.5 186 L1071.4 188 L1072.7 190 L1072 192 L1073.6 193.7 L1073.7 196.1 L1074.5 198.3 L1076 200 L1077 201.7 L1077.9 203.6 L1079.7 204.9 L1080 207 L1082 206.8 L1084 207.6 L1086 207.5 L1088 207.5 L1090 207.7 L1092 206.6 L1094 206.4 L1096 206.5 L1098 207 L1100 207 L1102.1 206.2 L1104.3 205.6 L1106.1 204.3 L1108.1 203.2 L1110.2 202.4 L1112 201 L1114 200.4 L1116 200 L1117.8 198.7 L1120.1 199.2 L1121.9 197.8 L1124.2 198.3 L1126.1 197.3 L1127.9 196.3 L1130 196 L1131.9 195.1 L1133.9 194.8 L1136 195 L1138.1 194.7 L1139.9 193.4 L1141.9 193 L1144 193.2 L1146 192.9 L1148 192.2 L1150 192 L1152 192 L1150.5 193.6 L1148.4 194.4 L1147.2 196.3 L1145 197 L1145.8 199.2 L1146.1 201.5 L1145.8 203.9 L1147 206 L1145.1 207.3 L1143.1 208.6 L1141.8 210.5 L1140 212 L1139.1 214.2 L1137.8 216.2 L1135.7 217.6 L1135 220 L1134.2 221.9 L1134.3 224.1 L1134.2 226.2 L1133 228 L1132.2 229.9 L1132 232 L1131.1 234.1 L1130.3 236.2 L1128.8 237.9 L1127.4 239.7 L1127 242 L1126.1 244.2 L1125.1 246.4 L1123.5 248.1 L1122 250 L1121.1 252.1 L1119.8 253.9 L1119.4 256.2 L1117.6 257.8 L1117 260 L1114.7 259.6 L1112.3 260 L1110 260 L1107.7 259.9 L1105.9 258.2 L1103.5 258.6 L1101.6 257.3 L1099.2 257.5 L1097 257 L1095 256 L1092.9 256.8 L1091.4 258.5 L1089 258.8 L1087.5 260.5 L1085.9 262 L1084 263.1 L1081.9 264 L1080 265 L1080.2 267 L1080.1 269.1 L1081.7 270.9 L1081.8 273 L1082 275 L1082.8 277.1 L1082 279.4 L1083.7 281.3 L1084.2 283.4 L1084.5 285.5 L1084.4 287.7 L1084 290 L1085 292 L1082.2 293 L1080 295 L1078.7 296.8 L1077.3 298.7 L1076.4 300.7 L1076.2 303.1 L1075 305 L1074.9 307.1 L1073.2 308.8 L1072.8 310.9 L1073.3 313.2 L1072 315 L1071 313.2 L1069.5 311.8 L1068.3 310.1 L1067.1 308.5 L1065.8 307 L1065 305 L1063.4 306.9 L1061.2 307.8 L1059.1 308.9 L1057 310 L1055.3 311.3 L1055.1 313.7 L1052.9 314.6 L1052.7 316.9 L1051.3 318.5 L1050 320 L1047.8 319.8 L1045.7 320.1 L1043.6 321 L1041.5 321.8 L1039.3 321.5 L1037.2 321.9 L1035 322 L1033.4 323.7 L1033.4 326.2 L1032.2 328.1 L1030.5 329.7 L1030 332 L1028.2 333.4 L1026 333.6 L1023.8 333.8 L1022 335 L1020.1 334.3 L1017.9 335.1 L1015.9 334.9 L1013.9 334.6 L1012.1 333 L1010 333.7 L1008.1 332.7 L1006.1 332.2 L1004 332.8 L1002 332.6 L1000 332 L997.8 333.2 L996.5 335.2 L995 337 L993.3 338.4 L991.1 339 L989.6 340.7 L987.7 341.9 L986.1 343.3 L983.7 343.5 L982 345 L980 345.6 L978.6 347.1 L976.6 347.8 L975.7 350 L973.9 350.9 L972 351.7 L970 352.2 L968.3 353.3 L967 355 L965.7 356.7 L964.5 358.3 L962.9 359.7 L961.4 361.2 L960 362.7 L957.6 362.9 L955.9 364.7 L953.4 364.7 L951.3 365.6 L949.3 366.7 L947.2 366.9 L945.2 367.6 L943.3 368.5 L941.3 369.3 L939.4 370.5 L937.4 371.5 L935.4 372.5 L933.3 373.3 L930.9 374.3 L929.2 376.5 L926.7 377.3 L925.3 379 L923.1 379.7 L921.9 381.6 L920 382.7 L918.4 384.1 L916.6 384.9 L914.4 385 L912.7 386.1 L910.7 386.7 L908.5 386.7 L906.5 387.5 L904.5 388 L902.7 389.3 L903 387 L904 385 L906 383.6 L908.3 382.9 L910.7 382.7 L910.7 380.7 L910.7 378.7 L909 377.5 L907.1 377 L905.3 376 L904 373 L905.4 371.4 L907.3 370.2 L909 369 L910.9 367.6 L912.7 366 L914.5 364.6 L916 362.7 L918.4 361.1 L920 358.7 L921.2 356.8 L922 354.7 L919.9 353.2 L919.1 350.6 L917 349 L914.8 348.1 L913 346.7 L910.8 346.6 L908.5 346.9 L906.2 346.3 L904 346.7 L902.5 348.1 L900.7 349 L898.9 350 L897 350.7 L895.4 353.1 L893 354.7 L890.6 355.5 L888.7 357.3 L886.7 358.7 L884.6 360.3 L882.3 361.5 L880 362.7 L877 363.3 L874.7 365.3 L872.7 367.3 L870.7 369.3 L870.2 371.3 L868.5 372.7 L868 374.7 L866.1 376.3 L863.9 377.7 L862.7 380 L861.3 381.8 L859.1 382.7 L857.3 384 L855.2 384.2 L853.3 385.3 L851.8 383.6 L850.1 382.1 L848 381.3 L845.3 382.7 L844.9 385 L843.6 386.8 L842.8 389 L841.3 390.7 L840 393.3 L842.3 395 L844 397.3 L845.3 400 L847.3 401.2 L849.5 401.2 L851.6 402.2 L853.9 402 L856 402.7 L858.1 403.7 L860.5 403.5 L862.7 404 L864.7 405.5 L865.9 407.8 L868 409.3 L865.5 410.8 L864 413.3 L864.6 416 L864 418.7 L865.7 420.1 L867.4 421.5 L869.3 422.7 L872 422.3 L874.7 422.7 L876.3 421.2 L877.9 419.6 L880 418.7 L881 416.7 L882.4 415.1 L884.1 413.8 L885.3 412 L887.4 411.5 L889.2 410.2 L891.1 409.3 L893.3 409.3 L895.3 409 L897.3 409.3 L899 410.4 L901.1 410.7 L902.7 412 L904.9 413.1 L906.7 414.7 L909 414.7 L911 416 L913.3 416 L915.5 415.6 L917.6 414.5 L920 414.7 L922.5 414.8 L924.7 415.8 L927 416.7 L929.3 417.3 L928.8 419.3 L929.3 421.4 L928.8 423.4 L928 425.3 L925.3 426.7 L922.6 427.1 L920 428 L917.7 428.8 L915.4 429.7 L913.1 430.3 L910.7 430.7 L908.3 431.4 L906.7 433.3 L904.7 433.9 L902.7 433.9 L900.7 434.6 L898.7 434.7 L896 437.3 L894.3 439.2 L892.1 440.5 L890.7 442.7 L888.3 443.4 L886.7 445.3 L885.5 447.2 L884.4 449.2 L882.7 450.7 L880.7 451.8 L879.4 453.7 L877.3 454.7 L875.8 457.2 L873.3 458.7 L871.5 460.1 L870.7 462.3 L869.3 464 L866.7 466.7 L866.9 468.8 L868 470.7 L870 471.2 L872 472 L872.9 474 L874.7 475.3 L876 477 L878.2 477.2 L880.2 477.6 L882 479 L884.5 479.6 L887 480 L887.6 482.3 L888 484.6 L890 486.4 L890 488.9 L891 491 L892.2 492.9 L893 495 L894.5 496.8 L895.3 498.9 L896 501 L896.4 503 L896.2 505.1 L897.9 506.9 L897.7 509 L897.7 511.1 L897.9 513.1 L899 515 L901.1 515.2 L903.2 515.8 L905 517 L906 519.4 L908 521 L908.7 523.2 L910.5 524.5 L912.3 525.9 L913 528 L914 530.8 L916 533 L916.7 535 L916.4 537.1 L917.5 539 L918.6 540.9 L920 542.5 L918.3 541.2 L915.9 541.3 L914.4 539.5 L912.1 539.5 L910.3 538.3 L908.6 536.9 L906.5 536.5 L905.1 534.9 L902.9 534.6 L901.5 533 L902 535.5 L903.9 536.2 L905.5 537.5 L907.2 538.7 L909 539.6 L910.9 540.3 L912.5 541.5 L913.9 543.2 L915.5 544.5 L917.5 545 L917.5 548 L918.2 550.2 L917.5 552.5 L917 553.5 L914.7 553.2 L912.4 552.8 L910 553 L908.6 554.6 L906.5 555 L904.3 555.2 L902.7 556.9 L900.5 557 L901.9 558.6 L903.5 560 L905.4 562.1 L907.5 564 L909 565.8 L911 567.1 L912.5 569 L915 568.5 L916.4 570.7 L917.5 573 L916 575 L917 578 L916.9 580.3 L917.1 582.7 L917 585 L918 587.5 L916.8 589.5 L916.1 591.7 L915.1 593.8 L914.6 596.1 L912.8 597.8 L912 600 L910.8 601.7 L910 603.6 L908.2 604.8 L907 606.4 L906.2 608.4 L905 610 L904.1 612 L902.5 613.5 L901.7 615.6 L900 617 L898.7 618.8 L896.7 619.7 L895.4 621.5 L893.4 622.4 L891.7 623.7 L890 625 L889.2 627.1 L887.2 628.2 L886.5 630.4 L884.4 631.4 L883 633.1 L882 635 L880.7 636.7 L880 638.9 L878.2 640.2 L877 642 L876.8 644 L875.5 645.9 L876.3 648.1 L874.9 649.9 L875 652 L873.6 653.7 L873.2 655.9 L872.3 657.8 L872 660 L870.6 661.5 L868.3 661.7 L867 663.5 L864.9 664.1 L863.3 665.3 L862 667 L861 668.9 L858.9 669.9 L857.3 671.4 L856.9 673.8 L855 675 L853.1 676.4 L850.8 677.2 L849.3 679.2 L847 680 L845.3 681.3 L844.9 683.5 L843.1 684.7 L842.8 687 L841.2 688.3 L840 690 L838.2 691.3 L837.7 693.6 L836.3 695.2 L834.7 696.7 L833.5 698.5 L832 700 L830.3 701.6 L828.2 702.4 L826.2 703.5 L823.7 703.4 L822 705 L819.9 705.8 L817.7 706.5 L816.2 708.4 L813.8 708.6 L812 710 L810.2 711.4 L808 711.6 L805.9 712.3 L804.1 713.5 L801.8 713.7 L800 715 L797.8 715.8 L795.6 716.6 L793.3 717 L791.5 718.9 L788.9 718.5 L787 720 L784.9 720.7 L783.1 721.8 L780.8 722.1 L779.1 723.7 L776.7 723.5 L775 725 L772.8 725.7 L770.7 726.9 L768.4 727.1 L766.4 728.4 L764.3 729.6 L762 730 L759.8 730.9 L758.3 732.9 L755.8 733.1 L754.2 735 L751.9 735.7 L750 737 L748 736.3 L746 736.9 L744 736.8 L742 737 L740.1 737.8 L738.2 738.7 L736.2 739.2 L734.1 739.5 L732 739.3 L730 740 L728 740.5 L726 740.8 L723.9 740.6 L722.1 742.1 L720 742 L717.7 743.9 L715 745 L713.2 746.2 L712.1 748.2 L710 749 L709 751 L707 752 L708.7 753.3 L710 755 L711 756.9 L711 759 L711.6 760.9 L711.5 763 L712 765 L709.6 765.5 L707.5 766.8 L705 767 L702.6 765.8 L700 765 L700 763 L699.5 761 L700.7 759 L699.6 757 L700 755 L698.9 753.2 L698.2 751.2 L698.4 748.9 L698.1 746.8 L697 745 L698.1 743.1 L698.4 740.9 L698.9 738.9 L700 737 L698.8 738.9 L696.5 739.5 L695 741 L693 741.7 L691.1 742.7 L688.9 743 L687 744 L684.6 743.4 L682.5 742 L680 742 L678 741.5 L676 742 L674.1 740.8 L671.9 741.9 L670 741 L668 740.6 L666 740.3 L663.9 740.2 L661.9 740 L660 739 L658.6 737.5 L656.2 737.3 L655 735.4 L653.7 733.8 L651.4 733.6 L650 732 L648.4 730.5 L647.6 728.4 L646.3 726.7 L645 725 L644.6 722.9 L644.3 720.9 L642.7 719.1 L642.3 717.1 L642 715 L639.9 714.4 L637.7 714 L636.2 712 L634.2 711.3 L632.1 710.5 L630 710 L627.8 710.1 L626.1 708.3 L624.1 707.8 L622 707.6 L620 707 L617.6 707.2 L615.4 708.2 L613 708.7 L611.7 710.5 L610.3 712.2 L608.3 713.3 L607.1 715.1 L605.7 716.9 L603.7 718 L601.3 717.5 L599.2 716.1 L596.7 715.7 L594.9 717 L593.2 718.4 L592 720.3 L589.8 718.3 L587.3 716.8 L585 717.2 L582.7 716.8 L581.1 718.7 L579.6 720.8 L578 722.7 L575.9 720.6 L573.3 719.2 L571 718.4 L568.5 717.9 L566.3 716.8 L564.6 718.2 L562.7 719.4 L561.7 721.5 L559.4 722.2 L556.9 721.5 L554.7 723.1 L552.3 722.7 L552.4 725.1 L552.1 727.4 L551.1 729.6 L551.2 732 L551.8 734.6 L553.2 736.8 L554.7 739 L555 741.3 L554.1 743.6 L555 746 L554.7 748.3 L552.4 748.7 L550 747.7 L547.6 748.1 L545.3 748.3 L545 745.9 L544.2 743.7 L543.6 741.3 L543.3 738.8 L541.8 736.7 L540 737.7 L537.9 738.1 L536.1 739.2 L534.1 739.9 L532.5 741.3 L530.2 741.8 L527.8 741.8 L525.5 742.5 L524.4 740.5 L522.9 738.8 L522 736.7 L521.2 734.8 L521.4 732.7 L520.8 730.8 L518.8 731.4 L516.8 730.2 L514.7 731.3 L512.7 730.8 L510 730.3 L508 728.5 L508.7 726.3 L510.9 725 L511.5 722.7 L511.5 720.5 L511.4 718.4 L511.5 716.2 L511.8 714.1 L512.7 712 L511.7 710.2 L510.3 708.7 L508 707.8 L505.7 707.1 L503.3 706.7 L503.4 704.5 L502.1 702.5 L502.7 700.3 L502.1 698.2 L502 696 L501.4 693.8 L500 692 L501.4 690.5 L502 688.5 L500 688.1 L498.1 689.5 L496 689 L493.7 688.7 L491.4 688.9 L489.2 689.1 L487 690 L485.7 691.8 L483.9 693 L482 694 L479 693 L480 690.7 L482 689 L480.4 687.3 L480 685 L479.5 682.8 L478 681 L479 678.6 L479 676 L481.1 675.2 L483 674 L483 671.9 L482 670 L483.2 668.1 L484 666 L485.8 664.2 L488 663 L488.5 660.7 L490 659 L491.7 657.5 L494 657 L496 654 L499 654 L499 651.9 L497.9 650.1 L498 648 L498.8 645.9 L500 644 L500 642 L499.5 640 L500 638 L500.5 636 L500 633.8 L500.6 631.5 L499.9 629.3 L500 627 L499.7 624.7 L500.7 622.3 L500 620 L497 618 L495 618 L493 618 L492.5 615.3 L491 613 L490.7 610.5 L490 608 L488 605 L485.9 604.2 L484.6 602.4 L483 601 L480 599 L477.5 600.6 L475 602 L474.3 604.3 L474.6 606.7 L474 609 L472.4 610.5 L471.3 612.3 L470 614 L467.8 613.4 L466.2 611.5 L463.7 611.5 L462 610 L460.5 608.6 L458.3 608.4 L456.4 607.6 L455 606 L452.9 605.9 L451.1 604.6 L449.2 603.8 L447 604 L444.9 605.4 L442.3 605.3 L440 606 L438.3 607.7 L436.4 609 L435 611 L433.3 612.2 L431.3 612.5 L429.5 613.5 L427.3 613.5 L425.8 615.1 L423.5 614.9 L422 616.6 L420 617 L418.6 619 L416.5 620.1 L415 622 L413.8 624 L413 626.3 L411.1 627.9 L410 630 L408 630.7 L406 629.8 L404 630 L402 630 L400 630.4 L398 630.9 L396 630.9 L394 631 L392 631 L389.8 630.4 L387.6 631.6 L385.4 630.4 L383.2 631.7 L381 631 L380.3 628.8 L380.1 626.5 L380.8 624.2 L380 622 L378 621.5 L376 621.2 L374.1 619.9 L372 620 L371.6 617.5 L372 615 L370.3 613 L368.7 611 L367 609 L364.4 609.1 L362 610 L360.1 609.1 L358.1 608.8 L355.9 608.7 L353.9 608.3 L351.9 608 L350 607 L347.9 606.2 L345.7 606.1 L343.6 605.6 L341.3 606.2 L339.2 605.4 L337 605 L335 605.9 L333.4 607.4 L332.1 609.2 L330 610 L329.5 612 L328.3 613.8 L328.7 616.1 L328.2 618.1 L327.4 620.1 L326.3 621.9 L326 624 L324.2 622.5 L322 622 L321.2 619.9 L320.8 617.7 L320.6 615.6 L320.4 613.4 L320.4 611.2 L320 609 L318 609.5 L316 609.3 L314 609.5 L312 609 L309.8 608.5 L307.7 609.2 L305.7 610.3 L303.4 609.3 L301.4 610.8 L299.3 610.7 L297 610 L295 611 L293 610 L290.8 609.5 L288.5 609.4 L286.3 609.2 L284.3 607.9 L282 608.1 L280 607 L278.1 608 L276 608.4 L274.2 609.5 L272 609.5 L270 610 L268.3 608.7 L266.4 608 L264.4 607.4 L262.7 606.4 L260.7 605.8 L258.6 605.3 L257 604 L256.1 601.9 L255 600 L253.2 599.1 L251.7 597.7 L250.1 596.5 L247.9 596.1 L246.3 594.9 L244.7 593.7 L242.7 593.1 L241 592 L239.6 590.2 L239.3 587.9 L238.5 585.7 L237 584 L235 583.8 L233 584.1 L230.9 584.1 L229 584.5 L227 585 L225.5 582.9 L223.6 581 L222 579 L220.2 578.1 L218.8 576.5 L216.7 576 L215.3 574.4 L213.9 572.8 L212 572 L210.4 570.4 L208.4 569.2 L206.3 568.3 L204.6 566.8 L202.8 565.4 L201 564 L198.8 562.8 L196.4 562.1 L194.4 560.8 L192 560 L189.8 561.3 L188.8 563.8 L186.6 565.1 L185 567 L183.2 565.4 L180.9 564.7 L179 563.4 L177.4 561.6 L175 561 L172.7 560.8 L171 559.3 L168.8 559.1 L167.2 557.4 L165 557 L163.9 555.2 L162 554.3 L160.1 553.4 L159.1 551.6 L157.5 550.3 L156 549 L153.9 548.1 L151.6 547.8 L149.5 547 L147.3 546.1 L145 546 L144.3 544 L143.4 542 L143.5 539.8 L141.7 538.1 L141.7 535.9 L140.6 534.1 L140 532 L139.7 529.7 L138 527.9 L138.5 525.3 L136.9 523.5 L135.8 521.5 L135.4 519.2 L135 517 L136.9 515.9 L138.7 514.3 L141 514 L142.4 515.9 L143.8 517.9 L145 520 L146.9 518.5 L148.2 516.5 L150 515 L149.4 513 L149.2 511 L149.8 509 L149.9 506.9 L149 505 L147.6 503.4 L145.9 502.1 L145.1 499.9 L143.3 498.7 L142 497 L141.2 494.9 L140.7 492.7 L141.2 490.3 L140.9 488.1 L140 486 L141.4 484.4 L142.5 482.5 L143.8 480.8 L145 479 L142.7 478.6 L140.9 476.7 L138.4 476.7 L136.4 475.5 L134.3 474.4 L132 474 L131.8 471.5 L130.6 469.3 L130 467 L129.5 465 L129.7 463 L128.8 461.1 L129.7 459 L129 457 L127 457.1 L125 456.2 L123 456.9 L121 456.6 L119 456.7 L117 456.3 L115 456 L112.7 455.6 L110.4 455 L108.6 453.2 L106.2 453 L104 452.2 L102 451 L99.6 450.6 L97.3 449.7 L95 449 L92.9 447.1 L91 445 L90.9 443 L90.7 441 L89.9 439 L90.5 436.9 L90.1 434.9 L88.6 433.1 L89 431 L87.4 429.6 L85.7 428.5 L83.8 427.6 L81.5 427.5 L80 426 L77.9 425.4 L75.7 425.5 L73.5 426.3 L71.4 426.2 L69.3 424.6 L67.2 424.9 L65 425 L64.1 423.1 L64 421 L66 419.6 L68.2 418.9 L70.5 418.2 L72.9 418.2 L75 417 L73.8 414.8 L72.5 412.5 L72 410 L72.4 407.9 L72 406 L70.9 404 L71.8 401.9 L71 400 L71.2 398 L71 396 L69.1 395 L67.1 394.6 L65.2 393.7 L63.1 393.3 L61.1 392.7 L58.9 393 L57 392 L55.1 391.1 L53 390.6 L51 390 L50.7 387.7 L49.6 385.7 L49.5 383.3 L48.4 381.3 L47.3 379.3 Z"/>
<path d="M909 664 L912 666 L914.2 667.2 L916 669 L918 671 L916 673 L915.7 675.3 L914.6 677.6 L915 680 L914.3 682.5 L914 685 L912.6 687.3 L912 690 L911.9 692 L911.6 694 L911 696 L910.6 698.4 L909.5 700.6 L909 703 L908.1 705.3 L907.3 707.5 L907 710 L906.1 712.9 L904 715 L902.4 716.5 L900.9 718 L900 720 L899.4 722.5 L899 725 L899.2 727.6 L898 730 L897.8 732.1 L897 734 L895 734 L893.3 732.3 L893 730 L892.5 727.5 L893 725 L890.8 723 L888 722 L886.6 719.4 L885 717 L884.6 714.6 L884.1 712.2 L883 710 L883.6 708 L883.2 706 L883.2 704 L883.2 702 L883 700 L883.8 698.1 L884 696 L885.5 694.1 L886.9 692.2 L888 690 L888.6 687.8 L890.2 686.1 L891 684 L892.3 682 L894 680.2 L895 678 L895.7 675.7 L897.1 673.7 L898.2 671.6 L900 670 L902.2 669.4 L904 668 L906.1 667.2 L907.5 665.5 Z"/>
<path d="M677 787 L678.2 784.3 L680 782 L681.7 780.4 L684 779.7 L685.7 777.9 L688 777.3 L689.7 775.7 L692 775 L694 774.7 L696 774.3 L698 774.1 L700.1 774.2 L701.9 772.6 L704.1 773.5 L706 772.6 L708 772.4 L710 772 L712 772 L714.1 772.1 L716 771.2 L718 771.1 L720 771 L719.6 773.3 L721.1 775.4 L720.5 777.8 L721 780 L719.3 781.5 L718.5 783.8 L716.4 784.9 L714.8 786.5 L713 787.9 L712 790 L711 791.8 L709.1 792.9 L708.5 795 L707.4 796.7 L705.7 798 L705 800 L704.2 802.1 L702.1 803.1 L700.9 804.9 L699.9 806.8 L697.9 808 L697 810 L694.5 810.7 L692 811 L690 810 L688 809 L686.2 807.6 L683.8 807.4 L682 806.1 L680 805 L679.1 803 L678.6 801 L678.2 798.8 L677 797 L676.7 795 L677.5 793 L676.9 791 L677 789 Z"/>
</g>
<g fill="#595959">
<rect x="785.7" y="946.8" width="1.6" height="1.6"/>
<rect x="822.5" y="946.8" width="1.6" height="1.6"/>
<rect x="791" y="954.4" width="1.6" height="1.6"/>
<rect x="775.2" y="957.9" width="1.6" height="1.6"/>
<rect x="782.8" y="959.6" width="1.6" height="1.6"/>
<rect x="790.2" y="959" width="1.6" height="1.6"/>
<rect x="832.2" y="955" width="1.6" height="1.6"/>
<rect x="839.4" y="955.5" width="1.6" height="1.6"/>
<rect x="832.4" y="962" width="1.6" height="1.6"/>
<rect x="805.5" y="966.6" width="1.6" height="1.6"/>
<rect x="820.7" y="966.6" width="1.6" height="1.6"/>
<rect x="824.8" y="966.6" width="1.6" height="1.6"/>
<rect x="818.4" y="969.5" width="1.6" height="1.6"/>
<rect x="832.4" y="970.1" width="1.6" height="1.6"/>
<rect x="833.5" y="975.4" width="1.6" height="1.6"/>
<rect x="765.9" y="971.6" width="1.6" height="1.6"/>
<rect x="778.7" y="970.7" width="1.6" height="1.6"/>
<rect x="786.3" y="969.5" width="1.6" height="1.6"/>
<rect x="770.5" y="975.4" width="1.6" height="1.6"/>
<rect x="796.8" y="972.5" width="1.6" height="1.6"/>
<rect x="810.2" y="974.2" width="1.6" height="1.6"/>
<rect x="785.2" y="977.7" width="1.6" height="1.6"/>
<rect x="800.9" y="978.9" width="1.6" height="1.6"/>
<rect x="786.3" y="982.2" width="1.6" height="1.6"/>
<rect x="807.3" y="982.4" width="1.6" height="1.6"/>
<rect x="819" y="981.8" width="1.6" height="1.6"/>
<rect x="812.5" y="985.3" width="1.6" height="1.6"/>
<rect x="747.2" y="986.1" width="1.6" height="1.6"/>
<rect x="776.4" y="989.2" width="1.6" height="1.6"/>
<rect x="799.1" y="988.8" width="1.6" height="1.6"/>
<rect x="808.5" y="990.5" width="1.6" height="1.6"/>
<rect x="818.4" y="994" width="1.6" height="1.6"/>
<rect x="821.9" y="996.1" width="1.6" height="1.6"/>
<rect x="767.6" y="992.9" width="1.6" height="1.6"/>
<rect x="767" y="997" width="1.6" height="1.6"/>
<rect x="785.1" y="999.3" width="1.6" height="1.6"/>
<rect x="772.9" y="1000.5" width="1.6" height="1.6"/>
<rect x="777" y="1002.2" width="1.6" height="1.6"/>
<rect x="814.3" y="999.3" width="1.6" height="1.6"/>
<rect x="742.5" y="999.3" width="1.6" height="1.6"/>
<rect x="747.8" y="999.9" width="1.6" height="1.6"/>
<rect x="752.5" y="999.3" width="1.6" height="1.6"/>
<rect x="732" y="1004" width="1.6" height="1.6"/>
<rect x="728" y="1006.6" width="1.6" height="1.6"/>
<rect x="754.8" y="1008.6" width="1.6" height="1.6"/>
<rect x="796.2" y="1006.9" width="1.6" height="1.6"/>
<rect x="800.9" y="1007.1" width="1.6" height="1.6"/>
<rect x="795.6" y="1009.8" width="1.6" height="1.6"/>
<rect x="761.8" y="1012.7" width="1.6" height="1.6"/>
<rect x="760" y="1015.6" width="1.6" height="1.6"/>
<rect x="736.7" y="1016.2" width="1.6" height="1.6"/>
<rect x="730.9" y="1019.7" width="1.6" height="1.6"/>
<rect x="729.7" y="1024.4" width="1.6" height="1.6"/>
<rect x="772.3" y="1017.4" width="1.6" height="1.6"/>
<rect x="789.2" y="1018" width="1.6" height="1.6"/>
<rect x="754.2" y="1020.5" width="1.6" height="1.6"/>
<rect x="786.3" y="1026.1" width="1.6" height="1.6"/>
<rect x="791" y="1027.6" width="1.6" height="1.6"/>
<rect x="770.5" y="1030" width="1.6" height="1.6"/>
<rect x="788" y="1033.1" width="1.6" height="1.6"/>
<rect x="765.9" y="1038.4" width="1.6" height="1.6"/>
<rect x="728.2" y="833.2" width="1.6" height="1.6"/>
<rect x="733.2" y="835.2" width="1.6" height="1.6"/>
<rect x="730.2" y="839.2" width="1.6" height="1.6"/>
<rect x="735.2" y="842.2" width="1.6" height="1.6"/>
<rect x="727.2" y="845.2" width="1.6" height="1.6"/>
<rect x="739.2" y="844.2" width="1.6" height="1.6"/>
<rect x="744.2" y="839.2" width="1.6" height="1.6"/>
<rect x="747.2" y="847.2" width="1.6" height="1.6"/>
<rect x="732.2" y="849.2" width="1.6" height="1.6"/>
<rect x="743.2" y="851.2" width="1.6" height="1.6"/>
<rect x="737.2" y="855.2" width="1.6" height="1.6"/>
<rect x="746.2" y="835.2" width="1.6" height="1.6"/>
<rect x="741.2" y="861.2" width="1.6" height="1.6"/>
<rect x="773.2" y="861.2" width="1.6" height="1.6"/>
<rect x="777.2" y="857.2" width="1.6" height="1.6"/>
<rect x="781.2" y="855.2" width="1.6" height="1.6"/>
<rect x="785.2" y="853.2" width="1.6" height="1.6"/>
<rect x="788.2" y="851.2" width="1.6" height="1.6"/>
<rect x="780.2" y="860.2" width="1.6" height="1.6"/>
<rect x="822.2" y="846.6" width="1.6" height="1.6"/>
<rect x="873.2" y="698.2" width="1.6" height="1.6"/>
<rect x="874.2" y="699.2" width="1.6" height="1.6"/>
<rect x="872.2" y="700.2" width="1.6" height="1.6"/>
<rect x="871.2" y="703.2" width="1.6" height="1.6"/>
<rect x="870.2" y="707.2" width="1.6" height="1.6"/>
<rect x="908.2" y="718.2" width="1.6" height="1.6"/>
<rect x="909.2" y="730.2" width="1.6" height="1.6"/>
<rect x="919.2" y="659.2" width="1.6" height="1.6"/>
<rect x="919.2" y="660.2" width="1.6" height="1.6"/>
<rect x="943.2" y="655.2" width="1.6" height="1.6"/>
<rect x="947.2" y="651.2" width="1.6" height="1.6"/>
<rect x="892.2" y="397.2" width="1.6" height="1.6"/>
<rect x="894.2" y="399.2" width="1.6" height="1.6"/>
<rect x="896.2" y="402.2" width="1.6" height="1.6"/>
<rect x="897.2" y="404.2" width="1.6" height="1.6"/>
<rect x="924.2" y="380.2" width="1.6" height="1.6"/>
<rect x="927.2" y="377.2" width="1.6" height="1.6"/>
<rect x="930.2" y="378.2" width="1.6" height="1.6"/>
<rect x="935.2" y="375.2" width="1.6" height="1.6"/>
<rect x="938.2" y="376.2" width="1.6" height="1.6"/>
<rect x="798" y="895.2" width="1.6" height="1.6"/>
<rect x="755.5" y="782.6" width="1.6" height="1.6"/>
<rect x="745.2" y="1059.2" width="1.6" height="1.6"/>
<rect x="746.2" y="1065.2" width="1.6" height="1.6"/>
<rect x="747.2" y="1071.2" width="1.6" height="1.6"/>
<rect x="748.2" y="1077.2" width="1.6" height="1.6"/>
<rect x="744.2" y="1062.2" width="1.6" height="1.6"/>
<rect x="738.2" y="1100.2" width="1.6" height="1.6"/>
<rect x="742.2" y="1100.2" width="1.6" height="1.6"/>
</g><g fill="none" stroke="#595959" stroke-width="0.9">
<circle cx="787.4" cy="955.8" r="1.3"/>
<circle cx="842.3" cy="961.4" r="1.3"/>
<circle cx="771.3" cy="789" r="1.3"/>
<circle cx="841.3" cy="871.5" r="1.3"/>
<circle cx="711" cy="1015" r="1.3"/>
<circle cx="692" cy="1030" r="1.3"/>
<circle cx="698" cy="1027" r="1.3"/>
<circle cx="770" cy="791" r="1.3"/>
</g><g fill="none" stroke="#595959" stroke-width="1.05" stroke-linecap="butt">
<path d="M882.4 792.7 L872.5 814"/>
<path d="M689.7 849.4 L695.4 859.3 L699.1 867.8 L699.7 872"/>
<path d="M864.8 853 L864.8 875.8" stroke-width="2.2"/>
<path d="M707.6 931.6 L708 940 L706 947 L703.3 952.2"/>
<path d="M863.4 935.8 L860 947 L855.5 959"/>
<path d="M814.5 1018.2 L801.7 1035.7"/>
<path d="M859.4 949.3 L855.3 959.3"/>
<path d="M670.8 1036.4 L670 1047 L671.9 1059"/>
<path d="M753.5 1105.2 L734.2 1111.4"/>
<path d="M932 679 L927 702" stroke-width="2.2"/>
<path d="M916 738 L902 756"/>
</g>
<path d="M770.2 1025.8 L774.8 1025.2 L778.3 1021.7 L783 1019.3 L784.2 1020.5 L780.7 1024 L777.2 1026.9 L772.5 1026.9 Z" fill="#FEE79B" stroke="#595959" stroke-width="0.8"/>
<path d="M915 567 L918 565 L922 566 L926 568 L927 572 L925 575 L921 576.5 L918 574 L915 571 Z" fill="#5a5a5a" stroke="#555555" stroke-width="0.8"/>
<path d="M922 559 L926 559 L926 560.5 L922 560.5 Z" fill="#5a5a5a" stroke="#555555" stroke-width="0.8"/>
<path d="M925 553 L929 555 L928 556 L925 554.5 Z" fill="#5a5a5a" stroke="#555555" stroke-width="0.8"/>
<path d="M931 554 L933 554 L933 555 L931 555 Z" fill="#5a5a5a" stroke="#555555" stroke-width="0.8"/>
<rect x="918" y="566.5" width="3" height="2" fill="#FEE79B"/><rect x="920" y="571" width="1.5" height="1.5" fill="#FEE79B"/>
</g>
<g fill="#000" shape-rendering="crispEdges"><rect x="24" y="24" width="1152" height="1"/><rect x="24" y="24" width="1" height="1152"/><rect x="1174" y="24" width="2" height="1152"/><rect x="24" y="1174" width="1152" height="2"/></g>
<text class="cjk" x="50" y="108" font-size="50" letter-spacing="2">父系</text><text transform="translate(152.1,108.3) scale(1.03,0.773)" font-family="Liberation Serif, Noto Serif CJK SC, serif" font-weight="900" font-size="40">：</text><text class="lat" x="218" y="106" font-size="52">C-MF1674 (</text><text class="cjk" x="496" y="107.7" font-size="51" letter-spacing="1.5">含下游</text><text class="lat" x="655" y="106" font-size="52">)</text>
<text class="cjk" x="55" y="787" font-size="36.4">相对占比</text>
<g id="legend" shape-rendering="crispEdges">
<rect x="58" y="804.6" width="33" height="34.4" fill="#FFFFE5"/>
<rect x="58" y="838.2" width="33" height="34.4" fill="#FFF8C1"/>
<rect x="58" y="871.8" width="33" height="34.4" fill="#FEE79B"/>
<rect x="58" y="905.4" width="33" height="34.4" fill="#FECE65"/>
<rect x="58" y="939.0" width="33" height="34.4" fill="#FEAC3A"/>
<rect x="58" y="972.6" width="33" height="34.4" fill="#F68720"/>
<rect x="58" y="1006.2" width="33" height="34.4" fill="#E1640E"/>
<rect x="58" y="1039.8" width="33" height="34.4" fill="#C14702"/>
<rect x="58" y="1073.4" width="33" height="34.4" fill="#933204"/>
<rect x="58" y="1107.0" width="33" height="33.6" fill="#662506"/>
</g>
<g class="lat" font-size="27.5" letter-spacing="0.5" fill="#000">
<text x="100" y="833.8">0.047% - 0.141%</text>
<text x="100" y="867.4">0.141% - 0.246%</text>
<text x="100" y="901.0">0.246% - 0.366%</text>
<text x="100" y="934.6">0.366% - 0.532%</text>
<text x="100" y="968.2">0.532% - 0.765%</text>
<text x="100" y="1001.8">0.765% - 1.031%</text>
<text x="100" y="1035.4">1.031% - 1.543%</text>
<text x="100" y="1069.0">1.543% - 2.041%</text>
<text x="100" y="1102.6">2.041% - 2.381%</text>
<text x="100" y="1136.2">2.381% - 2.920%</text>
</g>
<text x="945" y="1138" font-size="28"><tspan class="cjk">作者</tspan><tspan class="lat">:O1a</tspan><tspan class="cjk">溯源群</tspan></text>
</svg>
</body></html>
